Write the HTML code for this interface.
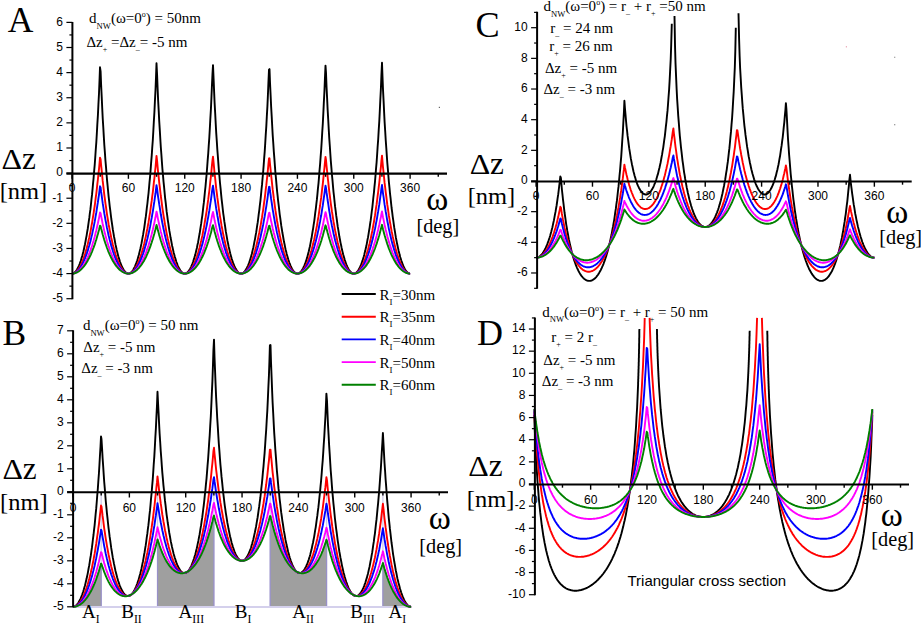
<!DOCTYPE html><html><head><meta charset="utf-8"><style>html,body{margin:0;padding:0;background:#fff;}svg{display:block;}</style></head><body><svg width="921" height="624" viewBox="0 0 921 624">
<rect width="921" height="624" fill="#fff"/>
<line x1="101.20" y1="491.80" x2="101.20" y2="606.80" stroke="#cfcaea" stroke-width="1.3"/>
<line x1="157.54" y1="491.80" x2="157.54" y2="606.80" stroke="#cfcaea" stroke-width="1.3"/>
<line x1="213.88" y1="491.80" x2="213.88" y2="606.80" stroke="#cfcaea" stroke-width="1.3"/>
<line x1="270.22" y1="491.80" x2="270.22" y2="606.80" stroke="#cfcaea" stroke-width="1.3"/>
<line x1="326.56" y1="491.80" x2="326.56" y2="606.80" stroke="#cfcaea" stroke-width="1.3"/>
<line x1="382.90" y1="491.80" x2="382.90" y2="606.80" stroke="#cfcaea" stroke-width="1.3"/>
<path d="M73.03,606.80 L73.03,606.80 L73.26,606.80 L73.50,606.79 L73.73,606.78 L73.97,606.76 L74.20,606.74 L74.44,606.71 L74.67,606.68 L74.91,606.64 L75.14,606.60 L75.38,606.55 L75.61,606.50 L75.85,606.44 L76.08,606.38 L76.32,606.32 L76.55,606.24 L76.79,606.17 L77.02,606.08 L77.26,606.00 L77.49,605.91 L77.72,605.81 L77.96,605.71 L78.19,605.60 L78.43,605.49 L78.66,605.37 L78.90,605.25 L79.13,605.12 L79.37,604.98 L79.60,604.85 L79.84,604.70 L80.07,604.55 L80.31,604.40 L80.54,604.24 L80.78,604.07 L81.01,603.90 L81.25,603.73 L81.48,603.55 L81.72,603.36 L81.95,603.17 L82.19,602.97 L82.42,602.77 L82.65,602.56 L82.89,602.34 L83.12,602.12 L83.36,601.90 L83.59,601.66 L83.83,601.43 L84.06,601.18 L84.30,600.93 L84.53,600.68 L84.77,600.42 L85.00,600.15 L85.24,599.88 L85.47,599.60 L85.71,599.31 L85.94,599.02 L86.18,598.72 L86.41,598.42 L86.65,598.11 L86.88,597.79 L87.11,597.47 L87.35,597.14 L87.58,596.80 L87.82,596.46 L88.05,596.11 L88.29,595.75 L88.52,595.38 L88.76,595.01 L88.99,594.64 L89.23,594.25 L89.46,593.86 L89.70,593.46 L89.93,593.05 L90.17,592.64 L90.40,592.22 L90.64,591.79 L90.87,591.35 L91.11,590.91 L91.34,590.45 L91.58,589.99 L91.81,589.52 L92.04,589.05 L92.28,588.56 L92.51,588.07 L92.75,587.57 L92.98,587.06 L93.22,586.54 L93.45,586.01 L93.69,585.48 L93.92,584.93 L94.16,584.38 L94.39,583.82 L94.63,583.24 L94.86,582.66 L95.10,582.07 L95.33,581.47 L95.57,580.86 L95.80,580.24 L96.04,579.61 L96.27,578.97 L96.50,578.32 L96.74,577.66 L96.97,576.98 L97.21,576.30 L97.44,575.61 L97.68,574.90 L97.91,574.19 L98.15,573.46 L98.38,572.72 L98.62,571.97 L98.85,571.20 L99.09,570.43 L99.32,569.64 L99.56,568.84 L99.79,568.03 L100.03,567.20 L100.26,566.36 L100.50,565.51 L100.73,564.64 L100.97,563.76 L101.20,562.87 L101.20,606.80 Z" fill="#9f9f9f" stroke="#9890c8" stroke-width="1.2"/>
<path d="M157.54,606.80 L157.54,539.25 L157.77,540.04 L158.01,540.82 L158.24,541.59 L158.48,542.34 L158.71,543.08 L158.95,543.80 L159.18,544.52 L159.42,545.22 L159.65,545.91 L159.89,546.58 L160.12,547.25 L160.36,547.90 L160.59,548.54 L160.83,549.17 L161.06,549.79 L161.30,550.40 L161.53,551.00 L161.77,551.59 L162.00,552.17 L162.24,552.73 L162.47,553.29 L162.70,553.84 L162.94,554.37 L163.17,554.90 L163.41,555.42 L163.64,555.92 L163.88,556.42 L164.11,556.91 L164.35,557.39 L164.58,557.86 L164.82,558.32 L165.05,558.78 L165.29,559.22 L165.52,559.66 L165.76,560.09 L165.99,560.50 L166.23,560.92 L166.46,561.32 L166.70,561.71 L166.93,562.10 L167.16,562.48 L167.40,562.85 L167.63,563.21 L167.87,563.57 L168.10,563.92 L168.34,564.26 L168.57,564.59 L168.81,564.92 L169.04,565.23 L169.28,565.55 L169.51,565.85 L169.75,566.15 L169.98,566.44 L170.22,566.72 L170.45,567.00 L170.69,567.27 L170.92,567.53 L171.16,567.79 L171.39,568.04 L171.62,568.28 L171.86,568.52 L172.09,568.75 L172.33,568.97 L172.56,569.19 L172.80,569.40 L173.03,569.61 L173.27,569.81 L173.50,570.00 L173.74,570.19 L173.97,570.37 L174.21,570.55 L174.44,570.72 L174.68,570.88 L174.91,571.04 L175.15,571.19 L175.38,571.34 L175.62,571.48 L175.85,571.61 L176.09,571.74 L176.32,571.87 L176.55,571.98 L176.79,572.10 L177.02,572.20 L177.26,572.30 L177.49,572.40 L177.73,572.49 L177.96,572.58 L178.20,572.66 L178.43,572.73 L178.67,572.80 L178.90,572.86 L179.14,572.92 L179.37,572.97 L179.61,573.02 L179.84,573.06 L180.08,573.10 L180.31,573.13 L180.55,573.16 L180.78,573.18 L181.01,573.20 L181.25,573.21 L181.48,573.22 L181.72,573.22 L181.95,573.21 L182.19,573.21 L182.42,573.19 L182.66,573.17 L182.89,573.15 L183.13,573.12 L183.36,573.08 L183.60,573.04 L183.83,573.00 L184.07,572.95 L184.30,572.89 L184.54,572.83 L184.77,572.77 L185.01,572.70 L185.24,572.63 L185.48,572.54 L185.71,572.46 L185.94,572.37 L186.18,572.27 L186.41,572.17 L186.65,572.07 L186.88,571.96 L187.12,571.84 L187.35,571.72 L187.59,571.60 L187.82,571.46 L188.06,571.33 L188.29,571.19 L188.53,571.04 L188.76,570.89 L189.00,570.73 L189.23,570.57 L189.47,570.40 L189.70,570.23 L189.94,570.05 L190.17,569.87 L190.41,569.68 L190.64,569.49 L190.87,569.29 L191.11,569.08 L191.34,568.87 L191.58,568.66 L191.81,568.44 L192.05,568.21 L192.28,567.98 L192.52,567.74 L192.75,567.50 L192.99,567.25 L193.22,566.99 L193.46,566.73 L193.69,566.47 L193.93,566.20 L194.16,565.92 L194.40,565.64 L194.63,565.35 L194.87,565.05 L195.10,564.75 L195.33,564.45 L195.57,564.13 L195.80,563.82 L196.04,563.49 L196.27,563.16 L196.51,562.82 L196.74,562.48 L196.98,562.13 L197.21,561.77 L197.45,561.41 L197.68,561.04 L197.92,560.67 L198.15,560.29 L198.39,559.90 L198.62,559.50 L198.86,559.10 L199.09,558.69 L199.33,558.28 L199.56,557.86 L199.79,557.43 L200.03,556.99 L200.26,556.55 L200.50,556.10 L200.73,555.64 L200.97,555.17 L201.20,554.70 L201.44,554.22 L201.67,553.73 L201.91,553.24 L202.14,552.73 L202.38,552.22 L202.61,551.70 L202.85,551.18 L203.08,550.64 L203.32,550.10 L203.55,549.55 L203.79,548.99 L204.02,548.42 L204.26,547.84 L204.49,547.25 L204.72,546.66 L204.96,546.06 L205.19,545.44 L205.43,544.82 L205.66,544.19 L205.90,543.55 L206.13,542.90 L206.37,542.24 L206.60,541.57 L206.84,540.90 L207.07,540.21 L207.31,539.51 L207.54,538.80 L207.78,538.08 L208.01,537.35 L208.25,536.61 L208.48,535.86 L208.72,535.09 L208.95,534.32 L209.19,533.53 L209.42,532.74 L209.65,531.93 L209.89,531.11 L210.12,530.28 L210.36,529.43 L210.59,528.57 L210.83,527.70 L211.06,526.82 L211.30,525.93 L211.53,525.02 L211.77,524.10 L212.00,523.16 L212.24,522.21 L212.47,521.25 L212.71,520.27 L212.94,519.28 L213.18,518.27 L213.41,517.25 L213.65,516.22 L213.88,515.16 L213.88,606.80 Z" fill="#9f9f9f" stroke="#9890c8" stroke-width="1.2"/>
<path d="M270.22,606.80 L270.22,515.16 L270.45,516.22 L270.69,517.25 L270.92,518.27 L271.16,519.28 L271.39,520.27 L271.63,521.25 L271.86,522.21 L272.10,523.16 L272.33,524.10 L272.57,525.02 L272.80,525.93 L273.04,526.82 L273.27,527.70 L273.51,528.57 L273.74,529.43 L273.98,530.28 L274.21,531.11 L274.45,531.93 L274.68,532.74 L274.91,533.53 L275.15,534.32 L275.38,535.09 L275.62,535.86 L275.85,536.61 L276.09,537.35 L276.32,538.08 L276.56,538.80 L276.79,539.51 L277.03,540.21 L277.26,540.90 L277.50,541.57 L277.73,542.24 L277.97,542.90 L278.20,543.55 L278.44,544.19 L278.67,544.82 L278.91,545.44 L279.14,546.06 L279.38,546.66 L279.61,547.25 L279.84,547.84 L280.08,548.42 L280.31,548.99 L280.55,549.55 L280.78,550.10 L281.02,550.64 L281.25,551.18 L281.49,551.70 L281.72,552.22 L281.96,552.73 L282.19,553.24 L282.43,553.73 L282.66,554.22 L282.90,554.70 L283.13,555.17 L283.37,555.64 L283.60,556.10 L283.84,556.55 L284.07,556.99 L284.30,557.43 L284.54,557.86 L284.77,558.28 L285.01,558.69 L285.24,559.10 L285.48,559.50 L285.71,559.90 L285.95,560.29 L286.18,560.67 L286.42,561.04 L286.65,561.41 L286.89,561.77 L287.12,562.13 L287.36,562.48 L287.59,562.82 L287.83,563.16 L288.06,563.49 L288.30,563.82 L288.53,564.13 L288.77,564.45 L289.00,564.75 L289.23,565.05 L289.47,565.35 L289.70,565.64 L289.94,565.92 L290.17,566.20 L290.41,566.47 L290.64,566.73 L290.88,566.99 L291.11,567.25 L291.35,567.50 L291.58,567.74 L291.82,567.98 L292.05,568.21 L292.29,568.44 L292.52,568.66 L292.76,568.87 L292.99,569.08 L293.23,569.29 L293.46,569.49 L293.69,569.68 L293.93,569.87 L294.16,570.05 L294.40,570.23 L294.63,570.40 L294.87,570.57 L295.10,570.73 L295.34,570.89 L295.57,571.04 L295.81,571.19 L296.04,571.33 L296.28,571.46 L296.51,571.60 L296.75,571.72 L296.98,571.84 L297.22,571.96 L297.45,572.07 L297.69,572.17 L297.92,572.27 L298.16,572.37 L298.39,572.46 L298.62,572.54 L298.86,572.63 L299.09,572.70 L299.33,572.77 L299.56,572.83 L299.80,572.89 L300.03,572.95 L300.27,573.00 L300.50,573.04 L300.74,573.08 L300.97,573.12 L301.21,573.15 L301.44,573.17 L301.68,573.19 L301.91,573.21 L302.15,573.21 L302.38,573.22 L302.62,573.22 L302.85,573.21 L303.08,573.20 L303.32,573.18 L303.55,573.16 L303.79,573.13 L304.02,573.10 L304.26,573.06 L304.49,573.02 L304.73,572.97 L304.96,572.92 L305.20,572.86 L305.43,572.80 L305.67,572.73 L305.90,572.66 L306.14,572.58 L306.37,572.49 L306.61,572.40 L306.84,572.30 L307.08,572.20 L307.31,572.10 L307.55,571.98 L307.78,571.87 L308.01,571.74 L308.25,571.61 L308.48,571.48 L308.72,571.34 L308.95,571.19 L309.19,571.04 L309.42,570.88 L309.66,570.72 L309.89,570.55 L310.13,570.37 L310.36,570.19 L310.60,570.00 L310.83,569.81 L311.07,569.61 L311.30,569.40 L311.54,569.19 L311.77,568.97 L312.01,568.75 L312.24,568.52 L312.48,568.28 L312.71,568.04 L312.94,567.79 L313.18,567.53 L313.41,567.27 L313.65,567.00 L313.88,566.72 L314.12,566.44 L314.35,566.15 L314.59,565.85 L314.82,565.55 L315.06,565.23 L315.29,564.92 L315.53,564.59 L315.76,564.26 L316.00,563.92 L316.23,563.57 L316.47,563.21 L316.70,562.85 L316.94,562.48 L317.17,562.10 L317.40,561.71 L317.64,561.32 L317.87,560.92 L318.11,560.50 L318.34,560.09 L318.58,559.66 L318.81,559.22 L319.05,558.78 L319.28,558.32 L319.52,557.86 L319.75,557.39 L319.99,556.91 L320.22,556.42 L320.46,555.92 L320.69,555.42 L320.93,554.90 L321.16,554.37 L321.40,553.84 L321.63,553.29 L321.87,552.73 L322.10,552.17 L322.33,551.59 L322.57,551.00 L322.80,550.40 L323.04,549.79 L323.27,549.17 L323.51,548.54 L323.74,547.90 L323.98,547.25 L324.21,546.58 L324.45,545.91 L324.68,545.22 L324.92,544.52 L325.15,543.80 L325.39,543.08 L325.62,542.34 L325.86,541.59 L326.09,540.82 L326.33,540.04 L326.56,539.25 L326.56,606.80 Z" fill="#9f9f9f" stroke="#9890c8" stroke-width="1.2"/>
<path d="M382.90,606.80 L382.90,562.87 L383.13,563.76 L383.37,564.64 L383.60,565.51 L383.84,566.36 L384.07,567.20 L384.31,568.03 L384.54,568.84 L384.78,569.64 L385.01,570.43 L385.25,571.20 L385.48,571.97 L385.72,572.72 L385.95,573.46 L386.19,574.19 L386.42,574.90 L386.66,575.61 L386.89,576.30 L387.13,576.98 L387.36,577.66 L387.60,578.32 L387.83,578.97 L388.06,579.61 L388.30,580.24 L388.53,580.86 L388.77,581.47 L389.00,582.07 L389.24,582.66 L389.47,583.24 L389.71,583.82 L389.94,584.38 L390.18,584.93 L390.41,585.48 L390.65,586.01 L390.88,586.54 L391.12,587.06 L391.35,587.57 L391.59,588.07 L391.82,588.56 L392.06,589.05 L392.29,589.52 L392.52,589.99 L392.76,590.45 L392.99,590.91 L393.23,591.35 L393.46,591.79 L393.70,592.22 L393.93,592.64 L394.17,593.05 L394.40,593.46 L394.64,593.86 L394.87,594.25 L395.11,594.64 L395.34,595.01 L395.58,595.38 L395.81,595.75 L396.05,596.11 L396.28,596.46 L396.52,596.80 L396.75,597.14 L396.99,597.47 L397.22,597.79 L397.45,598.11 L397.69,598.42 L397.92,598.72 L398.16,599.02 L398.39,599.31 L398.63,599.60 L398.86,599.88 L399.10,600.15 L399.33,600.42 L399.57,600.68 L399.80,600.93 L400.04,601.18 L400.27,601.43 L400.51,601.66 L400.74,601.90 L400.98,602.12 L401.21,602.34 L401.45,602.56 L401.68,602.77 L401.91,602.97 L402.15,603.17 L402.38,603.36 L402.62,603.55 L402.85,603.73 L403.09,603.90 L403.32,604.07 L403.56,604.24 L403.79,604.40 L404.03,604.55 L404.26,604.70 L404.50,604.85 L404.73,604.98 L404.97,605.12 L405.20,605.25 L405.44,605.37 L405.67,605.49 L405.91,605.60 L406.14,605.71 L406.38,605.81 L406.61,605.91 L406.84,606.00 L407.08,606.08 L407.31,606.17 L407.55,606.24 L407.78,606.32 L408.02,606.38 L408.25,606.44 L408.49,606.50 L408.72,606.55 L408.96,606.60 L409.19,606.64 L409.43,606.68 L409.66,606.71 L409.90,606.74 L410.13,606.76 L410.37,606.78 L410.60,606.79 L410.84,606.80 L411.07,606.80 L411.07,606.80 Z" fill="#9f9f9f" stroke="#9890c8" stroke-width="1.2"/>
<line x1="73.03" y1="607.00" x2="411.07" y2="607.00" stroke="#d4d0ec" stroke-width="2"/>
<polyline points="72.1,273.6 72.6,273.5 73.1,273.4 73.7,273.2 74.2,272.8 74.8,272.4 75.3,271.9 75.8,271.2 76.4,270.5 76.9,269.7 77.4,268.8 78.0,267.8 78.5,266.6 79.1,265.4 79.6,264.1 80.1,262.6 80.7,261.1 81.2,259.4 81.7,257.6 82.3,255.7 82.8,253.7 83.4,251.5 83.9,249.2 84.4,246.8 85.0,244.2 85.5,241.5 86.0,238.6 86.6,235.6 87.1,232.4 87.7,229.0 88.2,225.5 88.7,221.8 89.3,217.9 89.8,213.7 90.4,209.4 90.9,204.8 91.4,200.0 92.0,194.9 92.5,189.6 93.0,184.0 93.6,178.0 94.1,171.7 94.7,165.0 95.2,158.0 95.7,150.5 96.3,142.5 96.8,134.0 97.3,124.9 97.9,115.2 98.4,104.7 99.0,93.3 99.5,80.9 100.0,67.3 100.6,71.3 101.1,84.5 101.7,96.6 102.2,107.7 102.7,118.0 103.3,127.5 103.8,136.4 104.3,144.8 104.9,152.6 105.4,160.0 106.0,166.9 106.5,173.5 107.0,179.7 107.6,185.6 108.1,191.1 108.6,196.4 109.2,201.4 109.7,206.1 110.3,210.6 110.8,214.9 111.3,219.0 111.9,222.9 112.4,226.5 112.9,230.0 113.5,233.3 114.0,236.5 114.6,239.4 115.1,242.3 115.6,244.9 116.2,247.5 116.7,249.9 117.3,252.1 117.8,254.2 118.3,256.2 118.9,258.1 119.4,259.9 119.9,261.5 120.5,263.0 121.0,264.5 121.6,265.8 122.1,267.0 122.6,268.1 123.2,269.1 123.7,269.9 124.2,270.7 124.8,271.4 125.3,272.0 125.9,272.5 126.4,272.9 126.9,273.2 127.5,273.4 128.0,273.6 128.6,273.6 129.1,273.5 129.6,273.3 130.2,273.1 130.7,272.7 131.2,272.3 131.8,271.7 132.3,271.1 132.9,270.3 133.4,269.5 133.9,268.5 134.5,267.5 135.0,266.3 135.5,265.0 136.1,263.7 136.6,262.2 137.2,260.6 137.7,258.9 138.2,257.1 138.8,255.1 139.3,253.1 139.8,250.9 140.4,248.5 140.9,246.1 141.5,243.4 142.0,240.7 142.5,237.8 143.1,234.7 143.6,231.5 144.2,228.1 144.7,224.5 145.2,220.7 145.8,216.7 146.3,212.6 146.8,208.1 147.4,203.5 147.9,198.6 148.5,193.5 149.0,188.0 149.5,182.3 150.1,176.3 150.6,169.9 151.1,163.1 151.7,155.9 152.2,148.3 152.8,140.2 153.3,131.5 153.8,122.2 154.4,112.3 154.9,101.6 155.5,89.9 156.0,77.2 156.5,63.3 157.1,75.1 157.6,88.0 158.1,99.8 158.7,110.6 159.2,120.7 159.8,130.1 160.3,138.8 160.8,147.0 161.4,154.7 161.9,162.0 162.4,168.8 163.0,175.3 163.5,181.4 164.1,187.2 164.6,192.6 165.1,197.8 165.7,202.7 166.2,207.4 166.7,211.9 167.3,216.1 167.8,220.1 168.4,223.9 168.9,227.5 169.4,230.9 170.0,234.2 170.5,237.3 171.1,240.2 171.6,243.0 172.1,245.7 172.7,248.1 173.2,250.5 173.7,252.7 174.3,254.8 174.8,256.8 175.4,258.6 175.9,260.3 176.4,262.0 177.0,263.4 177.5,264.8 178.0,266.1 178.6,267.3 179.1,268.4 179.7,269.3 180.2,270.2 180.7,270.9 181.3,271.6 181.8,272.2 182.4,272.6 182.9,273.0 183.4,273.3 184.0,273.5 184.5,273.6 185.0,273.6 185.6,273.5 186.1,273.3 186.7,273.0 187.2,272.6 187.7,272.1 188.3,271.5 188.8,270.9 189.3,270.1 189.9,269.2 190.4,268.2 191.0,267.1 191.5,266.0 192.0,264.7 192.6,263.3 193.1,261.8 193.6,260.1 194.2,258.4 194.7,256.5 195.3,254.6 195.8,252.5 196.3,250.2 196.9,247.9 197.4,245.3 198.0,242.7 198.5,239.9 199.0,236.9 199.6,233.8 200.1,230.5 200.6,227.1 201.2,223.4 201.7,219.6 202.3,215.6 202.8,211.3 203.3,206.9 203.9,202.2 204.4,197.2 204.9,192.0 205.5,186.5 206.0,180.7 206.6,174.5 207.1,168.0 207.6,161.1 208.2,153.8 208.7,146.1 209.3,137.8 209.8,129.0 210.3,119.5 210.9,109.4 211.4,98.4 211.9,86.5 212.5,73.5 213.0,65.1 213.6,78.8 214.1,91.4 214.6,102.9 215.2,113.5 215.7,123.4 216.2,132.6 216.8,141.2 217.3,149.2 217.9,156.8 218.4,163.9 218.9,170.7 219.5,177.0 220.0,183.0 220.6,188.7 221.1,194.1 221.6,199.2 222.2,204.1 222.7,208.7 223.2,213.1 223.8,217.2 224.3,221.2 224.9,224.9 225.4,228.5 225.9,231.9 226.5,235.1 227.0,238.1 227.5,241.0 228.1,243.8 228.6,246.4 229.2,248.8 229.7,251.1 230.2,253.3 230.8,255.4 231.3,257.3 231.8,259.1 232.4,260.8 232.9,262.4 233.5,263.8 234.0,265.2 234.5,266.5 235.1,267.6 235.6,268.6 236.2,269.6 236.7,270.4 237.2,271.1 237.8,271.8 238.3,272.3 238.8,272.8 239.4,273.1 239.9,273.4 240.5,273.5 241.0,273.6 241.5,273.5 242.1,273.4 242.6,273.2 243.1,272.9 243.7,272.5 244.2,272.0 244.8,271.4 245.3,270.6 245.8,269.8 246.4,268.9 246.9,267.9 247.5,266.8 248.0,265.6 248.5,264.3 249.1,262.9 249.6,261.3 250.1,259.7 250.7,257.9 251.2,256.0 251.8,254.0 252.3,251.8 252.8,249.6 253.4,247.2 253.9,244.6 254.4,241.9 255.0,239.1 255.5,236.1 256.1,232.9 256.6,229.6 257.1,226.1 257.7,222.4 258.2,218.5 258.7,214.4 259.3,210.1 259.8,205.6 260.4,200.8 260.9,195.8 261.4,190.5 262.0,184.9 262.5,179.0 263.1,172.7 263.6,166.1 264.1,159.1 264.7,151.7 265.2,143.8 265.7,135.4 266.3,126.4 266.8,116.8 267.4,106.4 267.9,95.2 268.4,83.0 269.0,69.6 269.5,69.1 270.0,82.5 270.6,94.7 271.1,106.0 271.7,116.4 272.2,126.0 272.7,135.1 273.3,143.5 273.8,151.4 274.4,158.8 274.9,165.9 275.4,172.5 276.0,178.7 276.5,184.7 277.0,190.3 277.6,195.6 278.1,200.6 278.7,205.4 279.2,209.9 279.7,214.3 280.3,218.4 280.8,222.2 281.3,225.9 281.9,229.5 282.4,232.8 283.0,236.0 283.5,239.0 284.0,241.8 284.6,244.5 285.1,247.1 285.6,249.5 286.2,251.8 286.7,253.9 287.3,255.9 287.8,257.8 288.3,259.6 288.9,261.3 289.4,262.8 290.0,264.2 290.5,265.6 291.0,266.8 291.6,267.9 292.1,268.9 292.6,269.8 293.2,270.6 293.7,271.3 294.3,271.9 294.8,272.4 295.3,272.9 295.9,273.2 296.4,273.4 296.9,273.5 297.5,273.6 298.0,273.5 298.6,273.4 299.1,273.1 299.6,272.8 300.2,272.3 300.7,271.8 301.3,271.2 301.8,270.4 302.3,269.6 302.9,268.7 303.4,267.6 303.9,266.5 304.5,265.3 305.0,263.9 305.6,262.4 306.1,260.9 306.6,259.2 307.2,257.4 307.7,255.4 308.2,253.4 308.8,251.2 309.3,248.9 309.9,246.5 310.4,243.9 310.9,241.1 311.5,238.3 312.0,235.2 312.5,232.0 313.1,228.6 313.6,225.1 314.2,221.3 314.7,217.4 315.2,213.2 315.8,208.9 316.3,204.3 316.9,199.4 317.4,194.3 317.9,188.9 318.5,183.3 319.0,177.3 319.5,170.9 320.1,164.2 320.6,157.1 321.2,149.5 321.7,141.5 322.2,132.9 322.8,123.8 323.3,113.9 323.8,103.3 324.4,91.8 324.9,79.3 325.5,65.6 326.0,72.9 326.5,86.0 327.1,98.0 327.6,109.0 328.2,119.2 328.7,128.6 329.2,137.5 329.8,145.8 330.3,153.5 330.8,160.9 331.4,167.8 331.9,174.3 332.5,180.4 333.0,186.3 333.5,191.8 334.1,197.0 334.6,202.0 335.1,206.7 335.7,211.2 336.2,215.4 336.8,219.5 337.3,223.3 337.8,227.0 338.4,230.4 338.9,233.7 339.4,236.8 340.0,239.8 340.5,242.6 341.1,245.2 341.6,247.8 342.1,250.1 342.7,252.4 343.2,254.5 343.8,256.5 344.3,258.3 344.8,260.1 345.4,261.7 345.9,263.2 346.4,264.6 347.0,265.9 347.5,267.1 348.1,268.2 348.6,269.2 349.1,270.0 349.7,270.8 350.2,271.5 350.7,272.1 351.3,272.6 351.8,273.0 352.4,273.3 352.9,273.5 353.4,273.6 354.0,273.6 354.5,273.5 355.1,273.3 355.6,273.0 356.1,272.7 356.7,272.2 357.2,271.6 357.7,271.0 358.3,270.2 358.8,269.3 359.4,268.4 359.9,267.3 360.4,266.2 361.0,264.9 361.5,263.5 362.0,262.0 362.6,260.4 363.1,258.7 363.7,256.8 364.2,254.9 364.7,252.8 365.3,250.6 365.8,248.2 366.4,245.8 366.9,243.1 367.4,240.3 368.0,237.4 368.5,234.3 369.0,231.1 369.6,227.6 370.1,224.0 370.7,220.2 371.2,216.2 371.7,212.0 372.3,207.6 372.8,202.9 373.3,198.0 373.9,192.8 374.4,187.4 375.0,181.6 375.5,175.5 376.0,169.1 376.6,162.3 377.1,155.0 377.6,147.3 378.2,139.2 378.7,130.4 379.3,121.1 379.8,111.0 380.3,100.2 380.9,88.5 381.4,75.6 382.0,62.7 382.5,76.7 383.0,89.5 383.6,101.1 384.1,111.9 384.6,121.9 385.2,131.2 385.7,139.8 386.3,148.0 386.8,155.6 387.3,162.8 387.9,169.6 388.4,176.0 388.9,182.1 389.5,187.8 390.0,193.3 390.6,198.4 391.1,203.3 391.6,208.0 392.2,212.4 392.7,216.6 393.3,220.6 393.8,224.3 394.3,227.9 394.9,231.4 395.4,234.6 395.9,237.7 396.5,240.6 397.0,243.3 397.6,246.0 398.1,248.4 398.6,250.8 399.2,253.0 399.7,255.1 400.2,257.0 400.8,258.8 401.3,260.5 401.9,262.1 402.4,263.6 402.9,265.0 403.5,266.3 404.0,267.4 404.5,268.5 405.1,269.4 405.6,270.3 406.2,271.0 406.7,271.7 407.2,272.2 407.8,272.7 408.3,273.1 408.9,273.3 409.4,273.5 409.9,273.6 410.1,273.6" fill="none" stroke="#000000" stroke-width="1.9" stroke-linejoin="round" stroke-linecap="butt"/>
<polyline points="72.1,273.6 72.6,273.5 73.1,273.5 73.7,273.3 74.2,273.1 74.8,272.8 75.3,272.4 75.8,272.0 76.4,271.5 76.9,271.0 77.4,270.3 78.0,269.7 78.5,268.9 79.1,268.1 79.6,267.2 80.1,266.2 80.7,265.2 81.2,264.1 81.7,262.9 82.3,261.6 82.8,260.3 83.4,258.8 83.9,257.3 84.4,255.8 85.0,254.1 85.5,252.3 86.0,250.5 86.6,248.5 87.1,246.5 87.7,244.3 88.2,242.1 88.7,239.8 89.3,237.3 89.8,234.8 90.4,232.1 90.9,229.3 91.4,226.4 92.0,223.3 92.5,220.1 93.0,216.8 93.6,213.3 94.1,209.7 94.7,206.0 95.2,202.0 95.7,197.9 96.3,193.6 96.8,189.1 97.3,184.4 97.9,179.5 98.4,174.4 99.0,169.1 99.5,163.5 100.0,157.6 100.6,159.3 101.1,165.1 101.7,170.6 102.2,175.9 102.7,180.9 103.3,185.8 103.8,190.4 104.3,194.8 104.9,199.1 105.4,203.1 106.0,207.0 106.5,210.8 107.0,214.3 107.6,217.8 108.1,221.0 108.6,224.2 109.2,227.2 109.7,230.1 110.3,232.8 110.8,235.5 111.3,238.0 111.9,240.4 112.4,242.7 112.9,245.0 113.5,247.1 114.0,249.1 114.6,251.0 115.1,252.8 115.6,254.6 116.2,256.2 116.7,257.8 117.3,259.3 117.8,260.7 118.3,262.0 118.9,263.2 119.4,264.4 119.9,265.5 120.5,266.5 121.0,267.4 121.6,268.3 122.1,269.1 122.6,269.9 123.2,270.5 123.7,271.1 124.2,271.7 124.8,272.1 125.3,272.5 125.9,272.9 126.4,273.1 126.9,273.3 127.5,273.5 128.0,273.6 128.6,273.6 129.1,273.5 129.6,273.4 130.2,273.2 130.7,273.0 131.2,272.7 131.8,272.3 132.3,271.9 132.9,271.4 133.4,270.8 133.9,270.2 134.5,269.5 135.0,268.7 135.5,267.8 136.1,266.9 136.6,265.9 137.2,264.9 137.7,263.7 138.2,262.5 138.8,261.2 139.3,259.9 139.8,258.4 140.4,256.9 140.9,255.3 141.5,253.6 142.0,251.8 142.5,249.9 143.1,248.0 143.6,245.9 144.2,243.7 144.7,241.5 145.2,239.1 145.8,236.6 146.3,234.0 146.8,231.3 147.4,228.5 147.9,225.5 148.5,222.4 149.0,219.2 149.5,215.9 150.1,212.3 150.6,208.7 151.1,204.9 151.7,200.9 152.2,196.7 152.8,192.4 153.3,187.8 153.8,183.1 154.4,178.1 154.9,172.9 155.5,167.5 156.0,161.8 156.5,155.9 157.1,160.9 157.6,166.6 158.1,172.1 158.7,177.3 159.2,182.3 159.8,187.1 160.3,191.7 160.8,196.0 161.4,200.2 161.9,204.2 162.4,208.1 163.0,211.8 163.5,215.3 164.1,218.7 164.6,221.9 165.1,225.0 165.7,228.0 166.2,230.9 166.7,233.6 167.3,236.2 167.8,238.7 168.4,241.1 168.9,243.4 169.4,245.6 170.0,247.6 170.5,249.6 171.1,251.5 171.6,253.3 172.1,255.0 172.7,256.7 173.2,258.2 173.7,259.7 174.3,261.0 174.8,262.3 175.4,263.6 175.9,264.7 176.4,265.8 177.0,266.8 177.5,267.7 178.0,268.5 178.6,269.3 179.1,270.1 179.7,270.7 180.2,271.3 180.7,271.8 181.3,272.2 181.8,272.6 182.4,272.9 182.9,273.2 183.4,273.4 184.0,273.5 184.5,273.6 185.0,273.6 185.6,273.5 186.1,273.4 186.7,273.2 187.2,272.9 187.7,272.6 188.3,272.2 188.8,271.7 189.3,271.2 189.9,270.6 190.4,270.0 191.0,269.2 191.5,268.4 192.0,267.6 192.6,266.6 193.1,265.6 193.6,264.6 194.2,263.4 194.7,262.2 195.3,260.9 195.8,259.5 196.3,258.0 196.9,256.5 197.4,254.8 198.0,253.1 198.5,251.3 199.0,249.4 199.6,247.4 200.1,245.3 200.6,243.1 201.2,240.8 201.7,238.4 202.3,235.9 202.8,233.3 203.3,230.5 203.9,227.7 204.4,224.7 204.9,221.5 205.5,218.3 206.0,214.9 206.6,211.3 207.1,207.6 207.6,203.8 208.2,199.7 208.7,195.5 209.3,191.1 209.8,186.5 210.3,181.7 210.9,176.7 211.4,171.4 211.9,165.9 212.5,160.2 213.0,156.6 213.6,162.5 214.1,168.2 214.6,173.6 215.2,178.7 215.7,183.7 216.2,188.4 216.8,192.9 217.3,197.2 217.9,201.4 218.4,205.3 218.9,209.1 219.5,212.8 220.0,216.3 220.6,219.6 221.1,222.8 221.6,225.9 222.2,228.8 222.7,231.6 223.2,234.3 223.8,236.9 224.3,239.4 224.9,241.7 225.4,244.0 225.9,246.2 226.5,248.2 227.0,250.2 227.5,252.0 228.1,253.8 228.6,255.5 229.2,257.1 229.7,258.6 230.2,260.0 230.8,261.4 231.3,262.7 231.8,263.9 232.4,265.0 232.9,266.1 233.5,267.0 234.0,267.9 234.5,268.8 235.1,269.5 235.6,270.2 236.2,270.9 236.7,271.4 237.2,271.9 237.8,272.4 238.3,272.7 238.8,273.0 239.4,273.3 239.9,273.4 240.5,273.5 241.0,273.6 241.5,273.6 242.1,273.5 242.6,273.3 243.1,273.1 243.7,272.8 244.2,272.5 244.8,272.1 245.3,271.6 245.8,271.1 246.4,270.4 246.9,269.8 247.5,269.0 248.0,268.2 248.5,267.3 249.1,266.4 249.6,265.3 250.1,264.2 250.7,263.1 251.2,261.8 251.8,260.5 252.3,259.1 252.8,257.6 253.4,256.0 253.9,254.4 254.4,252.6 255.0,250.8 255.5,248.8 256.1,246.8 256.6,244.7 257.1,242.5 257.7,240.1 258.2,237.7 258.7,235.2 259.3,232.5 259.8,229.7 260.4,226.8 260.9,223.8 261.4,220.6 262.0,217.4 262.5,213.9 263.1,210.3 263.6,206.6 264.1,202.7 264.7,198.6 265.2,194.3 265.7,189.8 266.3,185.2 266.8,180.3 267.4,175.2 267.9,169.9 268.4,164.4 269.0,158.5 269.5,158.3 270.0,164.1 270.6,169.7 271.1,175.0 271.7,180.1 272.2,185.0 272.7,189.7 273.3,194.1 273.8,198.4 274.4,202.5 274.9,206.4 275.4,210.2 276.0,213.8 276.5,217.2 277.0,220.5 277.6,223.7 278.1,226.7 278.7,229.6 279.2,232.4 279.7,235.1 280.3,237.6 280.8,240.1 281.3,242.4 281.9,244.6 282.4,246.7 283.0,248.8 283.5,250.7 284.0,252.5 284.6,254.3 285.1,255.9 285.6,257.5 286.2,259.0 286.7,260.4 287.3,261.8 287.8,263.0 288.3,264.2 288.9,265.3 289.4,266.3 290.0,267.3 290.5,268.2 291.0,269.0 291.6,269.7 292.1,270.4 292.6,271.0 293.2,271.6 293.7,272.1 294.3,272.5 294.8,272.8 295.3,273.1 295.9,273.3 296.4,273.5 296.9,273.6 297.5,273.6 298.0,273.5 298.6,273.4 299.1,273.3 299.6,273.0 300.2,272.7 300.7,272.4 301.3,271.9 301.8,271.5 302.3,270.9 302.9,270.3 303.4,269.6 303.9,268.8 304.5,268.0 305.0,267.1 305.6,266.1 306.1,265.0 306.6,263.9 307.2,262.7 307.7,261.5 308.2,260.1 308.8,258.7 309.3,257.2 309.9,255.6 310.4,253.9 310.9,252.1 311.5,250.2 312.0,248.3 312.5,246.2 313.1,244.1 313.6,241.8 314.2,239.5 314.7,237.0 315.2,234.4 315.8,231.7 316.3,228.9 316.9,226.0 317.4,222.9 317.9,219.7 318.5,216.4 319.0,212.9 319.5,209.3 320.1,205.5 320.6,201.5 321.2,197.4 321.7,193.1 322.2,188.6 322.8,183.8 323.3,178.9 323.8,173.8 324.4,168.4 324.9,162.8 325.5,156.9 326.0,160.0 326.5,165.7 327.1,171.2 327.6,176.5 328.2,181.5 328.7,186.3 329.2,190.9 329.8,195.3 330.3,199.6 330.8,203.6 331.4,207.5 331.9,211.2 332.5,214.8 333.0,218.2 333.5,221.4 334.1,224.6 334.6,227.6 335.1,230.4 335.7,233.2 336.2,235.8 336.8,238.3 337.3,240.7 337.8,243.0 338.4,245.2 338.9,247.3 339.4,249.3 340.0,251.2 340.5,253.0 341.1,254.8 341.6,256.4 342.1,258.0 342.7,259.4 343.2,260.8 343.8,262.1 344.3,263.4 344.8,264.5 345.4,265.6 345.9,266.6 346.4,267.6 347.0,268.4 347.5,269.2 348.1,269.9 348.6,270.6 349.1,271.2 349.7,271.7 350.2,272.2 350.7,272.6 351.3,272.9 351.8,273.2 352.4,273.4 352.9,273.5 353.4,273.6 354.0,273.6 354.5,273.5 355.1,273.4 355.6,273.2 356.1,273.0 356.7,272.6 357.2,272.3 357.7,271.8 358.3,271.3 358.8,270.7 359.4,270.1 359.9,269.4 360.4,268.6 361.0,267.7 361.5,266.8 362.0,265.8 362.6,264.7 363.1,263.6 363.7,262.4 364.2,261.1 364.7,259.7 365.3,258.3 365.8,256.7 366.4,255.1 366.9,253.4 367.4,251.6 368.0,249.7 368.5,247.7 369.0,245.6 369.6,243.5 370.1,241.2 370.7,238.8 371.2,236.3 371.7,233.7 372.3,231.0 372.8,228.1 373.3,225.2 373.9,222.1 374.4,218.8 375.0,215.4 375.5,211.9 376.0,208.2 376.6,204.4 377.1,200.4 377.6,196.2 378.2,191.8 378.7,187.3 379.3,182.5 379.8,177.5 380.3,172.3 380.9,166.8 381.4,161.1 382.0,155.7 382.5,161.6 383.0,167.3 383.6,172.7 384.1,177.9 384.6,182.9 385.2,187.6 385.7,192.2 386.3,196.5 386.8,200.7 387.3,204.7 387.9,208.5 388.4,212.2 388.9,215.7 389.5,219.1 390.0,222.3 390.6,225.4 391.1,228.4 391.6,231.2 392.2,233.9 392.7,236.5 393.3,239.0 393.8,241.4 394.3,243.6 394.9,245.8 395.4,247.9 395.9,249.9 396.5,251.7 397.0,253.5 397.6,255.2 398.1,256.8 398.6,258.4 399.2,259.8 399.7,261.2 400.2,262.5 400.8,263.7 401.3,264.8 401.9,265.9 402.4,266.9 402.9,267.8 403.5,268.6 404.0,269.4 404.5,270.1 405.1,270.8 405.6,271.3 406.2,271.9 406.7,272.3 407.2,272.7 407.8,273.0 408.3,273.2 408.9,273.4 409.4,273.5 409.9,273.6 410.1,273.6" fill="none" stroke="#ff0000" stroke-width="1.9" stroke-linejoin="round" stroke-linecap="butt"/>
<polyline points="72.1,273.6 72.6,273.6 73.1,273.5 73.7,273.4 74.2,273.2 74.8,273.0 75.3,272.7 75.8,272.3 76.4,272.0 76.9,271.5 77.4,271.0 78.0,270.5 78.5,269.9 79.1,269.3 79.6,268.6 80.1,267.8 80.7,267.0 81.2,266.1 81.7,265.2 82.3,264.2 82.8,263.2 83.4,262.1 83.9,260.9 84.4,259.7 85.0,258.4 85.5,257.0 86.0,255.6 86.6,254.1 87.1,252.5 87.7,250.9 88.2,249.1 88.7,247.3 89.3,245.5 89.8,243.5 90.4,241.5 90.9,239.3 91.4,237.1 92.0,234.8 92.5,232.4 93.0,229.9 93.6,227.3 94.1,224.6 94.7,221.7 95.2,218.8 95.7,215.7 96.3,212.5 96.8,209.2 97.3,205.8 97.9,202.2 98.4,198.5 99.0,194.6 99.5,190.5 100.0,186.3 100.6,187.5 101.1,191.7 101.7,195.7 102.2,199.5 102.7,203.2 103.3,206.8 103.8,210.2 104.3,213.4 104.9,216.6 105.4,219.6 106.0,222.5 106.5,225.3 107.0,228.0 107.6,230.6 108.1,233.1 108.6,235.5 109.2,237.7 109.7,239.9 110.3,242.0 110.8,244.1 111.3,246.0 111.9,247.9 112.4,249.6 112.9,251.3 113.5,253.0 114.0,254.5 114.6,256.0 115.1,257.4 115.6,258.7 116.2,260.0 116.7,261.2 117.3,262.4 117.8,263.5 118.3,264.5 118.9,265.5 119.4,266.4 119.9,267.2 120.5,268.0 121.0,268.8 121.6,269.5 122.1,270.1 122.6,270.7 123.2,271.2 123.7,271.7 124.2,272.1 124.8,272.4 125.3,272.8 125.9,273.0 126.4,273.2 126.9,273.4 127.5,273.5 128.0,273.6 128.6,273.6 129.1,273.5 129.6,273.4 130.2,273.3 130.7,273.1 131.2,272.9 131.8,272.6 132.3,272.2 132.9,271.8 133.4,271.4 133.9,270.9 134.5,270.3 135.0,269.7 135.5,269.1 136.1,268.4 136.6,267.6 137.2,266.8 137.7,265.9 138.2,264.9 138.8,263.9 139.3,262.9 139.8,261.8 140.4,260.6 140.9,259.3 141.5,258.0 142.0,256.6 142.5,255.2 143.1,253.6 143.6,252.1 144.2,250.4 144.7,248.6 145.2,246.8 145.8,244.9 146.3,242.9 146.8,240.9 147.4,238.7 147.9,236.5 148.5,234.1 149.0,231.7 149.5,229.2 150.1,226.5 150.6,223.8 151.1,220.9 151.7,217.9 152.2,214.8 152.8,211.6 153.3,208.3 153.8,204.8 154.4,201.2 154.9,197.4 155.5,193.5 156.0,189.4 156.5,185.1 157.1,188.7 157.6,192.8 158.1,196.8 158.7,200.6 159.2,204.2 159.8,207.7 160.3,211.1 160.8,214.3 161.4,217.5 161.9,220.5 162.4,223.3 163.0,226.1 163.5,228.8 164.1,231.3 164.6,233.8 165.1,236.1 165.7,238.4 166.2,240.5 166.7,242.6 167.3,244.6 167.8,246.5 168.4,248.4 168.9,250.1 169.4,251.8 170.0,253.4 170.5,254.9 171.1,256.4 171.6,257.8 172.1,259.1 172.7,260.4 173.2,261.6 173.7,262.7 174.3,263.8 174.8,264.8 175.4,265.7 175.9,266.6 176.4,267.5 177.0,268.2 177.5,269.0 178.0,269.6 178.6,270.3 179.1,270.8 179.7,271.3 180.2,271.8 180.7,272.2 181.3,272.5 181.8,272.8 182.4,273.1 182.9,273.3 183.4,273.4 184.0,273.5 184.5,273.6 185.0,273.6 185.6,273.5 186.1,273.4 186.7,273.3 187.2,273.1 187.7,272.8 188.3,272.5 188.8,272.1 189.3,271.7 189.9,271.3 190.4,270.8 191.0,270.2 191.5,269.6 192.0,268.9 192.6,268.2 193.1,267.4 193.6,266.5 194.2,265.6 194.7,264.7 195.3,263.6 195.8,262.6 196.3,261.4 196.9,260.2 197.4,259.0 198.0,257.6 198.5,256.2 199.0,254.7 199.6,253.2 200.1,251.6 200.6,249.9 201.2,248.1 201.7,246.3 202.3,244.4 202.8,242.4 203.3,240.3 203.9,238.1 204.4,235.8 204.9,233.5 205.5,231.0 206.0,228.4 206.6,225.8 207.1,223.0 207.6,220.1 208.2,217.1 208.7,214.0 209.3,210.7 209.8,207.3 210.3,203.8 210.9,200.1 211.4,196.3 211.9,192.3 212.5,188.2 213.0,185.6 213.6,189.9 214.1,193.9 214.6,197.8 215.2,201.6 215.7,205.2 216.2,208.7 216.8,212.0 217.3,215.2 217.9,218.3 218.4,221.3 218.9,224.1 219.5,226.8 220.0,229.5 220.6,232.0 221.1,234.4 221.6,236.8 222.2,239.0 222.7,241.1 223.2,243.2 223.8,245.2 224.3,247.1 224.9,248.9 225.4,250.6 225.9,252.3 226.5,253.8 227.0,255.3 227.5,256.8 228.1,258.2 228.6,259.5 229.2,260.7 229.7,261.9 230.2,263.0 230.8,264.1 231.3,265.1 231.8,266.0 232.4,266.9 232.9,267.7 233.5,268.5 234.0,269.2 234.5,269.8 235.1,270.4 235.6,271.0 236.2,271.5 236.7,271.9 237.2,272.3 237.8,272.6 238.3,272.9 238.8,273.1 239.4,273.3 239.9,273.5 240.5,273.5 241.0,273.6 241.5,273.6 242.1,273.5 242.6,273.4 243.1,273.2 243.7,273.0 244.2,272.7 244.8,272.4 245.3,272.0 245.8,271.6 246.4,271.1 246.9,270.6 247.5,270.0 248.0,269.4 248.5,268.7 249.1,267.9 249.6,267.1 250.1,266.3 250.7,265.4 251.2,264.4 251.8,263.4 252.3,262.3 252.8,261.1 253.4,259.9 253.9,258.6 254.4,257.2 255.0,255.8 255.5,254.3 256.1,252.8 256.6,251.1 257.1,249.4 257.7,247.6 258.2,245.8 258.7,243.8 259.3,241.8 259.8,239.7 260.4,237.5 260.9,235.2 261.4,232.8 262.0,230.3 262.5,227.7 263.1,225.0 263.6,222.2 264.1,219.3 264.7,216.2 265.2,213.1 265.7,209.8 266.3,206.3 266.8,202.8 267.4,199.1 267.9,195.2 268.4,191.2 269.0,187.0 269.5,186.8 270.0,191.0 270.6,195.0 271.1,198.9 271.7,202.6 272.2,206.2 272.7,209.6 273.3,212.9 273.8,216.1 274.4,219.2 274.9,222.1 275.4,224.9 276.0,227.6 276.5,230.2 277.0,232.7 277.6,235.1 278.1,237.4 278.7,239.6 279.2,241.7 279.7,243.7 280.3,245.7 280.8,247.6 281.3,249.4 281.9,251.1 282.4,252.7 283.0,254.3 283.5,255.8 284.0,257.2 284.6,258.5 285.1,259.8 285.6,261.1 286.2,262.2 286.7,263.3 287.3,264.3 287.8,265.3 288.3,266.2 288.9,267.1 289.4,267.9 290.0,268.7 290.5,269.4 291.0,270.0 291.6,270.6 292.1,271.1 292.6,271.6 293.2,272.0 293.7,272.4 294.3,272.7 294.8,273.0 295.3,273.2 295.9,273.4 296.4,273.5 296.9,273.6 297.5,273.6 298.0,273.5 298.6,273.5 299.1,273.3 299.6,273.2 300.2,272.9 300.7,272.6 301.3,272.3 301.8,271.9 302.3,271.5 302.9,271.0 303.4,270.4 303.9,269.8 304.5,269.2 305.0,268.5 305.6,267.7 306.1,266.9 306.6,266.0 307.2,265.1 307.7,264.1 308.2,263.1 308.8,261.9 309.3,260.8 309.9,259.5 310.4,258.2 310.9,256.8 311.5,255.4 312.0,253.9 312.5,252.3 313.1,250.7 313.6,248.9 314.2,247.1 314.7,245.2 315.2,243.3 315.8,241.2 316.3,239.1 316.9,236.8 317.4,234.5 317.9,232.1 318.5,229.6 319.0,227.0 319.5,224.2 320.1,221.4 320.6,218.4 321.2,215.3 321.7,212.1 322.2,208.8 322.8,205.4 323.3,201.7 323.8,198.0 324.4,194.1 324.9,190.0 325.5,185.8 326.0,188.0 326.5,192.2 327.1,196.1 327.6,200.0 328.2,203.6 328.7,207.2 329.2,210.6 329.8,213.8 330.3,217.0 330.8,220.0 331.4,222.9 331.9,225.7 332.5,228.3 333.0,230.9 333.5,233.4 334.1,235.7 334.6,238.0 335.1,240.2 335.7,242.3 336.2,244.3 336.8,246.2 337.3,248.1 337.8,249.8 338.4,251.5 338.9,253.1 339.4,254.7 340.0,256.2 340.5,257.6 341.1,258.9 341.6,260.2 342.1,261.4 342.7,262.5 343.2,263.6 343.8,264.6 344.3,265.6 344.8,266.5 345.4,267.3 345.9,268.1 346.4,268.9 347.0,269.5 347.5,270.2 348.1,270.7 348.6,271.2 349.1,271.7 349.7,272.1 350.2,272.5 350.7,272.8 351.3,273.0 351.8,273.3 352.4,273.4 352.9,273.5 353.4,273.6 354.0,273.6 354.5,273.5 355.1,273.4 355.6,273.3 356.1,273.1 356.7,272.8 357.2,272.5 357.7,272.2 358.3,271.8 358.8,271.3 359.4,270.8 359.9,270.3 360.4,269.7 361.0,269.0 361.5,268.3 362.0,267.5 362.6,266.7 363.1,265.8 363.7,264.8 364.2,263.8 364.7,262.7 365.3,261.6 365.8,260.4 366.4,259.2 366.9,257.8 367.4,256.4 368.0,255.0 368.5,253.5 369.0,251.9 369.6,250.2 370.1,248.4 370.7,246.6 371.2,244.7 371.7,242.7 372.3,240.6 372.8,238.5 373.3,236.2 373.9,233.8 374.4,231.4 375.0,228.8 375.5,226.2 376.0,223.4 376.6,220.6 377.1,217.6 377.6,214.5 378.2,211.2 378.7,207.9 379.3,204.4 379.8,200.7 380.3,196.9 380.9,193.0 381.4,188.9 382.0,184.9 382.5,189.2 383.0,193.3 383.6,197.2 384.1,201.0 384.6,204.7 385.2,208.1 385.7,211.5 386.3,214.7 386.8,217.8 387.3,220.8 387.9,223.7 388.4,226.4 388.9,229.1 389.5,231.6 390.0,234.0 390.6,236.4 391.1,238.6 391.6,240.8 392.2,242.9 392.7,244.9 393.3,246.8 393.8,248.6 394.3,250.3 394.9,252.0 395.4,253.6 395.9,255.1 396.5,256.6 397.0,258.0 397.6,259.3 398.1,260.5 398.6,261.7 399.2,262.8 399.7,263.9 400.2,264.9 400.8,265.8 401.3,266.7 401.9,267.6 402.4,268.3 402.9,269.1 403.5,269.7 404.0,270.3 404.5,270.9 405.1,271.4 405.6,271.8 406.2,272.2 406.7,272.6 407.2,272.9 407.8,273.1 408.3,273.3 408.9,273.4 409.4,273.5 409.9,273.6 410.1,273.6" fill="none" stroke="#0000ff" stroke-width="1.9" stroke-linejoin="round" stroke-linecap="butt"/>
<polyline points="72.1,273.6 72.6,273.6 73.1,273.5 73.7,273.4 74.2,273.3 74.8,273.1 75.3,272.9 75.8,272.7 76.4,272.4 76.9,272.1 77.4,271.8 78.0,271.4 78.5,270.9 79.1,270.5 79.6,270.0 80.1,269.4 80.7,268.8 81.2,268.2 81.7,267.6 82.3,266.9 82.8,266.1 83.4,265.3 83.9,264.5 84.4,263.6 85.0,262.7 85.5,261.7 86.0,260.7 86.6,259.6 87.1,258.5 87.7,257.3 88.2,256.1 88.7,254.8 89.3,253.5 89.8,252.1 90.4,250.7 90.9,249.1 91.4,247.6 92.0,246.0 92.5,244.3 93.0,242.5 93.6,240.7 94.1,238.8 94.7,236.8 95.2,234.8 95.7,232.6 96.3,230.4 96.8,228.1 97.3,225.8 97.9,223.3 98.4,220.7 99.0,218.1 99.5,215.3 100.0,212.4 100.6,213.2 101.1,216.1 101.7,218.8 102.2,221.4 102.7,224.0 103.3,226.4 103.8,228.8 104.3,231.0 104.9,233.2 105.4,235.3 106.0,237.4 106.5,239.3 107.0,241.2 107.6,243.0 108.1,244.7 108.6,246.4 109.2,248.0 109.7,249.6 110.3,251.1 110.8,252.5 111.3,253.9 111.9,255.2 112.4,256.4 112.9,257.6 113.5,258.8 114.0,259.9 114.6,261.0 115.1,262.0 115.6,262.9 116.2,263.8 116.7,264.7 117.3,265.5 117.8,266.3 118.3,267.1 118.9,267.8 119.4,268.4 119.9,269.0 120.5,269.6 121.0,270.1 121.6,270.6 122.1,271.1 122.6,271.5 123.2,271.9 123.7,272.2 124.2,272.5 124.8,272.8 125.3,273.0 125.9,273.2 126.4,273.3 126.9,273.4 127.5,273.5 128.0,273.6 128.6,273.6 129.1,273.6 129.6,273.5 130.2,273.4 130.7,273.2 131.2,273.1 131.8,272.9 132.3,272.6 132.9,272.3 133.4,272.0 133.9,271.6 134.5,271.3 135.0,270.8 135.5,270.3 136.1,269.8 136.6,269.3 137.2,268.7 137.7,268.0 138.2,267.4 138.8,266.6 139.3,265.9 139.8,265.1 140.4,264.2 140.9,263.3 141.5,262.4 142.0,261.4 142.5,260.4 143.1,259.3 143.6,258.2 144.2,257.0 144.7,255.7 145.2,254.4 145.8,253.1 146.3,251.7 146.8,250.2 147.4,248.7 147.9,247.1 148.5,245.5 149.0,243.8 149.5,242.0 150.1,240.2 150.6,238.2 151.1,236.2 151.7,234.2 152.2,232.0 152.8,229.8 153.3,227.5 153.8,225.1 154.4,222.6 154.9,220.0 155.5,217.3 156.0,214.5 156.5,211.6 157.1,214.0 157.6,216.9 158.1,219.6 158.7,222.2 159.2,224.7 159.8,227.1 160.3,229.4 160.8,231.7 161.4,233.8 161.9,235.9 162.4,237.9 163.0,239.9 163.5,241.7 164.1,243.5 164.6,245.2 165.1,246.9 165.7,248.5 166.2,250.0 166.7,251.5 167.3,252.9 167.8,254.2 168.4,255.5 168.9,256.8 169.4,258.0 170.0,259.1 170.5,260.2 171.1,261.3 171.6,262.2 172.1,263.2 172.7,264.1 173.2,265.0 173.7,265.8 174.3,266.5 174.8,267.3 175.4,267.9 175.9,268.6 176.4,269.2 177.0,269.7 177.5,270.3 178.0,270.7 178.6,271.2 179.1,271.6 179.7,272.0 180.2,272.3 180.7,272.6 181.3,272.8 181.8,273.0 182.4,273.2 182.9,273.4 183.4,273.5 184.0,273.5 184.5,273.6 185.0,273.6 185.6,273.5 186.1,273.5 186.7,273.3 187.2,273.2 187.7,273.0 188.3,272.8 188.8,272.5 189.3,272.2 189.9,271.9 190.4,271.5 191.0,271.1 191.5,270.7 192.0,270.2 192.6,269.7 193.1,269.1 193.6,268.5 194.2,267.9 194.7,267.2 195.3,266.4 195.8,265.7 196.3,264.8 196.9,264.0 197.4,263.1 198.0,262.1 198.5,261.1 199.0,260.1 199.6,259.0 200.1,257.8 200.6,256.6 201.2,255.4 201.7,254.1 202.3,252.7 202.8,251.3 203.3,249.8 203.9,248.3 204.4,246.7 204.9,245.0 205.5,243.3 206.0,241.5 206.6,239.6 207.1,237.7 207.6,235.7 208.2,233.6 208.7,231.4 209.3,229.1 209.8,226.8 210.3,224.4 210.9,221.9 211.4,219.2 211.9,216.5 212.5,213.7 213.0,212.0 213.6,214.8 214.1,217.6 214.6,220.3 215.2,222.9 215.7,225.4 216.2,227.8 216.8,230.1 217.3,232.3 217.9,234.4 218.4,236.5 218.9,238.5 219.5,240.4 220.0,242.2 220.6,244.0 221.1,245.7 221.6,247.3 222.2,248.9 222.7,250.4 223.2,251.9 223.8,253.3 224.3,254.6 224.9,255.9 225.4,257.1 225.9,258.3 226.5,259.4 227.0,260.5 227.5,261.5 228.1,262.5 228.6,263.5 229.2,264.3 229.7,265.2 230.2,266.0 230.8,266.7 231.3,267.5 231.8,268.1 232.4,268.8 232.9,269.3 233.5,269.9 234.0,270.4 234.5,270.9 235.1,271.3 235.6,271.7 236.2,272.0 236.7,272.4 237.2,272.6 237.8,272.9 238.3,273.1 238.8,273.3 239.4,273.4 239.9,273.5 240.5,273.6 241.0,273.6 241.5,273.6 242.1,273.5 242.6,273.4 243.1,273.3 243.7,273.2 244.2,273.0 244.8,272.7 245.3,272.5 245.8,272.2 246.4,271.8 246.9,271.4 247.5,271.0 248.0,270.6 248.5,270.1 249.1,269.5 249.6,268.9 250.1,268.3 250.7,267.7 251.2,267.0 251.8,266.2 252.3,265.4 252.8,264.6 253.4,263.7 253.9,262.8 254.4,261.9 255.0,260.8 255.5,259.8 256.1,258.7 256.6,257.5 257.1,256.3 257.7,255.0 258.2,253.7 258.7,252.3 259.3,250.9 259.8,249.4 260.4,247.8 260.9,246.2 261.4,244.5 262.0,242.8 262.5,241.0 263.1,239.1 263.6,237.1 264.1,235.1 264.7,233.0 265.2,230.8 265.7,228.5 266.3,226.1 266.8,223.7 267.4,221.1 267.9,218.5 268.4,215.7 269.0,212.9 269.5,212.8 270.0,215.6 270.6,218.4 271.1,221.0 271.7,223.6 272.2,226.0 272.7,228.4 273.3,230.7 273.8,232.9 274.4,235.0 274.9,237.0 275.4,239.0 276.0,240.9 276.5,242.7 277.0,244.5 277.6,246.2 278.1,247.8 278.7,249.3 279.2,250.8 279.7,252.3 280.3,253.6 280.8,255.0 281.3,256.2 281.9,257.5 282.4,258.6 283.0,259.7 283.5,260.8 284.0,261.8 284.6,262.8 285.1,263.7 285.6,264.6 286.2,265.4 286.7,266.2 287.3,266.9 287.8,267.6 288.3,268.3 288.9,268.9 289.4,269.5 290.0,270.0 290.5,270.5 291.0,271.0 291.6,271.4 292.1,271.8 292.6,272.1 293.2,272.4 293.7,272.7 294.3,273.0 294.8,273.1 295.3,273.3 295.9,273.4 296.4,273.5 296.9,273.6 297.5,273.6 298.0,273.6 298.6,273.5 299.1,273.4 299.6,273.3 300.2,273.1 300.7,272.9 301.3,272.7 301.8,272.4 302.3,272.1 302.9,271.7 303.4,271.3 303.9,270.9 304.5,270.4 305.0,269.9 305.6,269.4 306.1,268.8 306.6,268.1 307.2,267.5 307.7,266.8 308.2,266.0 308.8,265.2 309.3,264.4 309.9,263.5 310.4,262.6 310.9,261.6 311.5,260.5 312.0,259.5 312.5,258.3 313.1,257.2 313.6,255.9 314.2,254.7 314.7,253.3 315.2,251.9 315.8,250.5 316.3,249.0 316.9,247.4 317.4,245.8 317.9,244.1 318.5,242.3 319.0,240.5 319.5,238.5 320.1,236.6 320.6,234.5 321.2,232.4 321.7,230.1 322.2,227.8 322.8,225.5 323.3,223.0 323.8,220.4 324.4,217.7 324.9,215.0 325.5,212.1 326.0,213.6 326.5,216.4 327.1,219.1 327.6,221.8 328.2,224.3 328.7,226.7 329.2,229.1 329.8,231.3 330.3,233.5 330.8,235.6 331.4,237.6 331.9,239.5 332.5,241.4 333.0,243.2 333.5,245.0 334.1,246.6 334.6,248.2 335.1,249.8 335.7,251.2 336.2,252.7 336.8,254.0 337.3,255.3 337.8,256.6 338.4,257.8 338.9,258.9 339.4,260.0 340.0,261.1 340.5,262.1 341.1,263.0 341.6,264.0 342.1,264.8 342.7,265.6 343.2,266.4 343.8,267.1 344.3,267.8 344.8,268.5 345.4,269.1 345.9,269.7 346.4,270.2 347.0,270.7 347.5,271.1 348.1,271.5 348.6,271.9 349.1,272.2 349.7,272.5 350.2,272.8 350.7,273.0 351.3,273.2 351.8,273.3 352.4,273.5 352.9,273.5 353.4,273.6 354.0,273.6 354.5,273.5 355.1,273.5 355.6,273.4 356.1,273.2 356.7,273.0 357.2,272.8 357.7,272.6 358.3,272.3 358.8,272.0 359.4,271.6 359.9,271.2 360.4,270.8 361.0,270.3 361.5,269.8 362.0,269.2 362.6,268.6 363.1,268.0 363.7,267.3 364.2,266.6 364.7,265.8 365.3,265.0 365.8,264.1 366.4,263.2 366.9,262.3 367.4,261.3 368.0,260.3 368.5,259.2 369.0,258.0 369.6,256.8 370.1,255.6 370.7,254.3 371.2,252.9 371.7,251.5 372.3,250.1 372.8,248.5 373.3,246.9 373.9,245.3 374.4,243.6 375.0,241.8 375.5,239.9 376.0,238.0 376.6,236.0 377.1,233.9 377.6,231.8 378.2,229.5 378.7,227.2 379.3,224.8 379.8,222.3 380.3,219.7 380.9,217.0 381.4,214.2 382.0,211.5 382.5,214.4 383.0,217.2 383.6,219.9 384.1,222.5 384.6,225.0 385.2,227.4 385.7,229.7 386.3,231.9 386.8,234.1 387.3,236.2 387.9,238.2 388.4,240.1 388.9,241.9 389.5,243.7 390.0,245.4 390.6,247.1 391.1,248.7 391.6,250.2 392.2,251.6 392.7,253.0 393.3,254.4 393.8,255.7 394.3,256.9 394.9,258.1 395.4,259.3 395.9,260.3 396.5,261.4 397.0,262.4 397.6,263.3 398.1,264.2 398.6,265.1 399.2,265.9 399.7,266.6 400.2,267.3 400.8,268.0 401.3,268.7 401.9,269.2 402.4,269.8 402.9,270.3 403.5,270.8 404.0,271.2 404.5,271.6 405.1,272.0 405.6,272.3 406.2,272.6 406.7,272.9 407.2,273.1 407.8,273.2 408.3,273.4 408.9,273.5 409.4,273.5 409.9,273.6 410.1,273.6" fill="none" stroke="#ff00ff" stroke-width="1.9" stroke-linejoin="round" stroke-linecap="butt"/>
<polyline points="72.1,273.6 72.6,273.6 73.1,273.5 73.7,273.5 74.2,273.3 74.8,273.2 75.3,273.1 75.8,272.9 76.4,272.7 76.9,272.4 77.4,272.1 78.0,271.8 78.5,271.5 79.1,271.1 79.6,270.7 80.1,270.3 80.7,269.8 81.2,269.3 81.7,268.8 82.3,268.2 82.8,267.7 83.4,267.0 83.9,266.4 84.4,265.7 85.0,264.9 85.5,264.2 86.0,263.4 86.6,262.5 87.1,261.6 87.7,260.7 88.2,259.7 88.7,258.7 89.3,257.7 89.8,256.6 90.4,255.5 90.9,254.3 91.4,253.0 92.0,251.8 92.5,250.4 93.0,249.0 93.6,247.6 94.1,246.1 94.7,244.6 95.2,243.0 95.7,241.3 96.3,239.6 96.8,237.8 97.3,235.9 97.9,234.0 98.4,232.0 99.0,229.9 99.5,227.8 100.0,225.6 100.6,226.2 101.1,228.4 101.7,230.5 102.2,232.6 102.7,234.5 103.3,236.5 103.8,238.3 104.3,240.1 104.9,241.8 105.4,243.4 106.0,245.0 106.5,246.5 107.0,248.0 107.6,249.4 108.1,250.8 108.6,252.1 109.2,253.4 109.7,254.6 110.3,255.8 110.8,256.9 111.3,258.0 111.9,259.0 112.4,260.0 112.9,261.0 113.5,261.9 114.0,262.8 114.6,263.6 115.1,264.4 115.6,265.1 116.2,265.9 116.7,266.6 117.3,267.2 117.8,267.8 118.3,268.4 118.9,269.0 119.4,269.5 119.9,270.0 120.5,270.4 121.0,270.8 121.6,271.2 122.1,271.6 122.6,271.9 123.2,272.2 123.7,272.5 124.2,272.7 124.8,272.9 125.3,273.1 125.9,273.3 126.4,273.4 126.9,273.5 127.5,273.5 128.0,273.6 128.6,273.6 129.1,273.6 129.6,273.5 130.2,273.4 130.7,273.3 131.2,273.2 131.8,273.0 132.3,272.8 132.9,272.6 133.4,272.3 133.9,272.0 134.5,271.7 135.0,271.4 135.5,271.0 136.1,270.6 136.6,270.2 137.2,269.7 137.7,269.2 138.2,268.7 138.8,268.1 139.3,267.5 139.8,266.8 140.4,266.2 140.9,265.5 141.5,264.7 142.0,263.9 142.5,263.1 143.1,262.3 143.6,261.4 144.2,260.4 144.7,259.5 145.2,258.4 145.8,257.4 146.3,256.3 146.8,255.1 147.4,253.9 147.9,252.7 148.5,251.4 149.0,250.0 149.5,248.6 150.1,247.2 150.6,245.7 151.1,244.1 151.7,242.5 152.2,240.8 152.8,239.1 153.3,237.3 153.8,235.4 154.4,233.4 154.9,231.4 155.5,229.3 156.0,227.2 156.5,224.9 157.1,226.8 157.6,229.0 158.1,231.1 158.7,233.1 159.2,235.1 159.8,237.0 160.3,238.8 160.8,240.6 161.4,242.2 161.9,243.9 162.4,245.4 163.0,247.0 163.5,248.4 164.1,249.8 164.6,251.2 165.1,252.5 165.7,253.7 166.2,254.9 166.7,256.1 167.3,257.2 167.8,258.3 168.4,259.3 168.9,260.3 169.4,261.2 170.0,262.1 170.5,263.0 171.1,263.8 171.6,264.6 172.1,265.3 172.7,266.1 173.2,266.7 173.7,267.4 174.3,268.0 174.8,268.6 175.4,269.1 175.9,269.6 176.4,270.1 177.0,270.5 177.5,270.9 178.0,271.3 178.6,271.7 179.1,272.0 179.7,272.3 180.2,272.5 180.7,272.8 181.3,273.0 181.8,273.2 182.4,273.3 182.9,273.4 183.4,273.5 184.0,273.6 184.5,273.6 185.0,273.6 185.6,273.5 186.1,273.5 186.7,273.4 187.2,273.3 187.7,273.1 188.3,273.0 188.8,272.8 189.3,272.5 189.9,272.3 190.4,272.0 191.0,271.6 191.5,271.3 192.0,270.9 192.6,270.5 193.1,270.0 193.6,269.6 194.2,269.0 194.7,268.5 195.3,267.9 195.8,267.3 196.3,266.7 196.9,266.0 197.4,265.3 198.0,264.5 198.5,263.7 199.0,262.9 199.6,262.0 200.1,261.1 200.6,260.2 201.2,259.2 201.7,258.1 202.3,257.1 202.8,256.0 203.3,254.8 203.9,253.6 204.4,252.3 204.9,251.0 205.5,249.7 206.0,248.2 206.6,246.8 207.1,245.3 207.6,243.7 208.2,242.0 208.7,240.3 209.3,238.6 209.8,236.8 210.3,234.9 210.9,232.9 211.4,230.9 211.9,228.7 212.5,226.5 213.0,225.2 213.6,227.4 214.1,229.6 214.6,231.7 215.2,233.7 215.7,235.6 216.2,237.5 216.8,239.3 217.3,241.0 217.9,242.7 218.4,244.3 218.9,245.9 219.5,247.4 220.0,248.8 220.6,250.2 221.1,251.5 221.6,252.8 222.2,254.1 222.7,255.3 223.2,256.4 223.8,257.5 224.3,258.6 224.9,259.6 225.4,260.6 225.9,261.5 226.5,262.4 227.0,263.2 227.5,264.0 228.1,264.8 228.6,265.6 229.2,266.3 229.7,266.9 230.2,267.6 230.8,268.2 231.3,268.7 231.8,269.3 232.4,269.8 232.9,270.2 233.5,270.7 234.0,271.1 234.5,271.4 235.1,271.8 235.6,272.1 236.2,272.4 236.7,272.6 237.2,272.8 237.8,273.0 238.3,273.2 238.8,273.3 239.4,273.4 239.9,273.5 240.5,273.6 241.0,273.6 241.5,273.6 242.1,273.5 242.6,273.5 243.1,273.4 243.7,273.2 244.2,273.1 244.8,272.9 245.3,272.7 245.8,272.4 246.4,272.2 246.9,271.9 247.5,271.5 248.0,271.2 248.5,270.8 249.1,270.4 249.6,269.9 250.1,269.4 250.7,268.9 251.2,268.3 251.8,267.7 252.3,267.1 252.8,266.5 253.4,265.8 253.9,265.1 254.4,264.3 255.0,263.5 255.5,262.6 256.1,261.8 256.6,260.9 257.1,259.9 257.7,258.9 258.2,257.9 258.7,256.8 259.3,255.6 259.8,254.5 260.4,253.2 260.9,252.0 261.4,250.6 262.0,249.3 262.5,247.8 263.1,246.4 263.6,244.8 264.1,243.2 264.7,241.6 265.2,239.9 265.7,238.1 266.3,236.2 266.8,234.3 267.4,232.3 267.9,230.3 268.4,228.1 269.0,225.9 269.5,225.8 270.0,228.0 270.6,230.2 271.1,232.2 271.7,234.2 272.2,236.2 272.7,238.0 273.3,239.8 273.8,241.5 274.4,243.2 274.9,244.8 275.4,246.3 276.0,247.8 276.5,249.2 277.0,250.6 277.6,251.9 278.1,253.2 278.7,254.4 279.2,255.6 279.7,256.7 280.3,257.8 280.8,258.9 281.3,259.9 281.9,260.8 282.4,261.7 283.0,262.6 283.5,263.5 284.0,264.3 284.6,265.0 285.1,265.8 285.6,266.4 286.2,267.1 286.7,267.7 287.3,268.3 287.8,268.9 288.3,269.4 288.9,269.9 289.4,270.3 290.0,270.8 290.5,271.2 291.0,271.5 291.6,271.9 292.1,272.2 292.6,272.4 293.2,272.7 293.7,272.9 294.3,273.1 294.8,273.2 295.3,273.4 295.9,273.5 296.4,273.5 296.9,273.6 297.5,273.6 298.0,273.6 298.6,273.5 299.1,273.4 299.6,273.3 300.2,273.2 300.7,273.0 301.3,272.8 301.8,272.6 302.3,272.4 302.9,272.1 303.4,271.8 303.9,271.4 304.5,271.1 305.0,270.7 305.6,270.2 306.1,269.8 306.6,269.3 307.2,268.7 307.7,268.2 308.2,267.6 308.8,266.9 309.3,266.3 309.9,265.6 310.4,264.8 310.9,264.1 311.5,263.3 312.0,262.4 312.5,261.5 313.1,260.6 313.6,259.6 314.2,258.6 314.7,257.6 315.2,256.5 315.8,255.3 316.3,254.1 316.9,252.9 317.4,251.6 317.9,250.3 318.5,248.9 319.0,247.4 319.5,245.9 320.1,244.4 320.6,242.8 321.2,241.1 321.7,239.4 322.2,237.6 322.8,235.7 323.3,233.8 323.8,231.8 324.4,229.7 324.9,227.5 325.5,225.3 326.0,226.5 326.5,228.7 327.1,230.8 327.6,232.8 328.2,234.8 328.7,236.7 329.2,238.5 329.8,240.3 330.3,242.0 330.8,243.6 331.4,245.2 331.9,246.7 332.5,248.2 333.0,249.6 333.5,251.0 334.1,252.3 334.6,253.5 335.1,254.7 335.7,255.9 336.2,257.0 336.8,258.1 337.3,259.1 337.8,260.1 338.4,261.1 338.9,262.0 339.4,262.9 340.0,263.7 340.5,264.5 341.1,265.2 341.6,266.0 342.1,266.6 342.7,267.3 343.2,267.9 343.8,268.5 344.3,269.0 344.8,269.5 345.4,270.0 345.9,270.5 346.4,270.9 347.0,271.3 347.5,271.6 348.1,272.0 348.6,272.2 349.1,272.5 349.7,272.7 350.2,273.0 350.7,273.1 351.3,273.3 351.8,273.4 352.4,273.5 352.9,273.5 353.4,273.6 354.0,273.6 354.5,273.6 355.1,273.5 355.6,273.4 356.1,273.3 356.7,273.2 357.2,273.0 357.7,272.8 358.3,272.6 358.8,272.3 359.4,272.0 359.9,271.7 360.4,271.3 361.0,271.0 361.5,270.6 362.0,270.1 362.6,269.6 363.1,269.1 363.7,268.6 364.2,268.0 364.7,267.4 365.3,266.8 365.8,266.1 366.4,265.4 366.9,264.6 367.4,263.8 368.0,263.0 368.5,262.2 369.0,261.3 369.6,260.3 370.1,259.3 370.7,258.3 371.2,257.2 371.7,256.1 372.3,255.0 372.8,253.8 373.3,252.5 373.9,251.2 374.4,249.9 375.0,248.5 375.5,247.0 376.0,245.5 376.6,243.9 377.1,242.3 377.6,240.6 378.2,238.9 378.7,237.0 379.3,235.2 379.8,233.2 380.3,231.2 380.9,229.1 381.4,226.9 382.0,224.8 382.5,227.1 383.0,229.3 383.6,231.4 384.1,233.4 384.6,235.3 385.2,237.2 385.7,239.0 386.3,240.8 386.8,242.4 387.3,244.1 387.9,245.6 388.4,247.1 388.9,248.6 389.5,250.0 390.0,251.3 390.6,252.6 391.1,253.9 391.6,255.1 392.2,256.2 392.7,257.3 393.3,258.4 393.8,259.4 394.3,260.4 394.9,261.3 395.4,262.2 395.9,263.1 396.5,263.9 397.0,264.7 397.6,265.4 398.1,266.1 398.6,266.8 399.2,267.5 399.7,268.1 400.2,268.6 400.8,269.2 401.3,269.7 401.9,270.1 402.4,270.6 402.9,271.0 403.5,271.4 404.0,271.7 404.5,272.0 405.1,272.3 405.6,272.6 406.2,272.8 406.7,273.0 407.2,273.2 407.8,273.3 408.3,273.4 408.9,273.5 409.4,273.6 409.9,273.6 410.1,273.6" fill="none" stroke="#008000" stroke-width="1.9" stroke-linejoin="round" stroke-linecap="butt"/>
<polyline points="73.0,606.8 73.6,606.8 74.1,606.6 74.6,606.4 75.2,606.1 75.7,605.8 76.3,605.3 76.8,604.8 77.3,604.2 77.9,603.4 78.4,602.7 78.9,601.8 79.5,600.8 80.0,599.7 80.6,598.6 81.1,597.3 81.6,596.0 82.2,594.5 82.7,593.0 83.3,591.3 83.8,589.6 84.3,587.7 84.9,585.8 85.4,583.7 85.9,581.5 86.5,579.1 87.0,576.7 87.6,574.1 88.1,571.4 88.6,568.5 89.2,565.5 89.7,562.3 90.2,559.0 90.8,555.5 91.3,551.8 91.9,547.9 92.4,543.8 92.9,539.5 93.5,535.0 94.0,530.3 94.6,525.3 95.1,520.1 95.6,514.5 96.2,508.7 96.7,502.5 97.2,496.0 97.8,489.0 98.3,481.7 98.9,473.8 99.4,465.5 99.9,456.5 100.5,446.9 101.0,436.5 101.5,439.2 102.1,449.0 102.6,458.0 103.2,466.5 103.7,474.4 104.2,481.8 104.8,488.7 105.3,495.3 105.8,501.5 106.4,507.3 106.9,512.8 107.5,518.1 108.0,523.0 108.5,527.7 109.1,532.2 109.6,536.4 110.2,540.4 110.7,544.2 111.2,547.9 111.8,551.3 112.3,554.6 112.8,557.7 113.4,560.6 113.9,563.4 114.5,566.1 115.0,568.6 115.5,571.0 116.1,573.2 116.6,575.3 117.1,577.3 117.7,579.2 118.2,581.0 118.8,582.6 119.3,584.2 119.8,585.6 120.4,587.0 120.9,588.2 121.5,589.4 122.0,590.4 122.5,591.4 123.1,592.2 123.6,593.0 124.1,593.7 124.7,594.3 125.2,594.8 125.8,595.2 126.3,595.5 126.8,595.8 127.4,595.9 127.9,596.0 128.4,596.0 129.0,595.9 129.5,595.7 130.1,595.5 130.6,595.1 131.1,594.7 131.7,594.2 132.2,593.6 132.7,592.9 133.3,592.1 133.8,591.3 134.4,590.3 134.9,589.3 135.4,588.1 136.0,586.9 136.5,585.6 137.1,584.1 137.6,582.6 138.1,581.0 138.7,579.3 139.2,577.4 139.7,575.5 140.3,573.4 140.8,571.2 141.4,568.9 141.9,566.4 142.4,563.9 143.0,561.2 143.5,558.3 144.0,555.3 144.6,552.2 145.1,548.9 145.7,545.4 146.2,541.8 146.7,537.9 147.3,533.9 147.8,529.7 148.4,525.2 148.9,520.6 149.4,515.6 150.0,510.4 150.5,505.0 151.0,499.2 151.6,493.1 152.1,486.7 152.7,479.8 153.2,472.6 153.7,464.8 154.3,456.6 154.8,447.8 155.3,438.3 155.9,428.1 156.4,417.1 157.0,405.0 157.5,391.7 158.0,402.0 158.6,413.4 159.1,423.8 159.6,433.4 160.2,442.3 160.7,450.6 161.3,458.3 161.8,465.6 162.3,472.4 162.9,478.8 163.4,484.8 164.0,490.5 164.5,495.8 165.0,500.9 165.6,505.7 166.1,510.3 166.6,514.6 167.2,518.7 167.7,522.5 168.3,526.2 168.8,529.7 169.3,533.0 169.9,536.1 170.4,539.1 170.9,541.9 171.5,544.5 172.0,547.0 172.6,549.4 173.1,551.6 173.6,553.7 174.2,555.7 174.7,557.5 175.3,559.3 175.8,560.9 176.3,562.4 176.9,563.8 177.4,565.1 177.9,566.3 178.5,567.4 179.0,568.4 179.6,569.3 180.1,570.1 180.6,570.8 181.2,571.4 181.7,571.9 182.2,572.3 182.8,572.6 183.3,572.9 183.9,573.0 184.4,573.1 184.9,573.0 185.5,572.9 186.0,572.7 186.5,572.4 187.1,572.0 187.6,571.5 188.2,571.0 188.7,570.3 189.2,569.5 189.8,568.7 190.3,567.7 190.9,566.7 191.4,565.6 191.9,564.3 192.5,563.0 193.0,561.5 193.5,560.0 194.1,558.3 194.6,556.6 195.2,554.7 195.7,552.7 196.2,550.5 196.8,548.3 197.3,545.9 197.8,543.4 198.4,540.7 198.9,537.9 199.5,535.0 200.0,531.9 200.5,528.6 201.1,525.2 201.6,521.5 202.2,517.7 202.7,513.7 203.2,509.5 203.8,505.0 204.3,500.3 204.8,495.4 205.4,490.2 205.9,484.6 206.5,478.8 207.0,472.6 207.5,466.1 208.1,459.1 208.6,451.7 209.1,443.8 209.7,435.4 210.2,426.3 210.8,416.5 211.3,405.8 211.8,394.2 212.4,381.4 212.9,367.0 213.4,350.7 214.0,339.6 214.5,356.8 215.1,371.7 215.6,384.9 216.1,396.9 216.7,407.7 217.2,417.7 217.8,426.9 218.3,435.5 218.8,443.4 219.4,450.9 219.9,457.8 220.4,464.4 221.0,470.5 221.5,476.4 222.1,481.8 222.6,487.0 223.1,491.9 223.7,496.6 224.2,501.0 224.7,505.1 225.3,509.1 225.8,512.8 226.4,516.4 226.9,519.7 227.4,522.9 228.0,525.9 228.5,528.8 229.1,531.5 229.6,534.1 230.1,536.5 230.7,538.8 231.2,540.9 231.7,543.0 232.3,544.9 232.8,546.6 233.4,548.3 233.9,549.8 234.4,551.3 235.0,552.6 235.5,553.8 236.0,554.9 236.6,556.0 237.1,556.9 237.7,557.7 238.2,558.4 238.7,559.0 239.3,559.6 239.8,560.0 240.4,560.3 240.9,560.6 241.4,560.7 242.0,560.8 242.5,560.8 243.0,560.6 243.6,560.4 244.1,560.1 244.7,559.7 245.2,559.2 245.7,558.6 246.3,557.9 246.8,557.1 247.3,556.3 247.9,555.3 248.4,554.2 249.0,553.0 249.5,551.7 250.0,550.3 250.6,548.8 251.1,547.2 251.6,545.4 252.2,543.6 252.7,541.6 253.3,539.5 253.8,537.2 254.3,534.9 254.9,532.3 255.4,529.7 256.0,526.9 256.5,523.9 257.0,520.8 257.6,517.5 258.1,514.0 258.6,510.3 259.2,506.4 259.7,502.3 260.3,498.0 260.8,493.4 261.3,488.6 261.9,483.5 262.4,478.1 262.9,472.4 263.5,466.4 264.0,460.0 264.6,453.1 265.1,445.8 265.6,438.1 266.2,429.7 266.7,420.7 267.3,411.0 267.8,400.4 268.3,388.9 268.9,376.1 269.4,361.7 269.9,345.4 270.5,345.0 271.0,362.1 271.6,377.0 272.1,390.2 272.6,402.2 273.2,413.2 273.7,423.3 274.2,432.6 274.8,441.2 275.3,449.3 275.9,456.8 276.4,463.9 276.9,470.6 277.5,476.9 278.0,482.8 278.5,488.4 279.1,493.7 279.6,498.8 280.2,503.6 280.7,508.1 281.2,512.4 281.8,516.5 282.3,520.3 282.9,524.0 283.4,527.5 283.9,530.9 284.5,534.0 285.0,537.0 285.5,539.9 286.1,542.6 286.6,545.1 287.2,547.5 287.7,549.8 288.2,552.0 288.8,554.0 289.3,556.0 289.8,557.8 290.4,559.5 290.9,561.1 291.5,562.5 292.0,563.9 292.5,565.2 293.1,566.4 293.6,567.4 294.2,568.4 294.7,569.3 295.2,570.1 295.8,570.8 296.3,571.4 296.8,571.9 297.4,572.3 297.9,572.6 298.5,572.9 299.0,573.0 299.5,573.1 300.1,573.0 300.6,572.9 301.1,572.7 301.7,572.4 302.2,572.0 302.8,571.5 303.3,571.0 303.8,570.3 304.4,569.5 304.9,568.7 305.4,567.7 306.0,566.7 306.5,565.5 307.1,564.2 307.6,562.9 308.1,561.4 308.7,559.8 309.2,558.1 309.8,556.3 310.3,554.4 310.8,552.3 311.4,550.1 311.9,547.8 312.4,545.3 313.0,542.7 313.5,540.0 314.1,537.1 314.6,534.0 315.1,530.7 315.7,527.3 316.2,523.7 316.7,519.9 317.3,515.9 317.8,511.7 318.4,507.2 318.9,502.5 319.4,497.5 320.0,492.2 320.5,486.6 321.1,480.7 321.6,474.5 322.1,467.8 322.7,460.7 323.2,453.1 323.7,445.0 324.3,436.3 324.8,427.0 325.4,416.8 325.9,405.8 326.4,393.6 327.0,400.9 327.5,413.3 328.0,424.7 328.6,435.2 329.1,444.9 329.7,453.9 330.2,462.3 330.7,470.2 331.3,477.6 331.8,484.5 332.3,491.1 332.9,497.3 333.4,503.2 334.0,508.7 334.5,514.0 335.0,519.0 335.6,523.8 336.1,528.3 336.7,532.6 337.2,536.7 337.7,540.6 338.3,544.3 338.8,547.8 339.3,551.2 339.9,554.4 340.4,557.4 341.0,560.3 341.5,563.0 342.0,565.6 342.6,568.1 343.1,570.5 343.6,572.7 344.2,574.8 344.7,576.8 345.3,578.7 345.8,580.4 346.3,582.1 346.9,583.7 347.4,585.1 348.0,586.5 348.5,587.8 349.0,588.9 349.6,590.0 350.1,591.0 350.6,591.9 351.2,592.7 351.7,593.4 352.3,594.0 352.8,594.6 353.3,595.0 353.9,595.4 354.4,595.7 354.9,595.9 355.5,596.0 356.0,596.0 356.6,596.0 357.1,595.8 357.6,595.6 358.2,595.3 358.7,594.9 359.2,594.4 359.8,593.9 360.3,593.2 360.9,592.5 361.4,591.6 361.9,590.7 362.5,589.7 363.0,588.6 363.6,587.4 364.1,586.1 364.6,584.6 365.2,583.1 365.7,581.5 366.2,579.8 366.8,577.9 367.3,576.0 367.9,573.9 368.4,571.7 368.9,569.4 369.5,566.9 370.0,564.3 370.5,561.5 371.1,558.6 371.6,555.6 372.2,552.4 372.7,549.0 373.2,545.4 373.8,541.7 374.3,537.7 374.9,533.6 375.4,529.2 375.9,524.5 376.5,519.7 377.0,514.5 377.5,509.1 378.1,503.4 378.6,497.3 379.2,490.9 379.7,484.0 380.2,476.8 380.8,469.1 381.3,460.8 381.8,451.9 382.4,442.4 382.9,433.0 383.5,443.7 384.0,453.5 384.5,462.7 385.1,471.2 385.6,479.2 386.2,486.7 386.7,493.8 387.2,500.4 387.8,506.7 388.3,512.7 388.8,518.3 389.4,523.7 389.9,528.7 390.5,533.6 391.0,538.1 391.5,542.5 392.1,546.6 392.6,550.6 393.1,554.3 393.7,557.9 394.2,561.3 394.8,564.5 395.3,567.5 395.8,570.5 396.4,573.2 396.9,575.9 397.4,578.4 398.0,580.7 398.5,583.0 399.1,585.1 399.6,587.1 400.1,589.0 400.7,590.8 401.2,592.5 401.8,594.1 402.3,595.5 402.8,596.9 403.4,598.2 403.9,599.4 404.4,600.5 405.0,601.5 405.5,602.4 406.1,603.2 406.6,603.9 407.1,604.6 407.7,605.2 408.2,605.6 408.7,606.0 409.3,606.3 409.8,606.6 410.4,606.7 410.9,606.8 411.1,606.8" fill="none" stroke="#000000" stroke-width="1.9" stroke-linejoin="round" stroke-linecap="butt"/>
<polyline points="73.0,606.8 73.6,606.8 74.1,606.7 74.6,606.5 75.2,606.3 75.7,606.1 76.3,605.8 76.8,605.4 77.3,605.0 77.9,604.5 78.4,604.0 78.9,603.3 79.5,602.7 80.0,602.0 80.6,601.2 81.1,600.3 81.6,599.4 82.2,598.4 82.7,597.4 83.3,596.3 83.8,595.1 84.3,593.8 84.9,592.5 85.4,591.1 85.9,589.6 86.5,588.1 87.0,586.5 87.6,584.8 88.1,583.0 88.6,581.1 89.2,579.1 89.7,577.1 90.2,574.9 90.8,572.7 91.3,570.3 91.9,567.9 92.4,565.3 92.9,562.7 93.5,559.9 94.0,557.0 94.6,553.9 95.1,550.8 95.6,547.5 96.2,544.0 96.7,540.5 97.2,536.7 97.8,532.8 98.3,528.7 98.9,524.5 99.4,520.0 99.9,515.4 100.5,510.5 101.0,505.5 101.5,506.7 102.1,511.4 102.6,515.9 103.2,520.2 103.7,524.4 104.2,528.3 104.8,532.1 105.3,535.7 105.8,539.1 106.4,542.4 106.9,545.6 107.5,548.6 108.0,551.5 108.5,554.2 109.1,556.9 109.6,559.4 110.2,561.8 110.7,564.2 111.2,566.4 111.8,568.5 112.3,570.5 112.8,572.4 113.4,574.2 113.9,576.0 114.5,577.6 115.0,579.2 115.5,580.7 116.1,582.1 116.6,583.4 117.1,584.7 117.7,585.8 118.2,587.0 118.8,588.0 119.3,589.0 119.8,589.9 120.4,590.7 120.9,591.5 121.5,592.2 122.0,592.8 122.5,593.4 123.1,593.9 123.6,594.4 124.1,594.8 124.7,595.2 125.2,595.4 125.8,595.7 126.3,595.8 126.8,595.9 127.4,596.0 127.9,596.0 128.4,595.9 129.0,595.8 129.5,595.6 130.1,595.3 130.6,595.1 131.1,594.7 131.7,594.3 132.2,593.8 132.7,593.3 133.3,592.7 133.8,592.0 134.4,591.3 134.9,590.5 135.4,589.7 136.0,588.8 136.5,587.8 137.1,586.8 137.6,585.7 138.1,584.6 138.7,583.3 139.2,582.0 139.7,580.7 140.3,579.2 140.8,577.7 141.4,576.1 141.9,574.4 142.4,572.7 143.0,570.9 143.5,568.9 144.0,566.9 144.6,564.8 145.1,562.7 145.7,560.4 146.2,558.0 146.7,555.5 147.3,552.9 147.8,550.2 148.4,547.4 148.9,544.5 149.4,541.4 150.0,538.3 150.5,534.9 151.0,531.5 151.6,527.9 152.1,524.1 152.7,520.2 153.2,516.2 153.7,511.9 154.3,507.5 154.8,502.9 155.3,498.0 155.9,493.0 156.4,487.7 157.0,482.2 157.5,476.4 158.0,480.7 158.6,485.6 159.1,490.3 159.6,494.8 160.2,499.1 160.7,503.2 161.3,507.1 161.8,510.9 162.3,514.5 162.9,517.9 163.4,521.2 164.0,524.3 164.5,527.3 165.0,530.2 165.6,532.9 166.1,535.5 166.6,538.0 167.2,540.4 167.7,542.7 168.3,544.9 168.8,547.0 169.3,548.9 169.9,550.8 170.4,552.6 170.9,554.3 171.5,555.9 172.0,557.5 172.6,558.9 173.1,560.3 173.6,561.6 174.2,562.8 174.7,563.9 175.3,565.0 175.8,566.0 176.3,566.9 176.9,567.8 177.4,568.5 177.9,569.3 178.5,569.9 179.0,570.5 179.6,571.0 180.1,571.5 180.6,571.9 181.2,572.2 181.7,572.5 182.2,572.7 182.8,572.9 183.3,573.0 183.9,573.0 184.4,573.0 184.9,572.9 185.5,572.7 186.0,572.5 186.5,572.3 187.1,571.9 187.6,571.6 188.2,571.1 188.7,570.6 189.2,570.0 189.8,569.4 190.3,568.7 190.9,567.9 191.4,567.1 191.9,566.2 192.5,565.3 193.0,564.2 193.5,563.2 194.1,562.0 194.6,560.8 195.2,559.5 195.7,558.1 196.2,556.6 196.8,555.1 197.3,553.5 197.8,551.8 198.4,550.0 198.9,548.2 199.5,546.2 200.0,544.2 200.5,542.1 201.1,539.9 201.6,537.5 202.2,535.1 202.7,532.6 203.2,530.0 203.8,527.2 204.3,524.4 204.8,521.4 205.4,518.3 205.9,515.0 206.5,511.6 207.0,508.1 207.5,504.4 208.1,500.6 208.6,496.6 209.1,492.4 209.7,488.1 210.2,483.5 210.8,478.8 211.3,473.8 211.8,468.6 212.4,463.2 212.9,457.5 213.4,451.5 214.0,447.8 214.5,453.5 215.1,459.1 215.6,464.3 216.1,469.3 216.7,474.1 217.2,478.7 217.8,483.1 218.3,487.3 218.8,491.3 219.4,495.2 219.9,498.8 220.4,502.4 221.0,505.7 221.5,509.0 222.1,512.1 222.6,515.0 223.1,517.9 223.7,520.6 224.2,523.2 224.7,525.6 225.3,528.0 225.8,530.3 226.4,532.4 226.9,534.5 227.4,536.5 228.0,538.4 228.5,540.2 229.1,541.9 229.6,543.5 230.1,545.0 230.7,546.5 231.2,547.8 231.7,549.1 232.3,550.4 232.8,551.5 233.4,552.6 233.9,553.6 234.4,554.5 235.0,555.4 235.5,556.2 236.0,556.9 236.6,557.6 237.1,558.2 237.7,558.7 238.2,559.2 238.7,559.6 239.3,560.0 239.8,560.3 240.4,560.5 240.9,560.7 241.4,560.8 242.0,560.8 242.5,560.8 243.0,560.7 243.6,560.6 244.1,560.3 244.7,560.1 245.2,559.8 245.7,559.4 246.3,558.9 246.8,558.4 247.3,557.8 247.9,557.2 248.4,556.4 249.0,555.7 249.5,554.8 250.0,553.9 250.6,552.9 251.1,551.9 251.6,550.7 252.2,549.5 252.7,548.3 253.3,546.9 253.8,545.5 254.3,544.0 254.9,542.4 255.4,540.7 256.0,538.9 256.5,537.1 257.0,535.2 257.6,533.1 258.1,531.0 258.6,528.7 259.2,526.4 259.7,524.0 260.3,521.4 260.8,518.7 261.3,515.9 261.9,513.0 262.4,510.0 262.9,506.8 263.5,503.5 264.0,500.0 264.6,496.4 265.1,492.6 265.6,488.6 266.2,484.5 266.7,480.2 267.3,475.6 267.8,470.9 268.3,465.9 268.9,460.8 269.4,455.3 269.9,449.6 270.5,449.6 271.0,455.6 271.6,461.4 272.1,466.9 272.6,472.2 273.2,477.2 273.7,482.0 274.2,486.6 274.8,491.0 275.3,495.3 275.9,499.3 276.4,503.2 276.9,506.9 277.5,510.5 278.0,513.9 278.5,517.2 279.1,520.4 279.6,523.4 280.2,526.3 280.7,529.1 281.2,531.8 281.8,534.3 282.3,536.8 282.9,539.1 283.4,541.4 283.9,543.5 284.5,545.6 285.0,547.6 285.5,549.5 286.1,551.3 286.6,553.0 287.2,554.6 287.7,556.2 288.2,557.6 288.8,559.0 289.3,560.4 289.8,561.6 290.4,562.8 290.9,563.9 291.5,564.9 292.0,565.9 292.5,566.8 293.1,567.7 293.6,568.5 294.2,569.2 294.7,569.8 295.2,570.4 295.8,571.0 296.3,571.4 296.8,571.8 297.4,572.2 297.9,572.5 298.5,572.7 299.0,572.9 299.5,573.0 300.1,573.0 300.6,573.0 301.1,572.9 301.7,572.8 302.2,572.6 302.8,572.3 303.3,572.0 303.8,571.6 304.4,571.2 304.9,570.7 305.4,570.1 306.0,569.5 306.5,568.8 307.1,568.0 307.6,567.2 308.1,566.3 308.7,565.3 309.2,564.3 309.8,563.2 310.3,562.0 310.8,560.7 311.4,559.4 311.9,557.9 312.4,556.4 313.0,554.8 313.5,553.2 314.1,551.4 314.6,549.6 315.1,547.6 315.7,545.6 316.2,543.4 316.7,541.2 317.3,538.8 317.8,536.3 318.4,533.8 318.9,531.1 319.4,528.2 320.0,525.3 320.5,522.2 321.1,519.0 321.6,515.6 322.1,512.1 322.7,508.4 323.2,504.5 323.7,500.5 324.3,496.2 324.8,491.8 325.4,487.2 325.9,482.3 326.4,477.2 327.0,480.4 327.5,486.0 328.0,491.3 328.6,496.5 329.1,501.3 329.7,506.0 330.2,510.5 330.7,514.8 331.3,519.0 331.8,522.9 332.3,526.7 332.9,530.4 333.4,533.9 334.0,537.2 334.5,540.4 335.0,543.5 335.6,546.5 336.1,549.3 336.7,552.1 337.2,554.7 337.7,557.2 338.3,559.6 338.8,561.9 339.3,564.2 339.9,566.3 340.4,568.3 341.0,570.3 341.5,572.1 342.0,573.9 342.6,575.6 343.1,577.2 343.6,578.8 344.2,580.2 344.7,581.6 345.3,582.9 345.8,584.2 346.3,585.4 346.9,586.5 347.4,587.5 348.0,588.5 348.5,589.4 349.0,590.3 349.6,591.1 350.1,591.8 350.6,592.5 351.2,593.1 351.7,593.6 352.3,594.1 352.8,594.6 353.3,594.9 353.9,595.3 354.4,595.5 354.9,595.7 355.5,595.9 356.0,595.9 356.6,596.0 357.1,595.9 357.6,595.9 358.2,595.7 358.7,595.5 359.2,595.2 359.8,594.9 360.3,594.5 360.9,594.1 361.4,593.6 361.9,593.0 362.5,592.4 363.0,591.7 363.6,591.0 364.1,590.2 364.6,589.3 365.2,588.3 365.7,587.3 366.2,586.2 366.8,585.1 367.3,583.8 367.9,582.5 368.4,581.1 368.9,579.7 369.5,578.1 370.0,576.5 370.5,574.8 371.1,573.0 371.6,571.1 372.2,569.1 372.7,567.0 373.2,564.9 373.8,562.6 374.3,560.2 374.9,557.7 375.4,555.1 375.9,552.4 376.5,549.5 377.0,546.5 377.5,543.4 378.1,540.2 378.6,536.8 379.2,533.2 379.7,529.5 380.2,525.6 380.8,521.6 381.3,517.3 381.8,512.9 382.4,508.2 382.9,503.8 383.5,508.9 384.0,513.9 384.5,518.6 385.1,523.1 385.6,527.4 386.2,531.5 386.7,535.5 387.2,539.3 387.8,542.9 388.3,546.4 388.8,549.7 389.4,552.9 389.9,556.0 390.5,559.0 391.0,561.8 391.5,564.5 392.1,567.1 392.6,569.6 393.1,571.9 393.7,574.2 394.2,576.4 394.8,578.5 395.3,580.5 395.8,582.4 396.4,584.2 396.9,585.9 397.4,587.6 398.0,589.2 398.5,590.6 399.1,592.1 399.6,593.4 400.1,594.7 400.7,595.9 401.2,597.0 401.8,598.1 402.3,599.1 402.8,600.0 403.4,600.9 403.9,601.7 404.4,602.5 405.0,603.1 405.5,603.8 406.1,604.3 406.6,604.8 407.1,605.3 407.7,605.7 408.2,606.0 408.7,606.3 409.3,606.5 409.8,606.6 410.4,606.8 410.9,606.8 411.1,606.8" fill="none" stroke="#ff0000" stroke-width="1.9" stroke-linejoin="round" stroke-linecap="butt"/>
<polyline points="73.0,606.8 73.6,606.8 74.1,606.7 74.6,606.6 75.2,606.4 75.7,606.2 76.3,606.0 76.8,605.7 77.3,605.4 77.9,605.0 78.4,604.5 78.9,604.1 79.5,603.5 80.0,603.0 80.6,602.4 81.1,601.7 81.6,601.0 82.2,600.2 82.7,599.4 83.3,598.5 83.8,597.6 84.3,596.6 84.9,595.5 85.4,594.5 85.9,593.3 86.5,592.1 87.0,590.8 87.6,589.5 88.1,588.1 88.6,586.6 89.2,585.1 89.7,583.5 90.2,581.9 90.8,580.1 91.3,578.3 91.9,576.4 92.4,574.5 92.9,572.4 93.5,570.3 94.0,568.1 94.6,565.7 95.1,563.3 95.6,560.8 96.2,558.2 96.7,555.5 97.2,552.7 97.8,549.8 98.3,546.7 98.9,543.6 99.4,540.3 99.9,536.8 100.5,533.3 101.0,529.6 101.5,530.4 102.1,533.8 102.6,537.1 103.2,540.2 103.7,543.2 104.2,546.1 104.8,548.8 105.3,551.5 105.8,554.0 106.4,556.4 106.9,558.8 107.5,561.0 108.0,563.2 108.5,565.2 109.1,567.2 109.6,569.1 110.2,570.9 110.7,572.6 111.2,574.3 111.8,575.8 112.3,577.3 112.8,578.8 113.4,580.1 113.9,581.4 114.5,582.7 115.0,583.8 115.5,585.0 116.1,586.0 116.6,587.0 117.1,587.9 117.7,588.8 118.2,589.6 118.8,590.4 119.3,591.1 119.8,591.8 120.4,592.4 120.9,593.0 121.5,593.5 122.0,594.0 122.5,594.4 123.1,594.7 123.6,595.1 124.1,595.3 124.7,595.6 125.2,595.7 125.8,595.9 126.3,596.0 126.8,596.0 127.4,596.0 127.9,595.9 128.4,595.8 129.0,595.7 129.5,595.5 130.1,595.3 130.6,595.0 131.1,594.7 131.7,594.3 132.2,593.9 132.7,593.4 133.3,592.9 133.8,592.4 134.4,591.8 134.9,591.1 135.4,590.4 136.0,589.7 136.5,588.9 137.1,588.0 137.6,587.1 138.1,586.2 138.7,585.2 139.2,584.1 139.7,583.0 140.3,581.8 140.8,580.6 141.4,579.3 141.9,578.0 142.4,576.6 143.0,575.1 143.5,573.6 144.0,572.0 144.6,570.3 145.1,568.6 145.7,566.7 146.2,564.9 146.7,562.9 147.3,560.9 147.8,558.8 148.4,556.6 148.9,554.3 149.4,551.9 150.0,549.5 150.5,546.9 151.0,544.2 151.6,541.5 152.1,538.6 152.7,535.7 153.2,532.6 153.7,529.4 154.3,526.0 154.8,522.6 155.3,519.0 155.9,515.2 156.4,511.3 157.0,507.3 157.5,503.1 158.0,506.1 158.6,509.6 159.1,512.9 159.6,516.1 160.2,519.2 160.7,522.2 161.3,525.0 161.8,527.7 162.3,530.3 162.9,532.8 163.4,535.2 164.0,537.5 164.5,539.7 165.0,541.8 165.6,543.8 166.1,545.7 166.6,547.6 167.2,549.3 167.7,551.0 168.3,552.6 168.8,554.2 169.3,555.6 169.9,557.0 170.4,558.3 170.9,559.6 171.5,560.8 172.0,561.9 172.6,563.0 173.1,564.0 173.6,565.0 174.2,565.9 174.7,566.7 175.3,567.5 175.8,568.2 176.3,568.9 176.9,569.5 177.4,570.1 177.9,570.6 178.5,571.0 179.0,571.4 179.6,571.8 180.1,572.1 180.6,572.4 181.2,572.6 181.7,572.8 182.2,572.9 182.8,573.0 183.3,573.0 183.9,573.0 184.4,572.9 184.9,572.8 185.5,572.7 186.0,572.5 186.5,572.2 187.1,571.9 187.6,571.6 188.2,571.2 188.7,570.7 189.2,570.2 189.8,569.7 190.3,569.1 190.9,568.5 191.4,567.8 191.9,567.1 192.5,566.3 193.0,565.4 193.5,564.5 194.1,563.6 194.6,562.6 195.2,561.5 195.7,560.4 196.2,559.3 196.8,558.0 197.3,556.7 197.8,555.4 198.4,554.0 198.9,552.5 199.5,551.0 200.0,549.4 200.5,547.7 201.1,545.9 201.6,544.1 202.2,542.2 202.7,540.3 203.2,538.2 203.8,536.1 204.3,533.9 204.8,531.6 205.4,529.2 205.9,526.7 206.5,524.1 207.0,521.4 207.5,518.7 208.1,515.8 208.6,512.8 209.1,509.6 209.7,506.4 210.2,503.0 210.8,499.5 211.3,495.9 211.8,492.1 212.4,488.2 212.9,484.1 213.4,479.8 214.0,477.1 214.5,481.2 215.1,485.1 215.6,488.8 216.1,492.4 216.7,495.8 217.2,499.1 217.8,502.3 218.3,505.4 218.8,508.3 219.4,511.1 219.9,513.8 220.4,516.4 221.0,518.9 221.5,521.3 222.1,523.6 222.6,525.9 223.1,528.0 223.7,530.0 224.2,532.0 224.7,533.8 225.3,535.6 225.8,537.4 226.4,539.0 226.9,540.6 227.4,542.1 228.0,543.5 228.5,544.9 229.1,546.2 229.6,547.4 230.1,548.6 230.7,549.7 231.2,550.8 231.7,551.8 232.3,552.7 232.8,553.6 233.4,554.4 233.9,555.2 234.4,555.9 235.0,556.6 235.5,557.2 236.0,557.8 236.6,558.3 237.1,558.8 237.7,559.2 238.2,559.6 238.7,559.9 239.3,560.2 239.8,560.4 240.4,560.6 240.9,560.7 241.4,560.8 242.0,560.8 242.5,560.8 243.0,560.7 243.6,560.6 244.1,560.4 244.7,560.2 245.2,560.0 245.7,559.7 246.3,559.3 246.8,558.9 247.3,558.5 247.9,558.0 248.4,557.4 249.0,556.8 249.5,556.2 250.0,555.5 250.6,554.7 251.1,553.9 251.6,553.0 252.2,552.1 252.7,551.1 253.3,550.1 253.8,549.0 254.3,547.8 254.9,546.6 255.4,545.3 256.0,544.0 256.5,542.5 257.0,541.1 257.6,539.5 258.1,537.9 258.6,536.2 259.2,534.4 259.7,532.6 260.3,530.7 260.8,528.6 261.3,526.5 261.9,524.4 262.4,522.1 262.9,519.7 263.5,517.2 264.0,514.7 264.6,512.0 265.1,509.2 265.6,506.3 266.2,503.3 266.7,500.2 267.3,496.9 267.8,493.5 268.3,490.0 268.9,486.3 269.4,482.4 269.9,478.4 270.5,478.4 271.0,482.7 271.6,486.9 272.1,490.9 272.6,494.7 273.2,498.4 273.7,501.9 274.2,505.3 274.8,508.6 275.3,511.8 275.9,514.8 276.4,517.7 276.9,520.6 277.5,523.3 278.0,525.9 278.5,528.4 279.1,530.8 279.6,533.2 280.2,535.4 280.7,537.6 281.2,539.6 281.8,541.6 282.3,543.5 282.9,545.4 283.4,547.1 283.9,548.8 284.5,550.5 285.0,552.0 285.5,553.5 286.1,555.0 286.6,556.3 287.2,557.6 287.7,558.9 288.2,560.1 288.8,561.2 289.3,562.3 289.8,563.3 290.4,564.2 290.9,565.1 291.5,566.0 292.0,566.8 292.5,567.6 293.1,568.3 293.6,568.9 294.2,569.5 294.7,570.1 295.2,570.6 295.8,571.0 296.3,571.4 296.8,571.8 297.4,572.1 297.9,572.4 298.5,572.6 299.0,572.8 299.5,572.9 300.1,573.0 300.6,573.0 301.1,573.0 301.7,572.9 302.2,572.8 302.8,572.7 303.3,572.5 303.8,572.2 304.4,571.9 304.9,571.6 305.4,571.2 306.0,570.7 306.5,570.2 307.1,569.7 307.6,569.1 308.1,568.4 308.7,567.7 309.2,566.9 309.8,566.1 310.3,565.3 310.8,564.3 311.4,563.3 311.9,562.3 312.4,561.2 313.0,560.0 313.5,558.8 314.1,557.4 314.6,556.1 315.1,554.6 315.7,553.1 316.2,551.5 316.7,549.9 317.3,548.1 317.8,546.3 318.4,544.4 318.9,542.4 319.4,540.4 320.0,538.2 320.5,535.9 321.1,533.6 321.6,531.1 322.1,528.5 322.7,525.9 323.2,523.1 323.7,520.2 324.3,517.1 324.8,514.0 325.4,510.7 325.9,507.2 326.4,503.6 327.0,506.0 327.5,510.1 328.0,514.0 328.6,517.8 329.1,521.4 329.7,524.9 330.2,528.3 330.7,531.6 331.3,534.7 331.8,537.7 332.3,540.6 332.9,543.4 333.4,546.1 334.0,548.7 334.5,551.1 335.0,553.5 335.6,555.9 336.1,558.1 336.7,560.2 337.2,562.3 337.7,564.3 338.3,566.2 338.8,568.0 339.3,569.7 339.9,571.4 340.4,573.1 341.0,574.6 341.5,576.1 342.0,577.5 342.6,578.9 343.1,580.2 343.6,581.4 344.2,582.6 344.7,583.8 345.3,584.8 345.8,585.9 346.3,586.8 346.9,587.7 347.4,588.6 348.0,589.4 348.5,590.2 349.0,590.9 349.6,591.6 350.1,592.2 350.6,592.8 351.2,593.3 351.7,593.8 352.3,594.2 352.8,594.6 353.3,594.9 353.9,595.2 354.4,595.4 354.9,595.6 355.5,595.8 356.0,595.9 356.6,596.0 357.1,596.0 357.6,596.0 358.2,595.9 358.7,595.8 359.2,595.6 359.8,595.4 360.3,595.1 360.9,594.8 361.4,594.5 361.9,594.1 362.5,593.6 363.0,593.1 363.6,592.6 364.1,592.0 364.6,591.4 365.2,590.7 365.7,589.9 366.2,589.1 366.8,588.2 367.3,587.3 367.9,586.3 368.4,585.3 368.9,584.2 369.5,583.1 370.0,581.8 370.5,580.6 371.1,579.2 371.6,577.8 372.2,576.3 372.7,574.8 373.2,573.1 373.8,571.4 374.3,569.7 374.9,567.8 375.4,565.9 375.9,563.8 376.5,561.7 377.0,559.5 377.5,557.2 378.1,554.8 378.6,552.3 379.2,549.7 379.7,547.0 380.2,544.1 380.8,541.2 381.3,538.1 381.8,534.9 382.4,531.5 382.9,528.3 383.5,532.1 384.0,535.7 384.5,539.2 385.1,542.5 385.6,545.7 386.2,548.8 386.7,551.8 387.2,554.6 387.8,557.4 388.3,560.0 388.8,562.6 389.4,565.0 389.9,567.3 390.5,569.6 391.0,571.7 391.5,573.8 392.1,575.8 392.6,577.7 393.1,579.5 393.7,581.3 394.2,583.0 394.8,584.6 395.3,586.2 395.8,587.6 396.4,589.1 396.9,590.4 397.4,591.7 398.0,592.9 398.5,594.1 399.1,595.2 399.6,596.3 400.1,597.3 400.7,598.2 401.2,599.1 401.8,599.9 402.3,600.7 402.8,601.5 403.4,602.1 403.9,602.8 404.4,603.4 405.0,603.9 405.5,604.4 406.1,604.8 406.6,605.2 407.1,605.6 407.7,605.9 408.2,606.2 408.7,606.4 409.3,606.6 409.8,606.7 410.4,606.8 410.9,606.8 411.1,606.8" fill="none" stroke="#0000ff" stroke-width="1.9" stroke-linejoin="round" stroke-linecap="butt"/>
<polyline points="73.0,606.8 73.6,606.8 74.1,606.7 74.6,606.7 75.2,606.5 75.7,606.4 76.3,606.2 76.8,606.0 77.3,605.8 77.9,605.5 78.4,605.2 78.9,604.8 79.5,604.4 80.0,604.0 80.6,603.6 81.1,603.1 81.6,602.6 82.2,602.0 82.7,601.4 83.3,600.8 83.8,600.1 84.3,599.4 84.9,598.6 85.4,597.9 85.9,597.0 86.5,596.2 87.0,595.2 87.6,594.3 88.1,593.3 88.6,592.2 89.2,591.1 89.7,590.0 90.2,588.8 90.8,587.6 91.3,586.3 91.9,584.9 92.4,583.5 92.9,582.1 93.5,580.6 94.0,579.0 94.6,577.3 95.1,575.6 95.6,573.9 96.2,572.0 96.7,570.1 97.2,568.2 97.8,566.1 98.3,564.0 98.9,561.8 99.4,559.5 99.9,557.1 100.5,554.6 101.0,552.1 101.5,552.6 102.1,554.9 102.6,557.1 103.2,559.2 103.7,561.2 104.2,563.1 104.8,565.0 105.3,566.8 105.8,568.5 106.4,570.1 106.9,571.7 107.5,573.2 108.0,574.6 108.5,576.0 109.1,577.4 109.6,578.6 110.2,579.8 110.7,581.0 111.2,582.1 111.8,583.2 112.3,584.2 112.8,585.2 113.4,586.1 113.9,586.9 114.5,587.8 115.0,588.6 115.5,589.3 116.1,590.0 116.6,590.6 117.1,591.3 117.7,591.8 118.2,592.4 118.8,592.9 119.3,593.3 119.8,593.8 120.4,594.1 120.9,594.5 121.5,594.8 122.0,595.1 122.5,595.3 123.1,595.5 123.6,595.7 124.1,595.9 124.7,596.0 125.2,596.0 125.8,596.1 126.3,596.1 126.8,596.1 127.4,596.0 127.9,595.9 128.4,595.8 129.0,595.6 129.5,595.4 130.1,595.2 130.6,595.0 131.1,594.7 131.7,594.4 132.2,594.0 132.7,593.6 133.3,593.2 133.8,592.7 134.4,592.2 134.9,591.7 135.4,591.1 136.0,590.6 136.5,589.9 137.1,589.3 137.6,588.5 138.1,587.8 138.7,587.0 139.2,586.2 139.7,585.3 140.3,584.4 140.8,583.5 141.4,582.5 141.9,581.5 142.4,580.4 143.0,579.3 143.5,578.2 144.0,577.0 144.6,575.7 145.1,574.4 145.7,573.1 146.2,571.7 146.7,570.2 147.3,568.7 147.8,567.2 148.4,565.5 148.9,563.9 149.4,562.1 150.0,560.3 150.5,558.5 151.0,556.5 151.6,554.5 152.1,552.5 152.7,550.3 153.2,548.1 153.7,545.8 154.3,543.4 154.8,541.0 155.3,538.4 155.9,535.8 156.4,533.1 157.0,530.2 157.5,527.3 158.0,529.3 158.6,531.6 159.1,533.8 159.6,535.9 160.2,537.9 160.7,539.9 161.3,541.8 161.8,543.6 162.3,545.3 162.9,547.0 163.4,548.6 164.0,550.1 164.5,551.5 165.0,553.0 165.6,554.3 166.1,555.6 166.6,556.8 167.2,558.0 167.7,559.1 168.3,560.2 168.8,561.2 169.3,562.2 169.9,563.1 170.4,564.0 170.9,564.8 171.5,565.6 172.0,566.4 172.6,567.1 173.1,567.7 173.6,568.3 174.2,568.9 174.7,569.5 175.3,570.0 175.8,570.4 176.3,570.8 176.9,571.2 177.4,571.6 177.9,571.9 178.5,572.2 179.0,572.4 179.6,572.6 180.1,572.8 180.6,572.9 181.2,573.0 181.7,573.1 182.2,573.1 182.8,573.1 183.3,573.1 183.9,573.0 184.4,572.9 184.9,572.8 185.5,572.6 186.0,572.4 186.5,572.1 187.1,571.9 187.6,571.6 188.2,571.2 188.7,570.9 189.2,570.5 189.8,570.0 190.3,569.5 190.9,569.0 191.4,568.5 191.9,567.9 192.5,567.3 193.0,566.6 193.5,565.9 194.1,565.2 194.6,564.4 195.2,563.6 195.7,562.7 196.2,561.9 196.8,560.9 197.3,559.9 197.8,558.9 198.4,557.9 198.9,556.8 199.5,555.6 200.0,554.4 200.5,553.2 201.1,551.9 201.6,550.5 202.2,549.1 202.7,547.7 203.2,546.2 203.8,544.6 204.3,543.0 204.8,541.3 205.4,539.6 205.9,537.8 206.5,535.9 207.0,534.0 207.5,532.0 208.1,530.0 208.6,527.8 209.1,525.6 209.7,523.3 210.2,520.9 210.8,518.5 211.3,515.9 211.8,513.3 212.4,510.5 212.9,507.7 213.4,504.8 214.0,502.9 214.5,505.6 215.1,508.2 215.6,510.7 216.1,513.2 216.7,515.5 217.2,517.8 217.8,519.9 218.3,522.0 218.8,524.0 219.4,526.0 219.9,527.8 220.4,529.6 221.0,531.4 221.5,533.0 222.1,534.6 222.6,536.2 223.1,537.6 223.7,539.1 224.2,540.4 224.7,541.7 225.3,543.0 225.8,544.2 226.4,545.4 226.9,546.5 227.4,547.5 228.0,548.5 228.5,549.5 229.1,550.4 229.6,551.3 230.1,552.1 230.7,552.9 231.2,553.7 231.7,554.4 232.3,555.0 232.8,555.7 233.4,556.3 233.9,556.8 234.4,557.3 235.0,557.8 235.5,558.3 236.0,558.7 236.6,559.0 237.1,559.4 237.7,559.7 238.2,559.9 238.7,560.2 239.3,560.3 239.8,560.5 240.4,560.6 240.9,560.7 241.4,560.8 242.0,560.8 242.5,560.8 243.0,560.7 243.6,560.7 244.1,560.5 244.7,560.4 245.2,560.2 245.7,560.0 246.3,559.7 246.8,559.5 247.3,559.1 247.9,558.8 248.4,558.4 249.0,558.0 249.5,557.5 250.0,557.0 250.6,556.4 251.1,555.9 251.6,555.3 252.2,554.6 252.7,553.9 253.3,553.2 253.8,552.4 254.3,551.6 254.9,550.7 255.4,549.8 256.0,548.8 256.5,547.8 257.0,546.8 257.6,545.7 258.1,544.6 258.6,543.4 259.2,542.1 259.7,540.8 260.3,539.5 260.8,538.1 261.3,536.6 261.9,535.1 262.4,533.5 262.9,531.9 263.5,530.2 264.0,528.4 264.6,526.6 265.1,524.7 265.6,522.7 266.2,520.6 266.7,518.5 267.3,516.2 267.8,513.9 268.3,511.5 268.9,509.0 269.4,506.5 269.9,503.8 270.5,503.8 271.0,506.8 271.6,509.6 272.1,512.4 272.6,515.1 273.2,517.7 273.7,520.2 274.2,522.6 274.8,524.9 275.3,527.1 275.9,529.3 276.4,531.4 276.9,533.4 277.5,535.3 278.0,537.2 278.5,539.0 279.1,540.8 279.6,542.5 280.2,544.1 280.7,545.7 281.2,547.2 281.8,548.7 282.3,550.1 282.9,551.5 283.4,552.8 283.9,554.0 284.5,555.2 285.0,556.4 285.5,557.5 286.1,558.6 286.6,559.6 287.2,560.6 287.7,561.6 288.2,562.5 288.8,563.3 289.3,564.2 289.8,564.9 290.4,565.7 290.9,566.4 291.5,567.1 292.0,567.7 292.5,568.3 293.1,568.8 293.6,569.4 294.2,569.9 294.7,570.3 295.2,570.7 295.8,571.1 296.3,571.5 296.8,571.8 297.4,572.1 297.9,572.3 298.5,572.5 299.0,572.7 299.5,572.9 300.1,573.0 300.6,573.0 301.1,573.1 301.7,573.1 302.2,573.1 302.8,573.0 303.3,572.9 303.8,572.8 304.4,572.7 304.9,572.5 305.4,572.2 306.0,572.0 306.5,571.7 307.1,571.3 307.6,571.0 308.1,570.5 308.7,570.1 309.2,569.6 309.8,569.1 310.3,568.5 310.8,567.9 311.4,567.3 311.9,566.6 312.4,565.9 313.0,565.1 313.5,564.3 314.1,563.4 314.6,562.5 315.1,561.5 315.7,560.5 316.2,559.5 316.7,558.4 317.3,557.2 317.8,556.0 318.4,554.7 318.9,553.4 319.4,552.0 320.0,550.6 320.5,549.0 321.1,547.5 321.6,545.8 322.1,544.1 322.7,542.3 323.2,540.5 323.7,538.6 324.3,536.5 324.8,534.4 325.4,532.3 325.9,530.0 326.4,527.6 327.0,529.3 327.5,532.2 328.0,534.9 328.6,537.6 329.1,540.2 329.7,542.7 330.2,545.1 330.7,547.4 331.3,549.6 331.8,551.8 332.3,553.9 332.9,555.9 333.4,557.9 334.0,559.7 334.5,561.6 335.0,563.3 335.6,565.0 336.1,566.6 336.7,568.2 337.2,569.7 337.7,571.2 338.3,572.6 338.8,574.0 339.3,575.3 339.9,576.6 340.4,577.8 341.0,579.0 341.5,580.1 342.0,581.2 342.6,582.2 343.1,583.2 343.6,584.1 344.2,585.1 344.7,585.9 345.3,586.8 345.8,587.6 346.3,588.3 346.9,589.0 347.4,589.7 348.0,590.4 348.5,591.0 349.0,591.5 349.6,592.1 350.1,592.6 350.6,593.0 351.2,593.5 351.7,593.9 352.3,594.2 352.8,594.6 353.3,594.9 353.9,595.1 354.4,595.4 354.9,595.6 355.5,595.7 356.0,595.9 356.6,596.0 357.1,596.0 357.6,596.1 358.2,596.1 358.7,596.1 359.2,596.0 359.8,595.9 360.3,595.8 360.9,595.6 361.4,595.4 361.9,595.2 362.5,594.9 363.0,594.6 363.6,594.3 364.1,593.9 364.6,593.5 365.2,593.0 365.7,592.5 366.2,592.0 366.8,591.4 367.3,590.8 367.9,590.2 368.4,589.5 368.9,588.8 369.5,588.0 370.0,587.2 370.5,586.4 371.1,585.5 371.6,584.5 372.2,583.5 372.7,582.5 373.2,581.4 373.8,580.2 374.3,579.0 374.9,577.8 375.4,576.5 375.9,575.1 376.5,573.7 377.0,572.2 377.5,570.6 378.1,569.0 378.6,567.3 379.2,565.5 379.7,563.7 380.2,561.8 380.8,559.8 381.3,557.8 381.8,555.6 382.4,553.4 382.9,551.3 383.5,553.8 384.0,556.3 384.5,558.7 385.1,561.1 385.6,563.3 386.2,565.5 386.7,567.5 387.2,569.5 387.8,571.4 388.3,573.3 388.8,575.1 389.4,576.8 389.9,578.5 390.5,580.1 391.0,581.6 391.5,583.1 392.1,584.5 392.6,585.8 393.1,587.2 393.7,588.4 394.2,589.6 394.8,590.8 395.3,591.9 395.8,593.0 396.4,594.0 396.9,594.9 397.4,595.9 398.0,596.8 398.5,597.6 399.1,598.4 399.6,599.2 400.1,599.9 400.7,600.6 401.2,601.2 401.8,601.8 402.3,602.4 402.8,602.9 403.4,603.4 403.9,603.9 404.4,604.3 405.0,604.7 405.5,605.1 406.1,605.4 406.6,605.7 407.1,605.9 407.7,606.1 408.2,606.3 408.7,606.5 409.3,606.6 409.8,606.7 410.4,606.8 410.9,606.8 411.1,606.8" fill="none" stroke="#ff00ff" stroke-width="1.9" stroke-linejoin="round" stroke-linecap="butt"/>
<polyline points="73.0,606.8 73.6,606.8 74.1,606.7 74.6,606.7 75.2,606.6 75.7,606.5 76.3,606.3 76.8,606.2 77.3,606.0 77.9,605.7 78.4,605.5 78.9,605.2 79.5,604.9 80.0,604.6 80.6,604.2 81.1,603.8 81.6,603.4 82.2,603.0 82.7,602.5 83.3,602.0 83.8,601.5 84.3,600.9 84.9,600.3 85.4,599.7 85.9,599.0 86.5,598.3 87.0,597.6 87.6,596.8 88.1,596.0 88.6,595.2 89.2,594.3 89.7,593.4 90.2,592.5 90.8,591.5 91.3,590.5 91.9,589.4 92.4,588.3 92.9,587.2 93.5,586.0 94.0,584.7 94.6,583.4 95.1,582.1 95.6,580.7 96.2,579.3 96.7,577.8 97.2,576.2 97.8,574.6 98.3,572.9 98.9,571.2 99.4,569.4 99.9,567.5 100.5,565.6 101.0,563.6 101.5,564.0 102.1,565.7 102.6,567.4 103.2,569.0 103.7,570.5 104.2,571.9 104.8,573.3 105.3,574.7 105.8,576.0 106.4,577.2 106.9,578.4 107.5,579.6 108.0,580.7 108.5,581.7 109.1,582.7 109.6,583.7 110.2,584.6 110.7,585.4 111.2,586.3 111.8,587.1 112.3,587.8 112.8,588.5 113.4,589.2 113.9,589.9 114.5,590.5 115.0,591.1 115.5,591.6 116.1,592.1 116.6,592.6 117.1,593.0 117.7,593.4 118.2,593.8 118.8,594.2 119.3,594.5 119.8,594.8 120.4,595.1 120.9,595.3 121.5,595.5 122.0,595.7 122.5,595.8 123.1,596.0 123.6,596.1 124.1,596.1 124.7,596.2 125.2,596.2 125.8,596.2 126.3,596.2 126.8,596.1 127.4,596.0 127.9,595.9 128.4,595.8 129.0,595.6 129.5,595.4 130.1,595.2 130.6,594.9 131.1,594.7 131.7,594.4 132.2,594.0 132.7,593.7 133.3,593.3 133.8,592.9 134.4,592.5 134.9,592.0 135.4,591.5 136.0,591.0 136.5,590.5 137.1,589.9 137.6,589.3 138.1,588.7 138.7,588.0 139.2,587.3 139.7,586.6 140.3,585.8 140.8,585.0 141.4,584.2 141.9,583.4 142.4,582.5 143.0,581.6 143.5,580.6 144.0,579.6 144.6,578.6 145.1,577.5 145.7,576.4 146.2,575.2 146.7,574.1 147.3,572.8 147.8,571.5 148.4,570.2 148.9,568.9 149.4,567.4 150.0,566.0 150.5,564.5 151.0,562.9 151.6,561.3 152.1,559.6 152.7,557.9 153.2,556.1 153.7,554.3 154.3,552.3 154.8,550.4 155.3,548.3 155.9,546.2 156.4,544.0 157.0,541.8 157.5,539.4 158.0,540.9 158.6,542.6 159.1,544.3 159.6,545.9 160.2,547.4 160.7,548.9 161.3,550.3 161.8,551.7 162.3,553.0 162.9,554.2 163.4,555.4 164.0,556.6 164.5,557.7 165.0,558.7 165.6,559.7 166.1,560.7 166.6,561.6 167.2,562.5 167.7,563.3 168.3,564.1 168.8,564.9 169.3,565.6 169.9,566.3 170.4,566.9 170.9,567.6 171.5,568.1 172.0,568.7 172.6,569.2 173.1,569.7 173.6,570.1 174.2,570.5 174.7,570.9 175.3,571.3 175.8,571.6 176.3,571.9 176.9,572.1 177.4,572.4 177.9,572.6 178.5,572.7 179.0,572.9 179.6,573.0 180.1,573.1 180.6,573.2 181.2,573.2 181.7,573.2 182.2,573.2 182.8,573.2 183.3,573.1 183.9,573.0 184.4,572.9 184.9,572.7 185.5,572.5 186.0,572.3 186.5,572.1 187.1,571.9 187.6,571.6 188.2,571.3 188.7,570.9 189.2,570.6 189.8,570.2 190.3,569.8 190.9,569.3 191.4,568.8 191.9,568.3 192.5,567.8 193.0,567.2 193.5,566.6 194.1,566.0 194.6,565.4 195.2,564.7 195.7,564.0 196.2,563.2 196.8,562.4 197.3,561.6 197.8,560.8 198.4,559.9 198.9,559.0 199.5,558.0 200.0,557.0 200.5,556.0 201.1,555.0 201.6,553.9 202.2,552.7 202.7,551.5 203.2,550.3 203.8,549.0 204.3,547.7 204.8,546.4 205.4,545.0 205.9,543.5 206.5,542.0 207.0,540.4 207.5,538.8 208.1,537.2 208.6,535.4 209.1,533.7 209.7,531.8 210.2,529.9 210.8,528.0 211.3,525.9 211.8,523.8 212.4,521.7 212.9,519.4 213.4,517.1 214.0,515.6 214.5,517.7 215.1,519.7 215.6,521.7 216.1,523.5 216.7,525.3 217.2,527.1 217.8,528.8 218.3,530.4 218.8,532.0 219.4,533.5 219.9,534.9 220.4,536.3 221.0,537.7 221.5,539.0 222.1,540.2 222.6,541.4 223.1,542.6 223.7,543.7 224.2,544.8 224.7,545.8 225.3,546.8 225.8,547.7 226.4,548.6 226.9,549.5 227.4,550.3 228.0,551.1 228.5,551.9 229.1,552.6 229.6,553.3 230.1,554.0 230.7,554.6 231.2,555.2 231.7,555.7 232.3,556.3 232.8,556.8 233.4,557.2 233.9,557.7 234.4,558.1 235.0,558.4 235.5,558.8 236.0,559.1 236.6,559.4 237.1,559.7 237.7,559.9 238.2,560.1 238.7,560.3 239.3,560.4 239.8,560.6 240.4,560.7 240.9,560.7 241.4,560.8 242.0,560.8 242.5,560.8 243.0,560.8 243.6,560.7 244.1,560.6 244.7,560.5 245.2,560.3 245.7,560.2 246.3,560.0 246.8,559.7 247.3,559.5 247.9,559.2 248.4,558.9 249.0,558.6 249.5,558.2 250.0,557.8 250.6,557.4 251.1,556.9 251.6,556.4 252.2,555.9 252.7,555.4 253.3,554.8 253.8,554.2 254.3,553.5 254.9,552.8 255.4,552.1 256.0,551.4 256.5,550.6 257.0,549.8 257.6,548.9 258.1,548.0 258.6,547.1 259.2,546.1 259.7,545.1 260.3,544.0 260.8,542.9 261.3,541.8 261.9,540.6 262.4,539.4 262.9,538.1 263.5,536.8 264.0,535.4 264.6,533.9 265.1,532.4 265.6,530.9 266.2,529.3 266.7,527.6 267.3,525.9 267.8,524.1 268.3,522.3 268.9,520.3 269.4,518.3 269.9,516.3 270.5,516.3 271.0,518.7 271.6,520.9 272.1,523.1 272.6,525.3 273.2,527.3 273.7,529.3 274.2,531.2 274.8,533.1 275.3,534.9 275.9,536.6 276.4,538.3 276.9,539.9 277.5,541.5 278.0,543.0 278.5,544.5 279.1,545.9 279.6,547.3 280.2,548.6 280.7,549.9 281.2,551.1 281.8,552.3 282.3,553.5 282.9,554.6 283.4,555.7 283.9,556.7 284.5,557.7 285.0,558.7 285.5,559.6 286.1,560.5 286.6,561.4 287.2,562.2 287.7,563.0 288.2,563.7 288.8,564.5 289.3,565.1 289.8,565.8 290.4,566.4 290.9,567.0 291.5,567.6 292.0,568.2 292.5,568.7 293.1,569.2 293.6,569.6 294.2,570.0 294.7,570.4 295.2,570.8 295.8,571.2 296.3,571.5 296.8,571.8 297.4,572.0 297.9,572.3 298.5,572.5 299.0,572.7 299.5,572.8 300.1,573.0 300.6,573.1 301.1,573.1 301.7,573.2 302.2,573.2 302.8,573.2 303.3,573.2 303.8,573.1 304.4,573.0 304.9,572.9 305.4,572.8 306.0,572.6 306.5,572.4 307.1,572.2 307.6,572.0 308.1,571.7 308.7,571.4 309.2,571.0 309.8,570.6 310.3,570.2 310.8,569.8 311.4,569.3 311.9,568.8 312.4,568.3 313.0,567.7 313.5,567.1 314.1,566.5 314.6,565.8 315.1,565.1 315.7,564.4 316.2,563.6 316.7,562.8 317.3,561.9 317.8,561.0 318.4,560.1 318.9,559.1 319.4,558.0 320.0,556.9 320.5,555.8 321.1,554.6 321.6,553.4 322.1,552.1 322.7,550.8 323.2,549.4 323.7,547.9 324.3,546.4 324.8,544.8 325.4,543.2 325.9,541.5 326.4,539.7 327.0,541.0 327.5,543.3 328.0,545.5 328.6,547.7 329.1,549.7 329.7,551.7 330.2,553.6 330.7,555.5 331.3,557.3 331.8,559.1 332.3,560.8 332.9,562.4 333.4,564.0 334.0,565.5 334.5,567.0 335.0,568.4 335.6,569.8 336.1,571.1 336.7,572.4 337.2,573.7 337.7,574.9 338.3,576.0 338.8,577.2 339.3,578.2 339.9,579.3 340.4,580.3 341.0,581.3 341.5,582.2 342.0,583.1 342.6,584.0 343.1,584.8 343.6,585.6 344.2,586.4 344.7,587.1 345.3,587.8 345.8,588.5 346.3,589.1 346.9,589.7 347.4,590.3 348.0,590.9 348.5,591.4 349.0,591.9 349.6,592.3 350.1,592.8 350.6,593.2 351.2,593.6 351.7,593.9 352.3,594.3 352.8,594.6 353.3,594.9 353.9,595.1 354.4,595.3 354.9,595.5 355.5,595.7 356.0,595.9 356.6,596.0 357.1,596.1 357.6,596.1 358.2,596.2 358.7,596.2 359.2,596.2 359.8,596.2 360.3,596.1 360.9,596.0 361.4,595.9 361.9,595.7 362.5,595.6 363.0,595.4 363.6,595.1 364.1,594.9 364.6,594.6 365.2,594.3 365.7,593.9 366.2,593.6 366.8,593.2 367.3,592.7 367.9,592.3 368.4,591.8 368.9,591.2 369.5,590.7 370.0,590.1 370.5,589.4 371.1,588.8 371.6,588.1 372.2,587.3 372.7,586.5 373.2,585.7 373.8,584.9 374.3,584.0 374.9,583.0 375.4,582.0 375.9,581.0 376.5,579.9 377.0,578.8 377.5,577.6 378.1,576.4 378.6,575.1 379.2,573.8 379.7,572.4 380.2,570.9 380.8,569.4 381.3,567.9 381.8,566.3 382.4,564.6 382.9,563.0 383.5,565.0 384.0,566.9 384.5,568.8 385.1,570.6 385.6,572.4 386.2,574.1 386.7,575.7 387.2,577.3 387.8,578.8 388.3,580.2 388.8,581.7 389.4,583.0 389.9,584.3 390.5,585.6 391.0,586.8 391.5,588.0 392.1,589.1 392.6,590.2 393.1,591.2 393.7,592.2 394.2,593.1 394.8,594.1 395.3,594.9 395.8,595.8 396.4,596.6 396.9,597.4 397.4,598.1 398.0,598.8 398.5,599.5 399.1,600.1 399.6,600.7 400.1,601.3 400.7,601.8 401.2,602.3 401.8,602.8 402.3,603.3 402.8,603.7 403.4,604.1 403.9,604.5 404.4,604.8 405.0,605.1 405.5,605.4 406.1,605.7 406.6,605.9 407.1,606.1 407.7,606.3 408.2,606.4 408.7,606.6 409.3,606.7 409.8,606.7 410.4,606.8 410.9,606.8 411.1,606.8" fill="none" stroke="#008000" stroke-width="1.9" stroke-linejoin="round" stroke-linecap="butt"/>
<polyline points="536.1,257.6 536.6,257.6 537.2,257.5 537.7,257.4 538.3,257.2 538.8,256.9 539.3,256.6 539.9,256.2 540.4,255.7 540.9,255.2 541.5,254.7 542.0,254.0 542.6,253.3 543.1,252.6 543.6,251.7 544.2,250.8 544.7,249.8 545.3,248.8 545.8,247.7 546.3,246.5 546.9,245.2 547.4,243.9 547.9,242.4 548.5,240.9 549.0,239.3 549.6,237.6 550.1,235.9 550.6,234.0 551.2,232.0 551.7,229.9 552.3,227.7 552.8,225.4 553.3,223.0 553.9,220.4 554.4,217.7 554.9,214.9 555.5,211.9 556.0,208.8 556.6,205.5 557.1,202.0 557.6,198.3 558.2,194.4 558.7,190.3 559.2,186.0 559.8,181.3 560.3,176.5 560.9,177.8 561.4,183.8 561.9,189.5 562.5,194.8 563.0,199.7 563.6,204.4 564.1,208.9 564.6,213.0 565.2,217.0 565.7,220.7 566.2,224.3 566.8,227.7 567.3,230.9 567.9,233.9 568.4,236.8 568.9,239.5 569.5,242.1 570.0,244.6 570.6,247.0 571.1,249.3 571.6,251.4 572.2,253.4 572.7,255.4 573.2,257.2 573.8,259.0 574.3,260.6 574.9,262.2 575.4,263.7 575.9,265.2 576.5,266.5 577.0,267.8 577.6,269.0 578.1,270.1 578.6,271.2 579.2,272.2 579.7,273.2 580.2,274.0 580.8,274.9 581.3,275.6 581.9,276.4 582.4,277.0 582.9,277.6 583.5,278.2 584.0,278.7 584.6,279.1 585.1,279.5 585.6,279.8 586.2,280.1 586.7,280.4 587.2,280.6 587.8,280.7 588.3,280.8 588.9,280.9 589.4,280.9 589.9,280.9 590.5,280.8 591.0,280.7 591.6,280.5 592.1,280.3 592.6,280.0 593.2,279.7 593.7,279.3 594.2,278.9 594.8,278.5 595.3,278.0 595.9,277.4 596.4,276.8 596.9,276.1 597.5,275.4 598.0,274.7 598.5,273.9 599.1,273.0 599.6,272.1 600.2,271.1 600.7,270.1 601.2,269.0 601.8,267.9 602.3,266.7 602.9,265.4 603.4,264.1 603.9,262.7 604.5,261.2 605.0,259.7 605.5,258.1 606.1,256.4 606.6,254.7 607.2,252.8 607.7,250.9 608.2,248.9 608.8,246.8 609.3,244.6 609.9,242.3 610.4,239.9 610.9,237.4 611.5,234.8 612.0,232.1 612.5,229.2 613.1,226.2 613.6,223.1 614.2,219.8 614.7,216.3 615.2,212.7 615.8,208.9 616.3,204.9 616.9,200.7 617.4,196.3 617.9,191.6 618.5,186.7 619.0,181.4 619.5,175.8 620.1,169.9 620.6,163.6 621.2,156.8 621.7,149.4 622.2,141.5 622.8,132.8 623.3,123.3 623.9,112.6 624.4,100.7 624.9,107.9 625.5,114.5 626.0,120.5 626.5,126.0 627.1,131.1 627.6,135.9 628.2,140.3 628.7,144.4 629.2,148.2 629.8,151.9 630.3,155.2 630.8,158.4 631.4,161.4 631.9,164.2 632.5,166.8 633.0,169.2 633.5,171.5 634.1,173.7 634.6,175.7 635.2,177.6 635.7,179.4 636.2,181.1 636.8,182.6 637.3,184.1 637.8,185.4 638.4,186.6 638.9,187.7 639.5,188.8 640.0,189.7 640.5,190.6 641.1,191.3 641.6,192.0 642.2,192.6 642.7,193.1 643.2,193.6 643.8,193.9 644.3,194.2 644.8,194.4 645.4,194.5 645.9,194.5 646.5,194.5 647.0,194.3 647.5,194.1 648.1,193.9 648.6,193.5 649.2,193.1 649.7,192.5 650.2,192.0 650.8,191.3 651.3,190.5 651.8,189.7 652.4,188.8 652.9,187.8 653.5,186.7 654.0,185.5 654.5,184.2 655.1,182.8 655.6,181.3 656.2,179.8 656.7,178.1 657.2,176.3 657.8,174.4 658.3,172.4 658.8,170.3 659.4,168.0 659.9,165.6 660.5,163.0 661.0,160.3 661.5,157.5 662.1,154.4 662.6,151.2 663.2,147.8 663.7,144.2 664.2,140.4 664.8,136.3 665.3,131.9 665.8,127.2 666.4,122.2 666.9,116.7 667.5,110.9 668.0,104.5 668.5,97.5 669.1,89.8 669.6,81.1 670.1,71.2 670.7,59.4 671.2,44.8 671.8,23.7" fill="none" stroke="#000000" stroke-width="1.9" stroke-linejoin="round" stroke-linecap="butt"/>
<polyline points="674.5,16.1 675.0,45.0 675.5,62.9 676.1,76.9 676.6,88.5 677.1,98.5 677.7,107.4 678.2,115.4 678.8,122.7 679.3,129.4 679.8,135.6 680.4,141.3 680.9,146.6 681.5,151.6 682.0,156.2 682.5,160.6 683.1,164.7 683.6,168.6 684.1,172.3 684.7,175.7 685.2,179.0 685.8,182.1 686.3,185.1 686.8,187.9 687.4,190.5 687.9,193.0 688.5,195.4 689.0,197.7 689.5,199.8 690.1,201.9 690.6,203.8 691.1,205.7 691.7,207.4 692.2,209.1 692.8,210.6 693.3,212.1 693.8,213.5 694.4,214.8 694.9,216.0 695.5,217.2 696.0,218.3 696.5,219.3 697.1,220.3 697.6,221.1 698.1,222.0 698.7,222.7 699.2,223.4 699.8,224.0 700.3,224.6 700.8,225.1 701.4,225.5 701.9,225.9 702.5,226.2 703.0,226.5 703.5,226.7 704.1,226.9 704.6,227.0 705.1,227.0 705.7,227.0 706.2,226.9 706.8,226.8 707.3,226.6 707.8,226.3 708.4,226.0 708.9,225.7 709.4,225.2 710.0,224.7 710.5,224.2 711.1,223.6 711.6,222.9 712.1,222.2 712.7,221.4 713.2,220.6 713.8,219.6 714.3,218.6 714.8,217.6 715.4,216.4 715.9,215.2 716.4,213.9 717.0,212.6 717.5,211.1 718.1,209.6 718.6,208.0 719.1,206.2 719.7,204.4 720.2,202.5 720.8,200.5 721.3,198.4 721.8,196.2 722.4,193.8 722.9,191.3 723.4,188.7 724.0,186.0 724.5,183.1 725.1,180.0 725.6,176.8 726.1,173.4 726.7,169.8 727.2,166.0 727.8,161.9 728.3,157.6 728.8,153.1 729.4,148.2 729.9,143.0 730.4,137.4 731.0,131.4 731.5,124.9 732.1,117.8 732.6,110.1 733.1,101.5 733.7,91.8 734.2,80.8 734.8,67.7 735.3,51.4 735.8,27.8" fill="none" stroke="#000000" stroke-width="1.9" stroke-linejoin="round" stroke-linecap="butt"/>
<polyline points="738.5,13.3 739.1,39.1 739.6,55.2 740.1,67.7 740.7,78.1 741.2,87.1 741.8,95.1 742.3,102.4 742.8,108.9 743.4,114.9 743.9,120.5 744.4,125.6 745.0,130.4 745.5,134.9 746.1,139.1 746.6,143.0 747.1,146.7 747.7,150.2 748.2,153.4 748.7,156.5 749.3,159.4 749.8,162.2 750.4,164.8 750.9,167.2 751.4,169.5 752.0,171.7 752.5,173.8 753.1,175.7 753.6,177.5 754.1,179.3 754.7,180.9 755.2,182.4 755.7,183.8 756.3,185.1 756.8,186.3 757.4,187.4 757.9,188.5 758.4,189.4 759.0,190.3 759.5,191.0 760.1,191.7 760.6,192.4 761.1,192.9 761.7,193.4 762.2,193.7 762.7,194.1 763.3,194.3 763.8,194.4 764.4,194.5 764.9,194.5 765.4,194.4 766.0,194.2 766.5,194.0 767.1,193.7 767.6,193.3 768.1,192.8 768.7,192.2 769.2,191.6 769.7,190.8 770.3,190.0 770.8,189.1 771.4,188.1 771.9,187.0 772.4,185.8 773.0,184.5 773.5,183.1 774.1,181.6 774.6,180.0 775.1,178.2 775.7,176.4 776.2,174.4 776.7,172.2 777.3,170.0 777.8,167.6 778.4,165.0 778.9,162.3 779.4,159.4 780.0,156.3 780.5,152.9 781.0,149.4 781.6,145.7 782.1,141.6 782.7,137.3 783.2,132.7 783.7,127.7 784.3,122.3 784.8,116.4 785.4,110.1 785.9,103.1 786.4,109.0 787.0,120.0 787.5,129.9 788.0,138.8 788.6,147.0 789.1,154.5 789.7,161.5 790.2,167.9 790.7,174.0 791.3,179.7 791.8,185.0 792.4,190.1 792.9,194.8 793.4,199.3 794.0,203.6 794.5,207.7 795.0,211.5 795.6,215.2 796.1,218.7 796.7,222.0 797.2,225.2 797.7,228.3 798.3,231.2 798.8,233.9 799.4,236.6 799.9,239.1 800.4,241.6 801.0,243.9 801.5,246.1 802.0,248.2 802.6,250.3 803.1,252.2 803.7,254.1 804.2,255.9 804.7,257.6 805.3,259.2 805.8,260.8 806.4,262.2 806.9,263.7 807.4,265.0 808.0,266.3 808.5,267.5 809.0,268.7 809.6,269.8 810.1,270.8 810.7,271.8 811.2,272.7 811.7,273.6 812.3,274.4 812.8,275.2 813.4,275.9 813.9,276.6 814.4,277.2 815.0,277.8 815.5,278.3 816.0,278.8 816.6,279.2 817.1,279.6 817.7,279.9 818.2,280.2 818.7,280.4 819.3,280.6 819.8,280.8 820.3,280.9 820.9,280.9 821.4,280.9 822.0,280.9 822.5,280.8 823.0,280.6 823.6,280.5 824.1,280.2 824.7,279.9 825.2,279.6 825.7,279.2 826.3,278.8 826.8,278.3 827.3,277.8 827.9,277.2 828.4,276.6 829.0,275.9 829.5,275.1 830.0,274.3 830.6,273.4 831.1,272.5 831.7,271.5 832.2,270.5 832.7,269.4 833.3,268.2 833.8,266.9 834.3,265.6 834.9,264.2 835.4,262.7 836.0,261.2 836.5,259.5 837.0,257.8 837.6,256.0 838.1,254.1 838.7,252.1 839.2,249.9 839.7,247.7 840.3,245.4 840.8,243.0 841.3,240.4 841.9,237.7 842.4,234.8 843.0,231.8 843.5,228.7 844.0,225.4 844.6,221.9 845.1,218.2 845.7,214.3 846.2,210.2 846.7,205.9 847.3,201.3 847.8,196.4 848.3,191.2 848.9,185.6 849.4,179.7 850.0,174.8 850.5,179.8 851.0,184.5 851.6,188.9 852.1,193.1 852.7,197.1 853.2,200.8 853.7,204.4 854.3,207.7 854.8,210.9 855.3,214.0 855.9,216.8 856.4,219.6 857.0,222.2 857.5,224.6 858.0,227.0 858.6,229.2 859.1,231.3 859.6,233.4 860.2,235.3 860.7,237.1 861.3,238.8 861.8,240.4 862.3,242.0 862.9,243.4 863.4,244.8 864.0,246.1 864.5,247.3 865.0,248.5 865.6,249.5 866.1,250.5 866.6,251.4 867.2,252.3 867.7,253.1 868.3,253.8 868.8,254.5 869.3,255.1 869.9,255.6 870.4,256.1 871.0,256.5 871.5,256.8 872.0,257.1 872.6,257.3 873.1,257.5 873.6,257.6 874.2,257.6 874.4,257.6" fill="none" stroke="#000000" stroke-width="1.9" stroke-linejoin="round" stroke-linecap="butt"/>
<polyline points="536.1,257.6 536.6,257.6 537.2,257.6 537.7,257.5 538.3,257.3 538.8,257.1 539.3,256.9 539.9,256.6 540.4,256.3 540.9,256.0 541.5,255.6 542.0,255.2 542.6,254.7 543.1,254.2 543.6,253.6 544.2,253.0 544.7,252.3 545.3,251.6 545.8,250.9 546.3,250.0 546.9,249.2 547.4,248.3 547.9,247.3 548.5,246.3 549.0,245.3 549.6,244.1 550.1,243.0 550.6,241.7 551.2,240.4 551.7,239.1 552.3,237.7 552.8,236.2 553.3,234.6 553.9,233.0 554.4,231.3 554.9,229.5 555.5,227.7 556.0,225.7 556.6,223.7 557.1,221.6 557.6,219.4 558.2,217.1 558.7,214.7 559.2,212.2 559.8,209.6 560.3,206.8 560.9,207.5 561.4,210.9 561.9,214.0 562.5,217.1 563.0,220.0 563.6,222.7 564.1,225.4 564.6,227.9 565.2,230.3 565.7,232.6 566.2,234.9 566.8,237.0 567.3,239.0 567.9,240.9 568.4,242.8 568.9,244.6 569.5,246.2 570.0,247.9 570.6,249.4 571.1,250.9 571.6,252.3 572.2,253.7 572.7,254.9 573.2,256.2 573.8,257.3 574.3,258.4 574.9,259.5 575.4,260.5 575.9,261.5 576.5,262.4 577.0,263.2 577.6,264.0 578.1,264.8 578.6,265.5 579.2,266.2 579.7,266.8 580.2,267.4 580.8,268.0 581.3,268.5 581.9,268.9 582.4,269.4 582.9,269.8 583.5,270.1 584.0,270.4 584.6,270.7 585.1,271.0 585.6,271.2 586.2,271.4 586.7,271.5 587.2,271.6 587.8,271.7 588.3,271.7 588.9,271.7 589.4,271.7 589.9,271.6 590.5,271.5 591.0,271.4 591.6,271.2 592.1,271.0 592.6,270.8 593.2,270.5 593.7,270.2 594.2,269.9 594.8,269.5 595.3,269.1 595.9,268.7 596.4,268.2 596.9,267.7 597.5,267.2 598.0,266.6 598.5,266.0 599.1,265.3 599.6,264.6 600.2,263.9 600.7,263.1 601.2,262.3 601.8,261.5 602.3,260.6 602.9,259.6 603.4,258.7 603.9,257.6 604.5,256.6 605.0,255.5 605.5,254.3 606.1,253.1 606.6,251.8 607.2,250.5 607.7,249.1 608.2,247.7 608.8,246.3 609.3,244.7 609.9,243.1 610.4,241.5 610.9,239.7 611.5,238.0 612.0,236.1 612.5,234.2 613.1,232.2 613.6,230.1 614.2,227.9 614.7,225.7 615.2,223.3 615.8,220.9 616.3,218.4 616.9,215.7 617.4,213.0 617.9,210.1 618.5,207.2 619.0,204.1 619.5,200.9 620.1,197.5 620.6,194.0 621.2,190.4 621.7,186.6 622.2,182.6 622.8,178.4 623.3,174.0 623.9,169.4 624.4,164.6 624.9,167.4 625.5,170.0 626.0,172.4 626.5,174.8 627.1,177.1 627.6,179.2 628.2,181.3 628.7,183.2 629.2,185.1 629.8,186.8 630.3,188.5 630.8,190.1 631.4,191.6 631.9,193.0 632.5,194.4 633.0,195.7 633.5,196.9 634.1,198.1 634.6,199.1 635.2,200.2 635.7,201.1 636.2,202.0 636.8,202.9 637.3,203.6 637.8,204.4 638.4,205.0 638.9,205.6 639.5,206.2 640.0,206.7 640.5,207.2 641.1,207.6 641.6,207.9 642.2,208.2 642.7,208.5 643.2,208.7 643.8,208.9 644.3,209.0 644.8,209.0 645.4,209.0 645.9,209.0 646.5,208.9 647.0,208.8 647.5,208.6 648.1,208.4 648.6,208.2 649.2,207.9 649.7,207.5 650.2,207.1 650.8,206.6 651.3,206.1 651.8,205.6 652.4,205.0 652.9,204.3 653.5,203.6 654.0,202.9 654.5,202.1 655.1,201.3 655.6,200.3 656.2,199.4 656.7,198.4 657.2,197.3 657.8,196.2 658.3,195.0 658.8,193.7 659.4,192.4 659.9,191.1 660.5,189.6 661.0,188.1 661.5,186.5 662.1,184.9 662.6,183.2 663.2,181.4 663.7,179.5 664.2,177.5 664.8,175.5 665.3,173.4 665.8,171.1 666.4,168.8 666.9,166.4 667.5,163.9 668.0,161.2 668.5,158.5 669.1,155.6 669.6,152.6 670.1,149.5 670.7,146.2 671.2,142.8 671.8,139.2 672.3,135.5 672.8,131.6 673.4,128.5 673.9,133.5 674.5,138.1 675.0,142.6 675.5,146.8 676.1,150.8 676.6,154.6 677.1,158.3 677.7,161.7 678.2,165.1 678.8,168.2 679.3,171.3 679.8,174.2 680.4,176.9 680.9,179.6 681.5,182.1 682.0,184.6 682.5,186.9 683.1,189.1 683.6,191.3 684.1,193.3 684.7,195.3 685.2,197.2 685.8,199.0 686.3,200.7 686.8,202.4 687.4,203.9 687.9,205.5 688.5,206.9 689.0,208.3 689.5,209.6 690.1,210.9 690.6,212.1 691.1,213.2 691.7,214.3 692.2,215.4 692.8,216.4 693.3,217.3 693.8,218.2 694.4,219.0 694.9,219.8 695.5,220.6 696.0,221.3 696.5,222.0 697.1,222.6 697.6,223.1 698.1,223.7 698.7,224.2 699.2,224.6 699.8,225.0 700.3,225.4 700.8,225.7 701.4,226.0 701.9,226.3 702.5,226.5 703.0,226.7 703.5,226.8 704.1,226.9 704.6,227.0 705.1,227.0 705.7,227.0 706.2,226.9 706.8,226.8 707.3,226.7 707.8,226.5 708.4,226.3 708.9,226.1 709.4,225.8 710.0,225.5 710.5,225.2 711.1,224.8 711.6,224.3 712.1,223.8 712.7,223.3 713.2,222.8 713.8,222.2 714.3,221.5 714.8,220.8 715.4,220.1 715.9,219.3 716.4,218.5 717.0,217.6 717.5,216.7 718.1,215.7 718.6,214.7 719.1,213.6 719.7,212.5 720.2,211.3 720.8,210.0 721.3,208.7 721.8,207.3 722.4,205.9 722.9,204.4 723.4,202.9 724.0,201.2 724.5,199.5 725.1,197.8 725.6,195.9 726.1,194.0 726.7,191.9 727.2,189.8 727.8,187.6 728.3,185.3 728.8,182.9 729.4,180.4 729.9,177.8 730.4,175.1 731.0,172.2 731.5,169.2 732.1,166.1 732.6,162.8 733.1,159.4 733.7,155.8 734.2,152.0 734.8,148.1 735.3,143.9 735.8,139.6 736.4,135.0 736.9,130.1 737.4,130.3 738.0,134.3 738.5,138.1 739.1,141.7 739.6,145.2 740.1,148.5 740.7,151.6 741.2,154.7 741.8,157.6 742.3,160.4 742.8,163.0 743.4,165.6 743.9,168.1 744.4,170.4 745.0,172.7 745.5,174.8 746.1,176.9 746.6,178.9 747.1,180.8 747.7,182.6 748.2,184.3 748.7,186.0 749.3,187.6 749.8,189.1 750.4,190.6 750.9,192.0 751.4,193.3 752.0,194.6 752.5,195.8 753.1,197.0 753.6,198.0 754.1,199.1 754.7,200.0 755.2,201.0 755.7,201.8 756.3,202.7 756.8,203.4 757.4,204.1 757.9,204.8 758.4,205.4 759.0,206.0 759.5,206.5 760.1,207.0 760.6,207.4 761.1,207.7 761.7,208.1 762.2,208.3 762.7,208.6 763.3,208.8 763.8,208.9 764.4,209.0 764.9,209.0 765.4,209.0 766.0,209.0 766.5,208.9 767.1,208.7 767.6,208.6 768.1,208.3 768.7,208.0 769.2,207.7 769.7,207.3 770.3,206.9 770.8,206.4 771.4,205.8 771.9,205.2 772.4,204.6 773.0,203.9 773.5,203.1 774.1,202.3 774.6,201.4 775.1,200.5 775.7,199.5 776.2,198.4 776.7,197.3 777.3,196.1 777.8,194.8 778.4,193.5 778.9,192.1 779.4,190.6 780.0,189.0 780.5,187.4 781.0,185.6 781.6,183.8 782.1,181.9 782.7,179.9 783.2,177.8 783.7,175.5 784.3,173.2 784.8,170.8 785.4,168.2 785.9,165.5 786.4,167.9 787.0,172.6 787.5,177.0 788.0,181.2 788.6,185.3 789.1,189.2 789.7,192.9 790.2,196.4 790.7,199.8 791.3,203.1 791.8,206.2 792.4,209.2 792.9,212.1 793.4,214.9 794.0,217.5 794.5,220.1 795.0,222.6 795.6,224.9 796.1,227.2 796.7,229.4 797.2,231.5 797.7,233.5 798.3,235.5 798.8,237.4 799.4,239.2 799.9,240.9 800.4,242.6 801.0,244.2 801.5,245.8 802.0,247.3 802.6,248.7 803.1,250.1 803.7,251.4 804.2,252.7 804.7,253.9 805.3,255.1 805.8,256.2 806.4,257.3 806.9,258.3 807.4,259.3 808.0,260.3 808.5,261.2 809.0,262.0 809.6,262.9 810.1,263.6 810.7,264.4 811.2,265.1 811.7,265.8 812.3,266.4 812.8,267.0 813.4,267.5 813.9,268.1 814.4,268.5 815.0,269.0 815.5,269.4 816.0,269.8 816.6,270.1 817.1,270.4 817.7,270.7 818.2,271.0 818.7,271.2 819.3,271.3 819.8,271.5 820.3,271.6 820.9,271.7 821.4,271.7 822.0,271.7 822.5,271.7 823.0,271.6 823.6,271.5 824.1,271.4 824.7,271.2 825.2,271.0 825.7,270.8 826.3,270.5 826.8,270.2 827.3,269.9 827.9,269.5 828.4,269.1 829.0,268.6 829.5,268.1 830.0,267.6 830.6,267.0 831.1,266.4 831.7,265.7 832.2,265.0 832.7,264.3 833.3,263.5 833.8,262.6 834.3,261.8 834.9,260.8 835.4,259.8 836.0,258.8 836.5,257.7 837.0,256.5 837.6,255.3 838.1,254.1 838.7,252.7 839.2,251.3 839.7,249.9 840.3,248.4 840.8,246.8 841.3,245.1 841.9,243.4 842.4,241.5 843.0,239.6 843.5,237.6 844.0,235.5 844.6,233.4 845.1,231.1 845.7,228.7 846.2,226.2 846.7,223.6 847.3,220.9 847.8,218.0 848.3,215.0 848.9,211.9 849.4,208.6 850.0,205.9 850.5,208.7 851.0,211.4 851.6,213.9 852.1,216.3 852.7,218.7 853.2,220.9 853.7,223.0 854.3,225.1 854.8,227.0 855.3,228.9 855.9,230.7 856.4,232.5 857.0,234.1 857.5,235.7 858.0,237.2 858.6,238.6 859.1,240.0 859.6,241.3 860.2,242.6 860.7,243.8 861.3,244.9 861.8,246.0 862.3,247.0 862.9,248.0 863.4,248.9 864.0,249.8 864.5,250.6 865.0,251.4 865.6,252.1 866.1,252.8 866.6,253.4 867.2,254.0 867.7,254.5 868.3,255.0 868.8,255.5 869.3,255.9 869.9,256.2 870.4,256.6 871.0,256.8 871.5,257.1 872.0,257.3 872.6,257.4 873.1,257.5 873.6,257.6 874.2,257.6 874.4,257.6" fill="none" stroke="#ff0000" stroke-width="1.9" stroke-linejoin="round" stroke-linecap="butt"/>
<polyline points="536.1,257.6 536.6,257.6 537.2,257.6 537.7,257.5 538.3,257.4 538.8,257.2 539.3,257.1 539.9,256.9 540.4,256.6 540.9,256.3 541.5,256.0 542.0,255.7 542.6,255.3 543.1,254.9 543.6,254.4 544.2,254.0 544.7,253.4 545.3,252.9 545.8,252.3 546.3,251.7 546.9,251.0 547.4,250.3 547.9,249.5 548.5,248.7 549.0,247.9 549.6,247.0 550.1,246.1 550.6,245.2 551.2,244.2 551.7,243.1 552.3,242.0 552.8,240.8 553.3,239.6 553.9,238.4 554.4,237.1 554.9,235.7 555.5,234.3 556.0,232.8 556.6,231.3 557.1,229.7 557.6,228.0 558.2,226.2 558.7,224.4 559.2,222.5 559.8,220.6 560.3,218.5 560.9,219.0 561.4,221.5 561.9,223.8 562.5,226.1 563.0,228.2 563.6,230.3 564.1,232.3 564.6,234.2 565.2,236.0 565.7,237.8 566.2,239.4 566.8,241.0 567.3,242.6 567.9,244.0 568.4,245.4 568.9,246.8 569.5,248.1 570.0,249.3 570.6,250.5 571.1,251.6 571.6,252.7 572.2,253.7 572.7,254.7 573.2,255.7 573.8,256.6 574.3,257.4 574.9,258.2 575.4,259.0 575.9,259.7 576.5,260.4 577.0,261.1 577.6,261.7 578.1,262.3 578.6,262.8 579.2,263.3 579.7,263.8 580.2,264.2 580.8,264.7 581.3,265.0 581.9,265.4 582.4,265.7 582.9,266.0 583.5,266.3 584.0,266.5 584.6,266.7 585.1,266.9 585.6,267.0 586.2,267.1 586.7,267.2 587.2,267.3 587.8,267.3 588.3,267.3 588.9,267.3 589.4,267.2 589.9,267.1 590.5,267.0 591.0,266.9 591.6,266.7 592.1,266.6 592.6,266.3 593.2,266.1 593.7,265.8 594.2,265.5 594.8,265.2 595.3,264.9 595.9,264.5 596.4,264.1 596.9,263.7 597.5,263.2 598.0,262.7 598.5,262.2 599.1,261.6 599.6,261.0 600.2,260.4 600.7,259.8 601.2,259.1 601.8,258.4 602.3,257.7 602.9,256.9 603.4,256.1 603.9,255.3 604.5,254.4 605.0,253.5 605.5,252.5 606.1,251.5 606.6,250.5 607.2,249.4 607.7,248.3 608.2,247.2 608.8,246.0 609.3,244.8 609.9,243.5 610.4,242.2 610.9,240.8 611.5,239.3 612.0,237.9 612.5,236.3 613.1,234.7 613.6,233.1 614.2,231.4 614.7,229.6 615.2,227.8 615.8,225.9 616.3,223.9 616.9,221.9 617.4,219.8 617.9,217.6 618.5,215.3 619.0,212.9 619.5,210.5 620.1,208.0 620.6,205.3 621.2,202.6 621.7,199.7 622.2,196.8 622.8,193.7 623.3,190.5 623.9,187.2 624.4,183.7 624.9,185.6 625.5,187.4 626.0,189.2 626.5,190.8 627.1,192.4 627.6,193.9 628.2,195.4 628.7,196.8 629.2,198.1 629.8,199.3 630.3,200.5 630.8,201.7 631.4,202.7 631.9,203.8 632.5,204.7 633.0,205.7 633.5,206.5 634.1,207.4 634.6,208.1 635.2,208.9 635.7,209.6 636.2,210.2 636.8,210.8 637.3,211.3 637.8,211.9 638.4,212.3 638.9,212.8 639.5,213.1 640.0,213.5 640.5,213.8 641.1,214.1 641.6,214.3 642.2,214.5 642.7,214.7 643.2,214.8 643.8,214.9 644.3,214.9 644.8,215.0 645.4,214.9 645.9,214.9 646.5,214.8 647.0,214.7 647.5,214.5 648.1,214.3 648.6,214.1 649.2,213.8 649.7,213.5 650.2,213.2 650.8,212.8 651.3,212.4 651.8,211.9 652.4,211.5 652.9,210.9 653.5,210.4 654.0,209.8 654.5,209.2 655.1,208.5 655.6,207.8 656.2,207.0 656.7,206.2 657.2,205.4 657.8,204.5 658.3,203.6 658.8,202.6 659.4,201.6 659.9,200.6 660.5,199.5 661.0,198.3 661.5,197.1 662.1,195.9 662.6,194.6 663.2,193.2 663.7,191.8 664.2,190.4 664.8,188.8 665.3,187.3 665.8,185.6 666.4,183.9 666.9,182.1 667.5,180.3 668.0,178.4 668.5,176.4 669.1,174.3 669.6,172.2 670.1,170.0 670.7,167.7 671.2,165.3 671.8,162.8 672.3,160.2 672.8,157.5 673.4,155.4 673.9,158.7 674.5,161.9 675.0,164.9 675.5,167.8 676.1,170.6 676.6,173.3 677.1,175.9 677.7,178.3 678.2,180.7 678.8,183.0 679.3,185.1 679.8,187.2 680.4,189.3 680.9,191.2 681.5,193.1 682.0,194.8 682.5,196.6 683.1,198.2 683.6,199.8 684.1,201.3 684.7,202.8 685.2,204.2 685.8,205.6 686.3,206.9 686.8,208.1 687.4,209.3 687.9,210.5 688.5,211.6 689.0,212.6 689.5,213.6 690.1,214.6 690.6,215.5 691.1,216.4 691.7,217.2 692.2,218.0 692.8,218.8 693.3,219.5 693.8,220.2 694.4,220.8 694.9,221.5 695.5,222.0 696.0,222.6 696.5,223.1 697.1,223.6 697.6,224.0 698.1,224.4 698.7,224.8 699.2,225.1 699.8,225.5 700.3,225.8 700.8,226.0 701.4,226.2 701.9,226.4 702.5,226.6 703.0,226.7 703.5,226.8 704.1,226.9 704.6,227.0 705.1,227.0 705.7,227.0 706.2,226.9 706.8,226.9 707.3,226.8 707.8,226.6 708.4,226.5 708.9,226.3 709.4,226.1 710.0,225.8 710.5,225.6 711.1,225.3 711.6,224.9 712.1,224.5 712.7,224.1 713.2,223.7 713.8,223.2 714.3,222.7 714.8,222.2 715.4,221.6 715.9,221.0 716.4,220.4 717.0,219.7 717.5,219.0 718.1,218.3 718.6,217.5 719.1,216.7 719.7,215.8 720.2,214.9 720.8,213.9 721.3,212.9 721.8,211.9 722.4,210.8 722.9,209.7 723.4,208.5 724.0,207.3 724.5,206.0 725.1,204.7 725.6,203.3 726.1,201.8 726.7,200.3 727.2,198.7 727.8,197.1 728.3,195.4 728.8,193.6 729.4,191.8 729.9,189.9 730.4,187.9 731.0,185.8 731.5,183.7 732.1,181.4 732.6,179.1 733.1,176.7 733.7,174.1 734.2,171.5 734.8,168.7 735.3,165.9 735.8,162.9 736.4,159.8 736.9,156.5 737.4,156.6 738.0,159.3 738.5,162.0 739.1,164.5 739.6,166.9 740.1,169.2 740.7,171.5 741.2,173.7 741.8,175.7 742.3,177.7 742.8,179.7 743.4,181.5 743.9,183.3 744.4,185.1 745.0,186.7 745.5,188.3 746.1,189.9 746.6,191.4 747.1,192.8 747.7,194.2 748.2,195.5 748.7,196.7 749.3,197.9 749.8,199.1 750.4,200.2 750.9,201.3 751.4,202.3 752.0,203.3 752.5,204.2 753.1,205.1 753.6,206.0 754.1,206.8 754.7,207.5 755.2,208.3 755.7,208.9 756.3,209.6 756.8,210.2 757.4,210.8 757.9,211.3 758.4,211.8 759.0,212.3 759.5,212.7 760.1,213.1 760.6,213.4 761.1,213.7 761.7,214.0 762.2,214.2 762.7,214.4 763.3,214.6 763.8,214.8 764.4,214.9 764.9,214.9 765.4,215.0 766.0,214.9 766.5,214.9 767.1,214.8 767.6,214.7 768.1,214.6 768.7,214.4 769.2,214.2 769.7,213.9 770.3,213.6 770.8,213.3 771.4,212.9 771.9,212.5 772.4,212.0 773.0,211.5 773.5,211.0 774.1,210.4 774.6,209.8 775.1,209.1 775.7,208.4 776.2,207.6 776.7,206.8 777.3,206.0 777.8,205.0 778.4,204.1 778.9,203.1 779.4,202.0 780.0,200.9 780.5,199.7 781.0,198.5 781.6,197.2 782.1,195.8 782.7,194.4 783.2,192.9 783.7,191.3 784.3,189.7 784.8,188.0 785.4,186.2 785.9,184.3 786.4,186.1 787.0,189.5 787.5,192.7 788.0,195.8 788.6,198.8 789.1,201.7 789.7,204.5 790.2,207.1 790.7,209.7 791.3,212.2 791.8,214.6 792.4,216.9 792.9,219.1 793.4,221.2 794.0,223.3 794.5,225.3 795.0,227.2 795.6,229.0 796.1,230.8 796.7,232.6 797.2,234.2 797.7,235.8 798.3,237.4 798.8,238.9 799.4,240.3 799.9,241.7 800.4,243.1 801.0,244.4 801.5,245.6 802.0,246.8 802.6,248.0 803.1,249.1 803.7,250.2 804.2,251.2 804.7,252.2 805.3,253.2 805.8,254.1 806.4,255.0 806.9,255.8 807.4,256.7 808.0,257.4 808.5,258.2 809.0,258.9 809.6,259.6 810.1,260.2 810.7,260.9 811.2,261.4 811.7,262.0 812.3,262.5 812.8,263.0 813.4,263.5 813.9,264.0 814.4,264.4 815.0,264.8 815.5,265.1 816.0,265.4 816.6,265.7 817.1,266.0 817.7,266.3 818.2,266.5 818.7,266.7 819.3,266.8 819.8,267.0 820.3,267.1 820.9,267.2 821.4,267.2 822.0,267.3 822.5,267.3 823.0,267.3 823.6,267.2 824.1,267.1 824.7,267.0 825.2,266.9 825.7,266.7 826.3,266.5 826.8,266.3 827.3,266.1 827.9,265.8 828.4,265.5 829.0,265.2 829.5,264.8 830.0,264.4 830.6,263.9 831.1,263.5 831.7,263.0 832.2,262.4 832.7,261.9 833.3,261.3 833.8,260.6 834.3,260.0 834.9,259.2 835.4,258.5 836.0,257.7 836.5,256.8 837.0,256.0 837.6,255.0 838.1,254.1 838.7,253.1 839.2,252.0 839.7,250.9 840.3,249.7 840.8,248.5 841.3,247.2 841.9,245.9 842.4,244.5 843.0,243.0 843.5,241.5 844.0,239.9 844.6,238.3 845.1,236.6 845.7,234.8 846.2,232.9 846.7,230.9 847.3,228.9 847.8,226.8 848.3,224.6 848.9,222.2 849.4,219.8 850.0,217.9 850.5,219.9 851.0,221.9 851.6,223.8 852.1,225.7 852.7,227.4 853.2,229.1 853.7,230.8 854.3,232.3 854.8,233.8 855.3,235.3 855.9,236.6 856.4,238.0 857.0,239.2 857.5,240.5 858.0,241.6 858.6,242.8 859.1,243.8 859.6,244.8 860.2,245.8 860.7,246.8 861.3,247.6 861.8,248.5 862.3,249.3 862.9,250.0 863.4,250.8 864.0,251.4 864.5,252.1 865.0,252.7 865.6,253.3 866.1,253.8 866.6,254.3 867.2,254.8 867.7,255.2 868.3,255.6 868.8,255.9 869.3,256.2 869.9,256.5 870.4,256.8 871.0,257.0 871.5,257.2 872.0,257.3 872.6,257.5 873.1,257.6 873.6,257.6 874.2,257.6 874.4,257.6" fill="none" stroke="#0000ff" stroke-width="1.9" stroke-linejoin="round" stroke-linecap="butt"/>
<polyline points="536.1,257.6 536.6,257.6 537.2,257.6 537.7,257.5 538.3,257.5 538.8,257.4 539.3,257.2 539.9,257.1 540.4,256.9 540.9,256.7 541.5,256.5 542.0,256.2 542.6,255.9 543.1,255.6 543.6,255.3 544.2,255.0 544.7,254.6 545.3,254.2 545.8,253.8 546.3,253.3 546.9,252.8 547.4,252.3 547.9,251.8 548.5,251.2 549.0,250.6 549.6,250.0 550.1,249.3 550.6,248.6 551.2,247.9 551.7,247.1 552.3,246.4 552.8,245.5 553.3,244.7 553.9,243.8 554.4,242.8 554.9,241.9 555.5,240.9 556.0,239.8 556.6,238.7 557.1,237.6 557.6,236.4 558.2,235.2 558.7,233.9 559.2,232.6 559.8,231.2 560.3,229.8 560.9,230.1 561.4,231.7 561.9,233.3 562.5,234.9 563.0,236.3 563.6,237.8 564.1,239.1 564.6,240.4 565.2,241.7 565.7,242.9 566.2,244.0 566.8,245.1 567.3,246.2 567.9,247.2 568.4,248.1 568.9,249.1 569.5,250.0 570.0,250.8 570.6,251.6 571.1,252.4 571.6,253.1 572.2,253.8 572.7,254.5 573.2,255.2 573.8,255.8 574.3,256.4 574.9,256.9 575.4,257.4 575.9,257.9 576.5,258.4 577.0,258.8 577.6,259.2 578.1,259.6 578.6,260.0 579.2,260.3 579.7,260.6 580.2,260.9 580.8,261.2 581.3,261.4 581.9,261.7 582.4,261.9 582.9,262.0 583.5,262.2 584.0,262.3 584.6,262.4 585.1,262.5 585.6,262.6 586.2,262.6 586.7,262.7 587.2,262.7 587.8,262.7 588.3,262.6 588.9,262.6 589.4,262.5 589.9,262.4 590.5,262.3 591.0,262.2 591.6,262.0 592.1,261.9 592.6,261.7 593.2,261.5 593.7,261.2 594.2,261.0 594.8,260.7 595.3,260.4 595.9,260.1 596.4,259.8 596.9,259.4 597.5,259.0 598.0,258.6 598.5,258.2 599.1,257.8 599.6,257.3 600.2,256.8 600.7,256.3 601.2,255.8 601.8,255.3 602.3,254.7 602.9,254.1 603.4,253.5 603.9,252.8 604.5,252.1 605.0,251.4 605.5,250.7 606.1,250.0 606.6,249.2 607.2,248.4 607.7,247.5 608.2,246.6 608.8,245.7 609.3,244.8 609.9,243.9 610.4,242.9 610.9,241.8 611.5,240.8 612.0,239.7 612.5,238.5 613.1,237.3 613.6,236.1 614.2,234.9 614.7,233.6 615.2,232.2 615.8,230.8 616.3,229.4 616.9,227.9 617.4,226.4 617.9,224.8 618.5,223.1 619.0,221.4 619.5,219.7 620.1,217.9 620.6,216.0 621.2,214.0 621.7,212.0 622.2,210.0 622.8,207.8 623.3,205.6 623.9,203.2 624.4,200.9 624.9,202.1 625.5,203.3 626.0,204.4 626.5,205.5 627.1,206.5 627.6,207.5 628.2,208.4 628.7,209.3 629.2,210.2 629.8,211.0 630.3,211.8 630.8,212.5 631.4,213.2 631.9,213.9 632.5,214.5 633.0,215.1 633.5,215.7 634.1,216.2 634.6,216.7 635.2,217.2 635.7,217.6 636.2,218.0 636.8,218.4 637.3,218.7 637.8,219.1 638.4,219.3 638.9,219.6 639.5,219.8 640.0,220.0 640.5,220.2 641.1,220.4 641.6,220.5 642.2,220.6 642.7,220.7 643.2,220.7 643.8,220.7 644.3,220.7 644.8,220.7 645.4,220.6 645.9,220.6 646.5,220.5 647.0,220.3 647.5,220.2 648.1,220.0 648.6,219.8 649.2,219.6 649.7,219.3 650.2,219.0 650.8,218.7 651.3,218.4 651.8,218.1 652.4,217.7 652.9,217.3 653.5,216.8 654.0,216.4 654.5,215.9 655.1,215.4 655.6,214.9 656.2,214.3 656.7,213.7 657.2,213.1 657.8,212.4 658.3,211.7 658.8,211.0 659.4,210.3 659.9,209.5 660.5,208.7 661.0,207.9 661.5,207.0 662.1,206.1 662.6,205.2 663.2,204.2 663.7,203.2 664.2,202.1 664.8,201.1 665.3,199.9 665.8,198.8 666.4,197.6 666.9,196.3 667.5,195.0 668.0,193.7 668.5,192.3 669.1,190.9 669.6,189.4 670.1,187.9 670.7,186.3 671.2,184.6 671.8,182.9 672.3,181.2 672.8,179.4 673.4,178.0 673.9,180.1 674.5,182.2 675.0,184.2 675.5,186.1 676.1,188.0 676.6,189.8 677.1,191.5 677.7,193.2 678.2,194.8 678.8,196.3 679.3,197.8 679.8,199.2 680.4,200.6 680.9,201.9 681.5,203.2 682.0,204.4 682.5,205.6 683.1,206.8 683.6,207.9 684.1,208.9 684.7,209.9 685.2,210.9 685.8,211.9 686.3,212.8 686.8,213.6 687.4,214.5 687.9,215.3 688.5,216.1 689.0,216.8 689.5,217.5 690.1,218.2 690.6,218.8 691.1,219.5 691.7,220.0 692.2,220.6 692.8,221.2 693.3,221.7 693.8,222.2 694.4,222.6 694.9,223.0 695.5,223.5 696.0,223.8 696.5,224.2 697.1,224.5 697.6,224.9 698.1,225.2 698.7,225.4 699.2,225.7 699.8,225.9 700.3,226.1 700.8,226.3 701.4,226.5 701.9,226.6 702.5,226.7 703.0,226.8 703.5,226.9 704.1,226.9 704.6,227.0 705.1,227.0 705.7,227.0 706.2,227.0 706.8,226.9 707.3,226.8 707.8,226.7 708.4,226.6 708.9,226.5 709.4,226.3 710.0,226.2 710.5,226.0 711.1,225.8 711.6,225.5 712.1,225.2 712.7,225.0 713.2,224.7 713.8,224.3 714.3,224.0 714.8,223.6 715.4,223.2 715.9,222.8 716.4,222.3 717.0,221.8 717.5,221.3 718.1,220.8 718.6,220.2 719.1,219.6 719.7,219.0 720.2,218.4 720.8,217.7 721.3,217.0 721.8,216.3 722.4,215.5 722.9,214.7 723.4,213.9 724.0,213.1 724.5,212.2 725.1,211.2 725.6,210.3 726.1,209.3 726.7,208.2 727.2,207.1 727.8,206.0 728.3,204.8 728.8,203.6 729.4,202.3 729.9,201.0 730.4,199.7 731.0,198.3 731.5,196.8 732.1,195.3 732.6,193.7 733.1,192.0 733.7,190.3 734.2,188.6 734.8,186.7 735.3,184.8 735.8,182.9 736.4,180.8 736.9,178.7 737.4,178.8 738.0,180.6 738.5,182.4 739.1,184.1 739.6,185.8 740.1,187.4 740.7,188.9 741.2,190.4 741.8,191.9 742.3,193.3 742.8,194.6 743.4,195.9 743.9,197.2 744.4,198.4 745.0,199.6 745.5,200.7 746.1,201.8 746.6,202.9 747.1,203.9 747.7,204.9 748.2,205.8 748.7,206.7 749.3,207.6 749.8,208.5 750.4,209.3 750.9,210.1 751.4,210.8 752.0,211.5 752.5,212.2 753.1,212.9 753.6,213.5 754.1,214.1 754.7,214.7 755.2,215.2 755.7,215.7 756.3,216.2 756.8,216.7 757.4,217.1 757.9,217.6 758.4,217.9 759.0,218.3 759.5,218.6 760.1,219.0 760.6,219.2 761.1,219.5 761.7,219.7 762.2,219.9 762.7,220.1 763.3,220.3 763.8,220.4 764.4,220.5 764.9,220.6 765.4,220.7 766.0,220.7 766.5,220.7 767.1,220.7 767.6,220.7 768.1,220.6 768.7,220.5 769.2,220.4 769.7,220.3 770.3,220.1 770.8,219.9 771.4,219.7 771.9,219.4 772.4,219.1 773.0,218.8 773.5,218.5 774.1,218.1 774.6,217.7 775.1,217.3 775.7,216.9 776.2,216.4 776.7,215.9 777.3,215.3 777.8,214.7 778.4,214.1 778.9,213.4 779.4,212.8 780.0,212.0 780.5,211.3 781.0,210.5 781.6,209.6 782.1,208.7 782.7,207.8 783.2,206.8 783.7,205.8 784.3,204.7 784.8,203.6 785.4,202.5 785.9,201.3 786.4,202.5 787.0,204.8 787.5,207.1 788.0,209.3 788.6,211.4 789.1,213.4 789.7,215.4 790.2,217.3 790.7,219.1 791.3,220.9 791.8,222.6 792.4,224.3 792.9,225.9 793.4,227.4 794.0,228.9 794.5,230.4 795.0,231.8 795.6,233.1 796.1,234.4 796.7,235.7 797.2,237.0 797.7,238.1 798.3,239.3 798.8,240.4 799.4,241.5 799.9,242.5 800.4,243.5 801.0,244.5 801.5,245.5 802.0,246.4 802.6,247.2 803.1,248.1 803.7,248.9 804.2,249.7 804.7,250.5 805.3,251.2 805.8,251.9 806.4,252.6 806.9,253.3 807.4,253.9 808.0,254.5 808.5,255.1 809.0,255.6 809.6,256.2 810.1,256.7 810.7,257.2 811.2,257.6 811.7,258.1 812.3,258.5 812.8,258.9 813.4,259.3 813.9,259.7 814.4,260.0 815.0,260.3 815.5,260.6 816.0,260.9 816.6,261.1 817.1,261.4 817.7,261.6 818.2,261.8 818.7,262.0 819.3,262.1 819.8,262.3 820.3,262.4 820.9,262.5 821.4,262.6 822.0,262.6 822.5,262.7 823.0,262.7 823.6,262.7 824.1,262.7 824.7,262.6 825.2,262.5 825.7,262.5 826.3,262.4 826.8,262.2 827.3,262.1 827.9,261.9 828.4,261.7 829.0,261.5 829.5,261.3 830.0,261.0 830.6,260.7 831.1,260.4 831.7,260.1 832.2,259.7 832.7,259.4 833.3,259.0 833.8,258.5 834.3,258.1 834.9,257.6 835.4,257.1 836.0,256.5 836.5,256.0 837.0,255.4 837.6,254.7 838.1,254.1 838.7,253.4 839.2,252.6 839.7,251.9 840.3,251.1 840.8,250.2 841.3,249.4 841.9,248.4 842.4,247.5 843.0,246.5 843.5,245.4 844.0,244.4 844.6,243.2 845.1,242.0 845.7,240.8 846.2,239.5 846.7,238.2 847.3,236.8 847.8,235.3 848.3,233.8 848.9,232.2 849.4,230.6 850.0,229.3 850.5,230.7 851.0,232.1 851.6,233.5 852.1,234.8 852.7,236.0 853.2,237.2 853.7,238.3 854.3,239.5 854.8,240.5 855.3,241.5 855.9,242.5 856.4,243.5 857.0,244.4 857.5,245.3 858.0,246.1 858.6,246.9 859.1,247.7 859.6,248.4 860.2,249.1 860.7,249.8 861.3,250.4 861.8,251.0 862.3,251.6 862.9,252.1 863.4,252.7 864.0,253.2 864.5,253.6 865.0,254.1 865.6,254.5 866.1,254.9 866.6,255.2 867.2,255.5 867.7,255.9 868.3,256.1 868.8,256.4 869.3,256.6 869.9,256.8 870.4,257.0 871.0,257.2 871.5,257.3 872.0,257.4 872.6,257.5 873.1,257.6 873.6,257.6 874.2,257.6 874.4,257.6" fill="none" stroke="#ff00ff" stroke-width="1.9" stroke-linejoin="round" stroke-linecap="butt"/>
<polyline points="536.1,257.6 536.6,257.6 537.2,257.6 537.7,257.6 538.3,257.5 538.8,257.4 539.3,257.3 539.9,257.2 540.4,257.0 540.9,256.9 541.5,256.7 542.0,256.5 542.6,256.3 543.1,256.1 543.6,255.8 544.2,255.5 544.7,255.2 545.3,254.9 545.8,254.6 546.3,254.2 546.9,253.8 547.4,253.4 547.9,253.0 548.5,252.5 549.0,252.0 549.6,251.5 550.1,251.0 550.6,250.5 551.2,249.9 551.7,249.3 552.3,248.7 552.8,248.0 553.3,247.3 553.9,246.6 554.4,245.9 554.9,245.1 555.5,244.3 556.0,243.5 556.6,242.6 557.1,241.7 557.6,240.8 558.2,239.8 558.7,238.8 559.2,237.8 559.8,236.7 560.3,235.6 560.9,235.8 561.4,237.1 561.9,238.3 562.5,239.5 563.0,240.6 563.6,241.7 564.1,242.7 564.6,243.7 565.2,244.6 565.7,245.6 566.2,246.4 566.8,247.3 567.3,248.1 567.9,248.8 568.4,249.6 568.9,250.3 569.5,251.0 570.0,251.6 570.6,252.2 571.1,252.8 571.6,253.4 572.2,253.9 572.7,254.4 573.2,254.9 573.8,255.4 574.3,255.8 574.9,256.2 575.4,256.6 575.9,256.9 576.5,257.3 577.0,257.6 577.6,257.9 578.1,258.2 578.6,258.5 579.2,258.7 579.7,258.9 580.2,259.1 580.8,259.3 581.3,259.5 581.9,259.6 582.4,259.8 582.9,259.9 583.5,260.0 584.0,260.1 584.6,260.1 585.1,260.2 585.6,260.2 586.2,260.2 586.7,260.2 587.2,260.2 587.8,260.1 588.3,260.1 588.9,260.0 589.4,259.9 589.9,259.8 590.5,259.7 591.0,259.6 591.6,259.5 592.1,259.3 592.6,259.1 593.2,258.9 593.7,258.7 594.2,258.5 594.8,258.2 595.3,258.0 595.9,257.7 596.4,257.4 596.9,257.1 597.5,256.8 598.0,256.4 598.5,256.1 599.1,255.7 599.6,255.3 600.2,254.9 600.7,254.5 601.2,254.0 601.8,253.5 602.3,253.1 602.9,252.6 603.4,252.0 603.9,251.5 604.5,250.9 605.0,250.3 605.5,249.7 606.1,249.1 606.6,248.4 607.2,247.8 607.7,247.1 608.2,246.4 608.8,245.6 609.3,244.8 609.9,244.0 610.4,243.2 610.9,242.4 611.5,241.5 612.0,240.6 612.5,239.7 613.1,238.7 613.6,237.7 614.2,236.7 614.7,235.6 615.2,234.5 615.8,233.4 616.3,232.2 616.9,231.0 617.4,229.8 617.9,228.5 618.5,227.2 619.0,225.8 619.5,224.4 620.1,223.0 620.6,221.4 621.2,219.9 621.7,218.3 622.2,216.6 622.8,214.9 623.3,213.1 623.9,211.3 624.4,209.4 624.9,210.3 625.5,211.2 626.0,212.0 626.5,212.8 627.1,213.6 627.6,214.3 628.2,215.0 628.7,215.7 629.2,216.3 629.8,217.0 630.3,217.5 630.8,218.1 631.4,218.6 631.9,219.1 632.5,219.5 633.0,220.0 633.5,220.4 634.1,220.8 634.6,221.1 635.2,221.5 635.7,221.8 636.2,222.0 636.8,222.3 637.3,222.5 637.8,222.8 638.4,223.0 638.9,223.1 639.5,223.3 640.0,223.4 640.5,223.5 641.1,223.6 641.6,223.7 642.2,223.7 642.7,223.8 643.2,223.8 643.8,223.8 644.3,223.7 644.8,223.7 645.4,223.6 645.9,223.5 646.5,223.4 647.0,223.3 647.5,223.1 648.1,222.9 648.6,222.8 649.2,222.6 649.7,222.3 650.2,222.1 650.8,221.8 651.3,221.5 651.8,221.2 652.4,220.9 652.9,220.5 653.5,220.2 654.0,219.8 654.5,219.4 655.1,219.0 655.6,218.5 656.2,218.0 656.7,217.5 657.2,217.0 657.8,216.5 658.3,215.9 658.8,215.3 659.4,214.7 659.9,214.1 660.5,213.4 661.0,212.7 661.5,212.0 662.1,211.3 662.6,210.5 663.2,209.8 663.7,208.9 664.2,208.1 664.8,207.2 665.3,206.3 665.8,205.4 666.4,204.4 666.9,203.4 667.5,202.4 668.0,201.3 668.5,200.2 669.1,199.1 669.6,197.9 670.1,196.7 670.7,195.4 671.2,194.1 671.8,192.8 672.3,191.4 672.8,189.9 673.4,188.8 673.9,190.5 674.5,192.1 675.0,193.6 675.5,195.1 676.1,196.6 676.6,197.9 677.1,199.3 677.7,200.5 678.2,201.8 678.8,203.0 679.3,204.1 679.8,205.2 680.4,206.3 680.9,207.3 681.5,208.3 682.0,209.3 682.5,210.2 683.1,211.1 683.6,212.0 684.1,212.8 684.7,213.6 685.2,214.4 685.8,215.1 686.3,215.8 686.8,216.5 687.4,217.1 687.9,217.8 688.5,218.4 689.0,219.0 689.5,219.5 690.1,220.1 690.6,220.6 691.1,221.1 691.7,221.5 692.2,222.0 692.8,222.4 693.3,222.8 693.8,223.2 694.4,223.5 694.9,223.9 695.5,224.2 696.0,224.5 696.5,224.8 697.1,225.1 697.6,225.3 698.1,225.5 698.7,225.8 699.2,226.0 699.8,226.1 700.3,226.3 700.8,226.4 701.4,226.6 701.9,226.7 702.5,226.8 703.0,226.8 703.5,226.9 704.1,227.0 704.6,227.0 705.1,227.0 705.7,227.0 706.2,227.0 706.8,226.9 707.3,226.9 707.8,226.8 708.4,226.7 708.9,226.6 709.4,226.5 710.0,226.3 710.5,226.2 711.1,226.0 711.6,225.8 712.1,225.6 712.7,225.4 713.2,225.1 713.8,224.9 714.3,224.6 714.8,224.3 715.4,224.0 715.9,223.6 716.4,223.3 717.0,222.9 717.5,222.5 718.1,222.1 718.6,221.7 719.1,221.2 719.7,220.7 720.2,220.2 720.8,219.7 721.3,219.1 721.8,218.6 722.4,218.0 722.9,217.3 723.4,216.7 724.0,216.0 724.5,215.3 725.1,214.6 725.6,213.8 726.1,213.1 726.7,212.2 727.2,211.4 727.8,210.5 728.3,209.6 728.8,208.6 729.4,207.7 729.9,206.6 730.4,205.6 731.0,204.5 731.5,203.3 732.1,202.2 732.6,200.9 733.1,199.7 733.7,198.4 734.2,197.0 734.8,195.6 735.3,194.1 735.8,192.6 736.4,191.0 736.9,189.4 737.4,189.5 738.0,190.9 738.5,192.3 739.1,193.7 739.6,195.0 740.1,196.3 740.7,197.5 741.2,198.7 741.8,199.8 742.3,201.0 742.8,202.0 743.4,203.1 743.9,204.1 744.4,205.1 745.0,206.0 745.5,206.9 746.1,207.8 746.6,208.7 747.1,209.5 747.7,210.3 748.2,211.1 748.7,211.8 749.3,212.5 749.8,213.2 750.4,213.9 750.9,214.5 751.4,215.1 752.0,215.7 752.5,216.3 753.1,216.9 753.6,217.4 754.1,217.9 754.7,218.4 755.2,218.8 755.7,219.3 756.3,219.7 756.8,220.1 757.4,220.4 757.9,220.8 758.4,221.1 759.0,221.4 759.5,221.7 760.1,222.0 760.6,222.3 761.1,222.5 761.7,222.7 762.2,222.9 762.7,223.1 763.3,223.2 763.8,223.4 764.4,223.5 764.9,223.6 765.4,223.6 766.0,223.7 766.5,223.7 767.1,223.8 767.6,223.8 768.1,223.7 768.7,223.7 769.2,223.6 769.7,223.6 770.3,223.5 770.8,223.3 771.4,223.2 771.9,223.0 772.4,222.8 773.0,222.6 773.5,222.4 774.1,222.1 774.6,221.9 775.1,221.6 775.7,221.2 776.2,220.9 776.7,220.5 777.3,220.1 777.8,219.7 778.4,219.2 778.9,218.7 779.4,218.2 780.0,217.7 780.5,217.1 781.0,216.5 781.6,215.9 782.1,215.3 782.7,214.6 783.2,213.9 783.7,213.1 784.3,212.3 784.8,211.5 785.4,210.6 785.9,209.7 786.4,210.7 787.0,212.6 787.5,214.3 788.0,216.1 788.6,217.8 789.1,219.4 789.7,221.0 790.2,222.5 790.7,224.0 791.3,225.4 791.8,226.8 792.4,228.1 792.9,229.4 793.4,230.6 794.0,231.9 794.5,233.0 795.0,234.2 795.6,235.3 796.1,236.3 796.7,237.4 797.2,238.4 797.7,239.4 798.3,240.3 798.8,241.2 799.4,242.1 799.9,243.0 800.4,243.8 801.0,244.6 801.5,245.4 802.0,246.1 802.6,246.8 803.1,247.6 803.7,248.2 804.2,248.9 804.7,249.5 805.3,250.1 805.8,250.7 806.4,251.3 806.9,251.9 807.4,252.4 808.0,252.9 808.5,253.4 809.0,253.9 809.6,254.3 810.1,254.8 810.7,255.2 811.2,255.6 811.7,256.0 812.3,256.3 812.8,256.7 813.4,257.0 813.9,257.3 814.4,257.6 815.0,257.9 815.5,258.2 816.0,258.4 816.6,258.6 817.1,258.9 817.7,259.1 818.2,259.2 818.7,259.4 819.3,259.6 819.8,259.7 820.3,259.8 820.9,259.9 821.4,260.0 822.0,260.1 822.5,260.1 823.0,260.2 823.6,260.2 824.1,260.2 824.7,260.2 825.2,260.2 825.7,260.1 826.3,260.1 826.8,260.0 827.3,259.9 827.9,259.8 828.4,259.7 829.0,259.5 829.5,259.4 830.0,259.2 830.6,259.0 831.1,258.8 831.7,258.5 832.2,258.3 832.7,258.0 833.3,257.7 833.8,257.4 834.3,257.1 834.9,256.7 835.4,256.3 836.0,255.9 836.5,255.5 837.0,255.0 837.6,254.6 838.1,254.1 838.7,253.5 839.2,253.0 839.7,252.4 840.3,251.8 840.8,251.2 841.3,250.5 841.9,249.8 842.4,249.1 843.0,248.3 843.5,247.5 844.0,246.7 844.6,245.8 845.1,244.9 845.7,244.0 846.2,243.0 846.7,242.0 847.3,240.9 847.8,239.8 848.3,238.7 848.9,237.5 849.4,236.2 850.0,235.2 850.5,236.3 851.0,237.4 851.6,238.5 852.1,239.5 852.7,240.5 853.2,241.4 853.7,242.3 854.3,243.2 854.8,244.1 855.3,244.9 855.9,245.6 856.4,246.4 857.0,247.1 857.5,247.8 858.0,248.5 858.6,249.1 859.1,249.7 859.6,250.3 860.2,250.8 860.7,251.4 861.3,251.9 861.8,252.4 862.3,252.8 862.9,253.3 863.4,253.7 864.0,254.1 864.5,254.4 865.0,254.8 865.6,255.1 866.1,255.4 866.6,255.7 867.2,256.0 867.7,256.2 868.3,256.4 868.8,256.6 869.3,256.8 869.9,257.0 870.4,257.1 871.0,257.3 871.5,257.4 872.0,257.5 872.6,257.5 873.1,257.6 873.6,257.6 874.2,257.6 874.4,257.6" fill="none" stroke="#008000" stroke-width="1.9" stroke-linejoin="round" stroke-linecap="butt"/>
<polyline points="534.3,414.8 534.8,430.3 535.4,443.4 535.9,454.8 536.5,464.7 537.0,473.6 537.5,481.6 538.1,488.9 538.6,495.5 539.1,501.5 539.7,507.1 540.2,512.2 540.8,517.0 541.3,521.4 541.8,525.5 542.4,529.4 542.9,532.9 543.4,536.3 544.0,539.4 544.5,542.4 545.1,545.2 545.6,547.8 546.1,550.3 546.7,552.6 547.2,554.8 547.8,556.8 548.3,558.8 548.8,560.7 549.4,562.4 549.9,564.1 550.4,565.6 551.0,567.1 551.5,568.5 552.1,569.9 552.6,571.2 553.1,572.4 553.7,573.5 554.2,574.6 554.7,575.6 555.3,576.6 555.8,577.6 556.4,578.4 556.9,579.3 557.4,580.1 558.0,580.8 558.5,581.5 559.0,582.2 559.6,582.9 560.1,583.5 560.7,584.1 561.2,584.6 561.7,585.1 562.3,585.6 562.8,586.1 563.4,586.5 563.9,586.9 564.4,587.3 565.0,587.6 565.5,588.0 566.0,588.3 566.6,588.6 567.1,588.8 567.7,589.1 568.2,589.3 568.7,589.5 569.3,589.7 569.8,589.9 570.3,590.0 570.9,590.2 571.4,590.3 572.0,590.4 572.5,590.5 573.0,590.6 573.6,590.6 574.1,590.7 574.7,590.7 575.2,590.7 575.7,590.7 576.3,590.7 576.8,590.7 577.3,590.6 577.9,590.6 578.4,590.5 579.0,590.4 579.5,590.3 580.0,590.2 580.6,590.1 581.1,590.0 581.6,589.8 582.2,589.7 582.7,589.5 583.3,589.3 583.8,589.1 584.3,588.9 584.9,588.7 585.4,588.5 585.9,588.3 586.5,588.0 587.0,587.8 587.6,587.5 588.1,587.2 588.6,586.9 589.2,586.6 589.7,586.3 590.3,585.9 590.8,585.6 591.3,585.2 591.9,584.9 592.4,584.5 592.9,584.1 593.5,583.7 594.0,583.2 594.6,582.8 595.1,582.3 595.6,581.9 596.2,581.4 596.7,580.9 597.2,580.4 597.8,579.9 598.3,579.3 598.9,578.8 599.4,578.2 599.9,577.6 600.5,577.0 601.0,576.4 601.6,575.8 602.1,575.1 602.6,574.5 603.2,573.8 603.7,573.1 604.2,572.3 604.8,571.6 605.3,570.8 605.9,570.0 606.4,569.2 606.9,568.4 607.5,567.5 608.0,566.6 608.5,565.7 609.1,564.8 609.6,563.8 610.2,562.8 610.7,561.8 611.2,560.8 611.8,559.7 612.3,558.6 612.8,557.4 613.4,556.3 613.9,555.0 614.5,553.8 615.0,552.5 615.5,551.2 616.1,549.8 616.6,548.4 617.2,546.9 617.7,545.4 618.2,543.9 618.8,542.3 619.3,540.6 619.8,538.9 620.4,537.1 620.9,535.2 621.5,533.3 622.0,531.3 622.5,529.3 623.1,527.1 623.6,524.9 624.1,522.6 624.7,520.2 625.2,517.7 625.8,515.1 626.3,512.4 626.8,509.5 627.4,506.5 627.9,503.4 628.5,500.2 629.0,496.7 629.5,493.1 630.1,489.3 630.6,485.3 631.1,481.1 631.7,476.6 632.2,471.9 632.8,466.8 633.3,461.4 633.8,455.5 634.4,449.3 634.9,442.5 635.4,435.1 636.0,427.0 636.5,417.9 637.1,407.8 637.6,396.1 638.1,384.4 638.1,384.2 638.1,383.9 638.1,383.6 638.1,383.4 638.1,383.1 638.1,382.8 638.1,382.6 638.1,382.3 638.1,382.0 638.2,381.8 638.2,381.5 638.2,381.2 638.2,381.0 638.2,380.7 638.2,380.4 638.2,380.1 638.2,379.9 638.2,379.6 638.2,379.3 638.2,379.0 638.3,378.8 638.3,378.5 638.3,378.2 638.3,377.9 638.3,377.6 638.3,377.3 638.3,377.1 638.3,376.8 638.3,376.5 638.3,376.2 638.4,375.9 638.4,375.6 638.4,375.3 638.4,375.0 638.4,374.7 638.4,374.4 638.4,374.1 638.4,373.8 638.4,373.5 638.4,373.2 638.4,372.9 638.5,372.6 638.5,372.3 638.5,372.0 638.5,371.7 638.5,371.4 638.5,371.0 638.5,370.7 638.5,370.4 638.5,370.1 638.5,369.8 638.5,369.4 638.6,369.1 638.6,368.8 638.6,368.5 638.6,368.1 638.6,367.8 638.6,367.5 638.6,367.1 638.6,366.8 638.6,366.5 638.6,366.1 638.7,365.8 638.7,365.4 638.7,365.1 638.7,364.7 638.7,364.4 638.7,364.0 638.7,363.7 638.7,363.3 638.7,363.0 638.7,362.6 638.7,362.2 638.8,361.9 638.8,361.5 638.8,361.1 638.8,360.7 638.8,360.4 638.8,360.0 638.8,359.6 638.8,359.2 638.8,358.8 638.8,358.5 638.8,358.1 638.9,357.7 638.9,357.3 638.9,356.9 638.9,356.5 638.9,356.1 638.9,355.7 638.9,355.2 638.9,354.8 638.9,354.4 638.9,354.0 639.0,353.6 639.0,353.1 639.0,352.7 639.0,352.3 639.0,351.8 639.0,351.4 639.0,350.9 639.0,350.5 639.0,350.0 639.0,349.5 639.0,349.1 639.1,348.6 639.1,348.1 639.1,347.7 639.1,347.2 639.1,346.7 639.1,346.2 639.1,345.7 639.1,345.2 639.1,344.7 639.1,344.1 639.1,343.6 639.2,343.1 639.2,342.6 639.2,342.0 639.2,341.5 639.2,340.9 639.2,340.3 639.2,339.8 639.2,339.2 639.2,338.6 639.2,338.0 639.3,337.4 639.3,336.8 639.3,336.1 639.3,335.5 639.3,334.8 639.3,334.2 639.3,333.5 639.3,332.8 639.3,332.1 639.3,331.4 639.3,330.7 639.4,329.9 639.4,329.1 639.4,329.0" fill="none" stroke="#000000" stroke-width="1.9" stroke-linejoin="round" stroke-linecap="butt"/>
<polyline points="656.9,329.0 656.9,329.1 657.0,329.6 657.0,330.2 657.0,330.7 657.0,331.1 657.0,331.6 657.0,332.1 657.0,332.6 657.0,333.1 657.0,333.5 657.0,334.0 657.0,334.4 657.1,334.9 657.1,335.3 657.1,335.7 657.1,336.1 657.1,336.6 657.1,337.0 657.1,337.4 657.1,337.8 657.1,338.2 657.1,338.6 657.1,339.0 657.2,339.4 657.2,339.8 657.2,340.2 657.2,340.5 657.2,340.9 657.2,341.3 657.2,341.7 657.2,342.0 657.2,342.4 657.2,342.7 657.3,343.1 657.3,343.5 657.3,343.8 657.3,344.1 657.3,344.5 657.3,344.8 657.3,345.2 657.3,345.5 657.3,345.8 657.3,346.2 657.3,346.5 657.4,346.8 657.4,347.2 657.4,347.5 657.4,347.8 657.4,348.1 657.4,348.4 657.4,348.7 657.4,349.1 657.4,349.4 657.4,349.7 657.4,350.0 657.5,350.3 657.5,350.6 657.5,350.9 657.5,351.2 657.5,351.5 657.5,351.8 657.5,352.1 657.5,352.3 657.5,352.6 657.5,352.9 657.6,353.2 657.6,353.5 657.6,353.8 657.6,354.0 657.6,354.3 657.6,354.6 657.6,354.9 657.6,355.1 657.6,355.4 657.6,355.7 657.6,356.0 657.7,356.2 657.7,356.5 657.7,356.8 657.7,357.0 657.7,357.3 657.7,357.5 657.7,357.8 657.7,358.1 657.7,358.3 657.7,358.6 657.8,358.8 657.8,359.1 657.8,359.3 657.8,359.6 657.8,359.8 657.8,360.1 657.8,360.3 657.8,360.6 657.8,360.8 657.8,361.1 657.8,361.3 657.9,361.6 657.9,361.8 657.9,362.0 657.9,362.3 657.9,362.5 657.9,362.7 657.9,363.0 657.9,363.2 657.9,363.4 657.9,363.7 657.9,363.9 658.0,364.1 658.0,364.4 658.0,364.6 658.0,364.8 658.0,365.1 658.0,365.3 658.0,365.5 658.0,365.7 658.0,365.9 658.0,366.2 658.1,366.4 658.1,366.6 658.1,366.8 658.1,367.1 658.1,367.3 658.1,367.5 658.1,367.7 658.1,367.9 658.1,368.1 658.1,368.3 658.1,368.6 658.2,368.8 658.2,369.0 658.2,369.2 658.2,369.4 658.2,369.6 658.2,369.8 658.2,370.0 658.2,370.2 658.2,370.4 658.2,370.6 658.2,370.9 658.3,371.1 658.3,371.3 658.3,371.5 658.3,371.7 658.3,371.9 658.3,372.1 658.3,372.3 658.3,372.5 658.3,372.7 658.3,372.9 658.4,373.1 658.4,373.3 658.4,373.4 658.4,373.6 658.4,373.8 658.4,374.0 658.4,374.2 658.4,374.4 658.4,374.6 658.4,374.8 658.4,375.0 658.5,375.2 658.5,375.4 658.5,375.6 658.5,375.7 658.5,375.9 658.5,376.1 658.5,376.3 658.5,376.5 658.5,376.7 658.5,376.9 658.5,377.1 658.6,377.2 658.6,377.4 658.6,377.6 658.6,377.8 658.6,378.0 658.6,378.1 658.6,378.3 658.6,378.5 658.6,378.7 658.6,378.9 658.7,379.0 658.7,379.2 658.7,379.4 658.7,379.6 658.7,379.7 658.7,379.9 658.7,380.1 658.7,380.3 659.1,387.3 659.7,395.7 660.2,403.1 660.7,409.7 661.3,415.8 661.8,421.3 662.3,426.4 662.9,431.1 663.4,435.5 664.0,439.6 664.5,443.4 665.0,447.0 665.6,450.4 666.1,453.6 666.6,456.6 667.2,459.5 667.7,462.2 668.3,464.8 668.8,467.2 669.3,469.5 669.9,471.7 670.4,473.8 671.0,475.9 671.5,477.8 672.0,479.6 672.6,481.4 673.1,483.1 673.6,484.7 674.2,486.2 674.7,487.7 675.3,489.1 675.8,490.4 676.3,491.7 676.9,493.0 677.4,494.2 677.9,495.3 678.5,496.5 679.0,497.5 679.6,498.5 680.1,499.5 680.6,500.5 681.2,501.4 681.7,502.2 682.3,503.1 682.8,503.9 683.3,504.6 683.9,505.4 684.4,506.1 684.9,506.7 685.5,507.4 686.0,508.0 686.6,508.6 687.1,509.2 687.6,509.7 688.2,510.3 688.7,510.8 689.2,511.2 689.8,511.7 690.3,512.1 690.9,512.5 691.4,512.9 691.9,513.3 692.5,513.7 693.0,514.0 693.6,514.3 694.1,514.6 694.6,514.9 695.2,515.1 695.7,515.4 696.2,515.6 696.8,515.8 697.3,516.0 697.9,516.2 698.4,516.3 698.9,516.5 699.5,516.6 700.0,516.7 700.5,516.8 701.1,516.8 701.6,516.9 702.2,516.9 702.7,517.0 703.2,517.0 703.8,517.0 704.3,517.0 704.8,516.9 705.4,516.9 705.9,516.8 706.5,516.7 707.0,516.6 707.5,516.5 708.1,516.4 708.6,516.2 709.2,516.0 709.7,515.9 710.2,515.7 710.8,515.4 711.3,515.2 711.8,515.0 712.4,514.7 712.9,514.4 713.5,514.1 714.0,513.8 714.5,513.4 715.1,513.0 715.6,512.7 716.1,512.3 716.7,511.8 717.2,511.4 717.8,510.9 718.3,510.4 718.8,509.9 719.4,509.4 719.9,508.8 720.5,508.2 721.0,507.6 721.5,507.0 722.1,506.3 722.6,505.6 723.1,504.9 723.7,504.1 724.2,503.3 724.8,502.5 725.3,501.6 725.8,500.7 726.4,499.8 726.9,498.8 727.4,497.8 728.0,496.8 728.5,495.7 729.1,494.6 729.6,493.4 730.1,492.2 730.7,490.9 731.2,489.5 731.7,488.1 732.3,486.7 732.8,485.2 733.4,483.6 733.9,481.9 734.4,480.2 735.0,478.4 735.5,476.5 736.1,474.5 736.6,472.4 737.1,470.2 737.7,468.0 738.2,465.6 738.7,463.0 739.3,460.4 739.8,457.6 740.4,454.6 740.9,451.5 741.4,448.1 742.0,444.6 742.5,440.9 743.0,436.9 743.6,432.6 744.1,428.0 744.7,423.0 745.2,417.6 745.7,411.7 746.3,405.3 746.8,398.1 747.4,390.1 747.9,380.9 747.9,380.3 747.9,380.1 747.9,379.9 748.0,379.7 748.0,379.6 748.0,379.4 748.0,379.2 748.0,379.0 748.0,378.9 748.0,378.7 748.0,378.5 748.0,378.3 748.0,378.1 748.0,378.0 748.1,377.8 748.1,377.6 748.1,377.4 748.1,377.2 748.1,377.1 748.1,376.9 748.1,376.7 748.1,376.5 748.1,376.3 748.1,376.1 748.1,375.9 748.2,375.7 748.2,375.6 748.2,375.4 748.2,375.2 748.2,375.0 748.2,374.8 748.2,374.6 748.2,374.4 748.2,374.2 748.2,374.0 748.3,373.8 748.3,373.6 748.3,373.4 748.3,373.3 748.3,373.1 748.3,372.9 748.3,372.7 748.3,372.5 748.3,372.3 748.3,372.1 748.3,371.9 748.4,371.7 748.4,371.5 748.4,371.3 748.4,371.1 748.4,370.9 748.4,370.6 748.4,370.4 748.4,370.2 748.4,370.0 748.4,369.8 748.4,369.6 748.5,369.4 748.5,369.2 748.5,369.0 748.5,368.8 748.5,368.6 748.5,368.3 748.5,368.1 748.5,367.9 748.5,367.7 748.5,367.5 748.6,367.3 748.6,367.1 748.6,366.8 748.6,366.6 748.6,366.4 748.6,366.2 748.6,365.9 748.6,365.7 748.6,365.5 748.6,365.3 748.6,365.1 748.7,364.8 748.7,364.6 748.7,364.4 748.7,364.1 748.7,363.9 748.7,363.7 748.7,363.4 748.7,363.2 748.7,363.0 748.7,362.7 748.7,362.5 748.8,362.3 748.8,362.0 748.8,361.8 748.8,361.6 748.8,361.3 748.8,361.1 748.8,360.8 748.8,360.6 748.8,360.3 748.8,360.1 748.9,359.8 748.9,359.6 748.9,359.3 748.9,359.1 748.9,358.8 748.9,358.6 748.9,358.3 748.9,358.1 748.9,357.8 748.9,357.5 748.9,357.3 749.0,357.0 749.0,356.8 749.0,356.5 749.0,356.2 749.0,356.0 749.0,355.7 749.0,355.4 749.0,355.1 749.0,354.9 749.0,354.6 749.0,354.3 749.1,354.0 749.1,353.8 749.1,353.5 749.1,353.2 749.1,352.9 749.1,352.6 749.1,352.3 749.1,352.1 749.1,351.8 749.1,351.5 749.2,351.2 749.2,350.9 749.2,350.6 749.2,350.3 749.2,350.0 749.2,349.7 749.2,349.4 749.2,349.1 749.2,348.7 749.2,348.4 749.2,348.1 749.3,347.8 749.3,347.5 749.3,347.2 749.3,346.8 749.3,346.5 749.3,346.2 749.3,345.8 749.3,345.5 749.3,345.2 749.3,344.8 749.3,344.5 749.4,344.1 749.4,343.8 749.4,343.5 749.4,343.1 749.4,342.7 749.4,342.4 749.4,342.0 749.4,341.7 749.4,341.3 749.4,340.9 749.5,340.5 749.5,340.2 749.5,339.8 749.5,339.4 749.5,339.0 749.5,338.6 749.5,338.2 749.5,337.8 749.5,337.4 749.5,337.0 749.5,336.6 749.6,336.1 749.6,335.7 749.6,335.3 749.6,334.9 749.6,334.4 749.6,334.0 749.6,333.5 749.6,333.1 749.6,332.6 749.6,332.1 749.7,331.6 749.7,331.1 749.7,330.7" fill="none" stroke="#000000" stroke-width="1.9" stroke-linejoin="round" stroke-linecap="butt"/>
<polyline points="767.3,330.7 767.3,331.4 767.3,332.1 767.3,332.8 767.3,333.5 767.3,334.2 767.4,334.8 767.4,335.5 767.4,336.1 767.4,336.8 767.4,337.4 767.4,338.0 767.4,338.6 767.4,339.2 767.4,339.8 767.4,340.3 767.4,340.9 767.5,341.5 767.5,342.0 767.5,342.6 767.5,343.1 767.5,343.6 767.5,344.1 767.5,344.7 767.5,345.2 767.5,345.7 767.5,346.2 767.5,346.7 767.6,347.2 767.6,347.7 767.6,348.1 767.6,348.6 767.6,349.1 767.6,349.5 767.6,350.0 767.6,350.5 767.6,350.9 767.6,351.4 767.7,351.8 767.7,352.3 767.7,352.7 767.7,353.1 767.7,353.6 767.7,354.0 767.7,354.4 767.7,354.8 767.7,355.2 767.7,355.7 767.7,356.1 767.8,356.5 767.8,356.9 767.8,357.3 767.8,357.7 767.8,358.1 767.8,358.5 767.8,358.8 767.8,359.2 767.8,359.6 767.8,360.0 767.8,360.4 767.9,360.7 767.9,361.1 767.9,361.5 767.9,361.9 767.9,362.2 767.9,362.6 767.9,363.0 767.9,363.3 767.9,363.7 767.9,364.0 768.0,364.4 768.0,364.7 768.0,365.1 768.0,365.4 768.0,365.8 768.0,366.1 768.0,366.5 768.0,366.8 768.0,367.1 768.0,367.5 768.0,367.8 768.1,368.1 768.1,368.5 768.1,368.8 768.1,369.1 768.1,369.4 768.1,369.8 768.1,370.1 768.1,370.4 768.1,370.7 768.1,371.0 768.1,371.4 768.2,371.7 768.2,372.0 768.2,372.3 768.2,372.6 768.2,372.9 768.2,373.2 768.2,373.5 768.2,373.8 768.2,374.1 768.2,374.4 768.3,374.7 768.3,375.0 768.3,375.3 768.3,375.6 768.3,375.9 768.3,376.2 768.3,376.5 768.3,376.8 768.3,377.1 768.3,377.3 768.3,377.6 768.4,377.9 768.4,378.2 768.4,378.5 768.4,378.8 768.4,379.0 768.4,379.3 768.4,379.6 768.4,379.9 768.4,380.1 768.4,380.4 768.4,380.7 768.5,381.0 768.5,381.2 768.5,381.5 768.5,381.8 768.5,382.0 768.5,382.3 768.5,382.6 768.5,382.8 768.5,383.1 768.5,383.4 768.6,383.6 768.6,383.9 768.6,384.2 768.6,384.4 768.6,384.7 768.6,384.9 768.6,385.2 768.6,385.4 768.6,385.7 768.6,385.9 768.6,386.2 768.7,386.4 768.7,386.7 768.7,386.9 768.7,387.2 768.7,387.4 768.7,387.7 768.7,387.9 768.7,388.2 768.7,388.4 768.7,388.7 768.7,388.9 768.8,389.2 768.8,389.4 768.8,389.6 768.8,389.9 768.8,390.1 768.8,390.4 768.8,390.6 768.8,390.8 768.8,391.1 768.8,391.3 768.9,391.5 768.9,391.8 768.9,392.0 768.9,392.2 768.9,392.5 768.9,392.7 768.9,392.9 768.9,393.2 768.9,393.4 768.9,393.6 768.9,393.8 769.0,394.1 769.0,394.3 769.0,394.5 769.0,394.7 769.0,395.0 769.0,395.2 769.0,395.4 769.0,395.6 769.0,395.9 769.0,396.1 769.0,396.3 769.4,404.3 769.9,414.9 770.5,424.2 771.0,432.6 771.6,440.2 772.1,447.2 772.6,453.6 773.2,459.6 773.7,465.1 774.3,470.3 774.8,475.1 775.3,479.7 775.9,484.0 776.4,488.1 776.9,491.9 777.5,495.6 778.0,499.1 778.6,502.4 779.1,505.6 779.6,508.6 780.2,511.5 780.7,514.2 781.2,516.9 781.8,519.4 782.3,521.9 782.9,524.2 783.4,526.5 783.9,528.6 784.5,530.7 785.0,532.7 785.5,534.6 786.1,536.5 786.6,538.3 787.2,540.1 787.7,541.7 788.2,543.4 788.8,544.9 789.3,546.5 789.9,547.9 790.4,549.4 790.9,550.8 791.5,552.1 792.0,553.4 792.5,554.7 793.1,555.9 793.6,557.1 794.2,558.2 794.7,559.3 795.2,560.4 795.8,561.5 796.3,562.5 796.8,563.5 797.4,564.5 797.9,565.4 798.5,566.3 799.0,567.2 799.5,568.1 800.1,568.9 800.6,569.8 801.2,570.6 801.7,571.3 802.2,572.1 802.8,572.8 803.3,573.5 803.8,574.2 804.4,574.9 804.9,575.6 805.5,576.2 806.0,576.8 806.5,577.4 807.1,578.0 807.6,578.6 808.1,579.2 808.7,579.7 809.2,580.2 809.8,580.8 810.3,581.2 810.8,581.7 811.4,582.2 811.9,582.7 812.4,583.1 813.0,583.5 813.5,583.9 814.1,584.3 814.6,584.7 815.1,585.1 815.7,585.5 816.2,585.8 816.8,586.2 817.3,586.5 817.8,586.8 818.4,587.1 818.9,587.4 819.4,587.7 820.0,587.9 820.5,588.2 821.1,588.4 821.6,588.7 822.1,588.9 822.7,589.1 823.2,589.3 823.7,589.5 824.3,589.6 824.8,589.8 825.4,589.9 825.9,590.1 826.4,590.2 827.0,590.3 827.5,590.4 828.1,590.5 828.6,590.5 829.1,590.6 829.7,590.7 830.2,590.7 830.7,590.7 831.3,590.7 831.8,590.7 832.4,590.7 832.9,590.6 833.4,590.6 834.0,590.5 834.5,590.4 835.0,590.3 835.6,590.2 836.1,590.1 836.7,589.9 837.2,589.8 837.7,589.6 838.3,589.4 838.8,589.2 839.4,588.9 839.9,588.7 840.4,588.4 841.0,588.1 841.5,587.7 842.0,587.4 842.6,587.0 843.1,586.6 843.7,586.2 844.2,585.8 844.7,585.3 845.3,584.8 845.8,584.2 846.3,583.7 846.9,583.1 847.4,582.4 848.0,581.8 848.5,581.1 849.0,580.3 849.6,579.5 850.1,578.7 850.6,577.8 851.2,576.9 851.7,576.0 852.3,574.9 852.8,573.9 853.3,572.7 853.9,571.6 854.4,570.3 855.0,569.0 855.5,567.6 856.0,566.1 856.6,564.6 857.1,562.9 857.6,561.2 858.2,559.4 858.7,557.5 859.3,555.4 859.8,553.3 860.3,551.0 860.9,548.6 861.4,546.0 861.9,543.3 862.5,540.4 863.0,537.3 863.6,534.0 864.1,530.5 864.6,526.8 865.2,522.8 865.7,518.4 866.3,513.8 866.8,508.8 867.3,503.4 867.9,497.5 868.4,491.0 868.9,484.0 869.5,476.3 870.0,467.7 870.6,458.1 871.1,447.2 871.6,434.7 872.2,420.1 872.3,414.8" fill="none" stroke="#000000" stroke-width="1.9" stroke-linejoin="round" stroke-linecap="butt"/>
<polyline points="534.3,411.6 534.8,421.4 535.4,430.2 535.9,438.2 536.5,445.5 537.0,452.2 537.5,458.4 538.1,464.1 538.6,469.4 539.1,474.3 539.7,478.9 540.2,483.2 540.8,487.2 541.3,490.9 541.8,494.4 542.4,497.7 542.9,500.8 543.4,503.8 544.0,506.5 544.5,509.1 545.1,511.6 545.6,513.9 546.1,516.2 546.7,518.2 547.2,520.2 547.8,522.1 548.3,523.9 548.8,525.6 549.4,527.2 549.9,528.8 550.4,530.3 551.0,531.7 551.5,533.0 552.1,534.3 552.6,535.5 553.1,536.6 553.7,537.7 554.2,538.8 554.7,539.8 555.3,540.7 555.8,541.7 556.4,542.5 556.9,543.4 557.4,544.2 558.0,544.9 558.5,545.6 559.0,546.3 559.6,547.0 560.1,547.6 560.7,548.2 561.2,548.8 561.7,549.3 562.3,549.9 562.8,550.4 563.4,550.8 563.9,551.3 564.4,551.7 565.0,552.1 565.5,552.5 566.0,552.9 566.6,553.2 567.1,553.5 567.7,553.8 568.2,554.1 568.7,554.4 569.3,554.7 569.8,554.9 570.3,555.1 570.9,555.3 571.4,555.5 572.0,555.7 572.5,555.9 573.0,556.0 573.6,556.2 574.1,556.3 574.7,556.4 575.2,556.5 575.7,556.6 576.3,556.7 576.8,556.8 577.3,556.8 577.9,556.9 578.4,556.9 579.0,556.9 579.5,556.9 580.0,556.9 580.6,556.9 581.1,556.9 581.6,556.8 582.2,556.8 582.7,556.7 583.3,556.7 583.8,556.6 584.3,556.5 584.9,556.4 585.4,556.3 585.9,556.2 586.5,556.1 587.0,555.9 587.6,555.8 588.1,555.6 588.6,555.5 589.2,555.3 589.7,555.1 590.3,554.9 590.8,554.7 591.3,554.5 591.9,554.3 592.4,554.1 592.9,553.8 593.5,553.6 594.0,553.3 594.6,553.0 595.1,552.7 595.6,552.4 596.2,552.1 596.7,551.8 597.2,551.5 597.8,551.1 598.3,550.8 598.9,550.4 599.4,550.0 599.9,549.6 600.5,549.2 601.0,548.8 601.6,548.4 602.1,547.9 602.6,547.5 603.2,547.0 603.7,546.5 604.2,546.0 604.8,545.5 605.3,545.0 605.9,544.4 606.4,543.9 606.9,543.3 607.5,542.7 608.0,542.1 608.5,541.4 609.1,540.8 609.6,540.1 610.2,539.4 610.7,538.7 611.2,538.0 611.8,537.2 612.3,536.5 612.8,535.7 613.4,534.8 613.9,534.0 614.5,533.1 615.0,532.2 615.5,531.3 616.1,530.3 616.6,529.3 617.2,528.3 617.7,527.3 618.2,526.2 618.8,525.1 619.3,523.9 619.8,522.7 620.4,521.5 620.9,520.2 621.5,518.9 622.0,517.5 622.5,516.1 623.1,514.7 623.6,513.1 624.1,511.6 624.7,509.9 625.2,508.3 625.8,506.5 626.3,504.7 626.8,502.8 627.4,500.8 627.9,498.8 628.5,496.7 629.0,494.5 629.5,492.2 630.1,489.8 630.6,487.3 631.1,484.6 631.7,481.9 632.2,479.0 632.8,476.0 633.3,472.9 633.8,469.5 634.4,466.1 634.9,462.4 635.4,458.5 636.0,454.4 636.5,450.1 637.1,445.5 637.6,440.7 638.1,435.5 638.7,430.0 639.2,424.0 639.7,417.7 640.3,410.8 640.8,403.4 641.4,395.3 641.9,386.5 642.4,376.8 643.0,365.9 643.5,353.7 644.1,339.6 644.6,323.0 644.7,317.9" fill="none" stroke="#ff0000" stroke-width="1.9" stroke-linejoin="round" stroke-linecap="butt"/>
<polyline points="649.6,317.9 650.0,330.2 650.5,343.4 651.0,354.9 651.6,365.0 652.1,374.1 652.7,382.3 653.2,389.8 653.7,396.6 654.3,402.9 654.8,408.8 655.4,414.2 655.9,419.3 656.4,424.0 657.0,428.5 657.5,432.6 658.0,436.5 658.6,440.2 659.1,443.7 659.7,447.0 660.2,450.1 660.7,453.1 661.3,455.9 661.8,458.6 662.3,461.1 662.9,463.6 663.4,465.9 664.0,468.1 664.5,470.2 665.0,472.2 665.6,474.1 666.1,475.9 666.6,477.7 667.2,479.4 667.7,481.0 668.3,482.5 668.8,484.0 669.3,485.5 669.9,486.8 670.4,488.1 671.0,489.4 671.5,490.6 672.0,491.8 672.6,492.9 673.1,494.0 673.6,495.0 674.2,496.0 674.7,497.0 675.3,497.9 675.8,498.8 676.3,499.7 676.9,500.5 677.4,501.3 677.9,502.1 678.5,502.8 679.0,503.5 679.6,504.2 680.1,504.9 680.6,505.5 681.2,506.1 681.7,506.7 682.3,507.3 682.8,507.8 683.3,508.4 683.9,508.9 684.4,509.4 684.9,509.8 685.5,510.3 686.0,510.7 686.6,511.1 687.1,511.5 687.6,511.9 688.2,512.3 688.7,512.6 689.2,512.9 689.8,513.3 690.3,513.6 690.9,513.9 691.4,514.1 691.9,514.4 692.5,514.6 693.0,514.9 693.6,515.1 694.1,515.3 694.6,515.5 695.2,515.7 695.7,515.8 696.2,516.0 696.8,516.1 697.3,516.3 697.9,516.4 698.4,516.5 698.9,516.6 699.5,516.7 700.0,516.8 700.5,516.8 701.1,516.9 701.6,516.9 702.2,517.0 702.7,517.0 703.2,517.0 703.8,517.0 704.3,517.0 704.8,516.9 705.4,516.9 705.9,516.8 706.5,516.8 707.0,516.7 707.5,516.6 708.1,516.5 708.6,516.4 709.2,516.3 709.7,516.2 710.2,516.0 710.8,515.9 711.3,515.7 711.8,515.6 712.4,515.4 712.9,515.2 713.5,514.9 714.0,514.7 714.5,514.5 715.1,514.2 715.6,513.9 716.1,513.7 716.7,513.4 717.2,513.1 717.8,512.7 718.3,512.4 718.8,512.0 719.4,511.6 719.9,511.3 720.5,510.8 721.0,510.4 721.5,510.0 722.1,509.5 722.6,509.0 723.1,508.5 723.7,508.0 724.2,507.5 724.8,506.9 725.3,506.3 725.8,505.7 726.4,505.1 726.9,504.4 727.4,503.8 728.0,503.1 728.5,502.3 729.1,501.6 729.6,500.8 730.1,500.0 730.7,499.1 731.2,498.2 731.7,497.3 732.3,496.4 732.8,495.4 733.4,494.3 733.9,493.3 734.4,492.2 735.0,491.0 735.5,489.8 736.1,488.6 736.6,487.3 737.1,485.9 737.7,484.5 738.2,483.0 738.7,481.5 739.3,479.9 739.8,478.2 740.4,476.5 740.9,474.7 741.4,472.8 742.0,470.8 742.5,468.7 743.0,466.6 743.6,464.3 744.1,461.9 744.7,459.4 745.2,456.8 745.7,454.0 746.3,451.1 746.8,448.0 747.4,444.8 747.9,441.4 748.4,437.7 749.0,433.9 749.5,429.8 750.0,425.5 750.6,420.8 751.1,415.9 751.7,410.6 752.2,404.9 752.7,398.7 753.3,392.0 753.8,384.7 754.3,376.8 754.9,368.0 755.4,358.2 756.0,347.2 756.5,334.6 757.0,319.8 757.1,317.9" fill="none" stroke="#ff0000" stroke-width="1.9" stroke-linejoin="round" stroke-linecap="butt"/>
<polyline points="761.9,317.9 762.4,334.6 763.0,349.4 763.5,362.2 764.0,373.4 764.6,383.5 765.1,392.6 765.6,400.9 766.2,408.5 766.7,415.5 767.3,422.1 767.8,428.1 768.3,433.8 768.9,439.0 769.4,444.0 769.9,448.7 770.5,453.1 771.0,457.2 771.6,461.2 772.1,464.9 772.6,468.5 773.2,471.8 773.7,475.0 774.3,478.1 774.8,481.0 775.3,483.8 775.9,486.4 776.4,489.0 776.9,491.4 777.5,493.8 778.0,496.0 778.6,498.1 779.1,500.2 779.6,502.2 780.2,504.1 780.7,505.9 781.2,507.7 781.8,509.4 782.3,511.1 782.9,512.6 783.4,514.2 783.9,515.7 784.5,517.1 785.0,518.5 785.5,519.8 786.1,521.1 786.6,522.3 787.2,523.5 787.7,524.7 788.2,525.8 788.8,526.9 789.3,528.0 789.9,529.0 790.4,530.0 790.9,531.0 791.5,531.9 792.0,532.8 792.5,533.7 793.1,534.6 793.6,535.4 794.2,536.2 794.7,537.0 795.2,537.7 795.8,538.5 796.3,539.2 796.8,539.9 797.4,540.6 797.9,541.2 798.5,541.9 799.0,542.5 799.5,543.1 800.1,543.7 800.6,544.2 801.2,544.8 801.7,545.3 802.2,545.9 802.8,546.4 803.3,546.8 803.8,547.3 804.4,547.8 804.9,548.2 805.5,548.7 806.0,549.1 806.5,549.5 807.1,549.9 807.6,550.3 808.1,550.6 808.7,551.0 809.2,551.4 809.8,551.7 810.3,552.0 810.8,552.3 811.4,552.6 811.9,552.9 812.4,553.2 813.0,553.5 813.5,553.7 814.1,554.0 814.6,554.2 815.1,554.4 815.7,554.7 816.2,554.9 816.8,555.1 817.3,555.2 817.8,555.4 818.4,555.6 818.9,555.8 819.4,555.9 820.0,556.0 820.5,556.2 821.1,556.3 821.6,556.4 822.1,556.5 822.7,556.6 823.2,556.7 823.7,556.7 824.3,556.8 824.8,556.8 825.4,556.9 825.9,556.9 826.4,556.9 827.0,556.9 827.5,556.9 828.1,556.9 828.6,556.9 829.1,556.8 829.7,556.8 830.2,556.7 830.7,556.6 831.3,556.6 831.8,556.5 832.4,556.3 832.9,556.2 833.4,556.1 834.0,555.9 834.5,555.8 835.0,555.6 835.6,555.4 836.1,555.2 836.7,555.0 837.2,554.7 837.7,554.5 838.3,554.2 838.8,553.9 839.4,553.6 839.9,553.3 840.4,553.0 841.0,552.6 841.5,552.2 842.0,551.8 842.6,551.4 843.1,551.0 843.7,550.5 844.2,550.0 844.7,549.5 845.3,549.0 845.8,548.4 846.3,547.8 846.9,547.2 847.4,546.6 848.0,545.9 848.5,545.2 849.0,544.4 849.6,543.6 850.1,542.8 850.6,541.9 851.2,541.0 851.7,540.1 852.3,539.1 852.8,538.1 853.3,537.0 853.9,535.8 854.4,534.7 855.0,533.4 855.5,532.1 856.0,530.7 856.6,529.3 857.1,527.7 857.6,526.2 858.2,524.5 858.7,522.7 859.3,520.9 859.8,518.9 860.3,516.8 860.9,514.7 861.4,512.4 861.9,509.9 862.5,507.4 863.0,504.7 863.6,501.8 864.1,498.7 864.6,495.5 865.2,492.0 865.7,488.4 866.3,484.5 866.8,480.3 867.3,475.8 867.9,471.0 868.4,465.8 868.9,460.3 869.5,454.2 870.0,447.7 870.6,440.6 871.1,432.8 871.6,424.3 872.2,414.8 872.3,411.6" fill="none" stroke="#ff0000" stroke-width="1.9" stroke-linejoin="round" stroke-linecap="butt"/>
<polyline points="534.3,410.5 534.8,418.1 535.4,425.0 535.9,431.5 536.5,437.4 537.0,443.0 537.5,448.1 538.1,452.9 538.6,457.4 539.1,461.6 539.7,465.5 540.2,469.2 540.8,472.7 541.3,476.0 541.8,479.0 542.4,482.0 542.9,484.7 543.4,487.3 544.0,489.8 544.5,492.1 545.1,494.4 545.6,496.5 546.1,498.5 546.7,500.4 547.2,502.2 547.8,503.9 548.3,505.6 548.8,507.2 549.4,508.7 549.9,510.1 550.4,511.5 551.0,512.8 551.5,514.0 552.1,515.2 552.6,516.4 553.1,517.5 553.7,518.5 554.2,519.5 554.7,520.5 555.3,521.4 555.8,522.3 556.4,523.1 556.9,523.9 557.4,524.7 558.0,525.4 558.5,526.1 559.0,526.8 559.6,527.5 560.1,528.1 560.7,528.7 561.2,529.3 561.7,529.8 562.3,530.4 562.8,530.9 563.4,531.3 563.9,531.8 564.4,532.2 565.0,532.7 565.5,533.1 566.0,533.5 566.6,533.8 567.1,534.2 567.7,534.5 568.2,534.8 568.7,535.2 569.3,535.4 569.8,535.7 570.3,536.0 570.9,536.2 571.4,536.5 572.0,536.7 572.5,536.9 573.0,537.1 573.6,537.3 574.1,537.5 574.7,537.6 575.2,537.8 575.7,537.9 576.3,538.0 576.8,538.2 577.3,538.3 577.9,538.4 578.4,538.5 579.0,538.5 579.5,538.6 580.0,538.7 580.6,538.7 581.1,538.8 581.6,538.8 582.2,538.8 582.7,538.8 583.3,538.8 583.8,538.8 584.3,538.8 584.9,538.8 585.4,538.8 585.9,538.7 586.5,538.7 587.0,538.6 587.6,538.5 588.1,538.5 588.6,538.4 589.2,538.3 589.7,538.2 590.3,538.1 590.8,538.0 591.3,537.8 591.9,537.7 592.4,537.6 592.9,537.4 593.5,537.3 594.0,537.1 594.6,536.9 595.1,536.7 595.6,536.5 596.2,536.3 596.7,536.1 597.2,535.9 597.8,535.7 598.3,535.4 598.9,535.2 599.4,534.9 599.9,534.6 600.5,534.3 601.0,534.1 601.6,533.7 602.1,533.4 602.6,533.1 603.2,532.8 603.7,532.4 604.2,532.1 604.8,531.7 605.3,531.3 605.9,530.9 606.4,530.5 606.9,530.1 607.5,529.6 608.0,529.2 608.5,528.7 609.1,528.2 609.6,527.7 610.2,527.2 610.7,526.7 611.2,526.2 611.8,525.6 612.3,525.0 612.8,524.4 613.4,523.8 613.9,523.2 614.5,522.5 615.0,521.8 615.5,521.1 616.1,520.4 616.6,519.7 617.2,518.9 617.7,518.1 618.2,517.3 618.8,516.4 619.3,515.6 619.8,514.7 620.4,513.7 620.9,512.8 621.5,511.8 622.0,510.8 622.5,509.7 623.1,508.6 623.6,507.4 624.1,506.3 624.7,505.0 625.2,503.8 625.8,502.5 626.3,501.1 626.8,499.7 627.4,498.2 627.9,496.7 628.5,495.1 629.0,493.5 629.5,491.7 630.1,490.0 630.6,488.1 631.1,486.2 631.7,484.1 632.2,482.0 632.8,479.8 633.3,477.6 633.8,475.2 634.4,472.6 634.9,470.0 635.4,467.2 636.0,464.4 636.5,461.3 637.1,458.1 637.6,454.7 638.1,451.2 638.7,447.4 639.2,443.5 639.7,439.3 640.3,434.8 640.8,430.1 641.4,425.1 641.9,419.7 642.4,414.0 643.0,407.9 643.5,401.3 644.1,394.2 644.6,386.5 645.1,378.1 645.7,369.0 646.2,359.0 646.7,347.9 647.3,348.8 647.8,359.0 648.4,368.2 648.9,376.6 649.4,384.3 650.0,391.3 650.5,397.9 651.0,404.0 651.6,409.6 652.1,414.9 652.7,419.8 653.2,424.4 653.7,428.8 654.3,432.9 654.8,436.7 655.4,440.3 655.9,443.8 656.4,447.0 657.0,450.1 657.5,453.0 658.0,455.8 658.6,458.4 659.1,460.9 659.7,463.3 660.2,465.5 660.7,467.7 661.3,469.8 661.8,471.7 662.3,473.6 662.9,475.4 663.4,477.2 664.0,478.8 664.5,480.4 665.0,481.9 665.6,483.4 666.1,484.8 666.6,486.1 667.2,487.4 667.7,488.7 668.3,489.8 668.8,491.0 669.3,492.1 669.9,493.2 670.4,494.2 671.0,495.2 671.5,496.1 672.0,497.0 672.6,497.9 673.1,498.7 673.6,499.5 674.2,500.3 674.7,501.1 675.3,501.8 675.8,502.5 676.3,503.2 676.9,503.9 677.4,504.5 677.9,505.1 678.5,505.7 679.0,506.2 679.6,506.8 680.1,507.3 680.6,507.8 681.2,508.3 681.7,508.8 682.3,509.2 682.8,509.7 683.3,510.1 683.9,510.5 684.4,510.9 684.9,511.2 685.5,511.6 686.0,512.0 686.6,512.3 687.1,512.6 687.6,512.9 688.2,513.2 688.7,513.5 689.2,513.7 689.8,514.0 690.3,514.2 690.9,514.5 691.4,514.7 691.9,514.9 692.5,515.1 693.0,515.3 693.6,515.5 694.1,515.6 694.6,515.8 695.2,515.9 695.7,516.1 696.2,516.2 696.8,516.3 697.3,516.4 697.9,516.5 698.4,516.6 698.9,516.7 699.5,516.7 700.0,516.8 700.5,516.9 701.1,516.9 701.6,516.9 702.2,517.0 702.7,517.0 703.2,517.0 703.8,517.0 704.3,517.0 704.8,516.9 705.4,516.9 705.9,516.9 706.5,516.8 707.0,516.8 707.5,516.7 708.1,516.6 708.6,516.5 709.2,516.4 709.7,516.3 710.2,516.2 710.8,516.1 711.3,516.0 711.8,515.8 712.4,515.7 712.9,515.5 713.5,515.3 714.0,515.2 714.5,515.0 715.1,514.8 715.6,514.5 716.1,514.3 716.7,514.1 717.2,513.8 717.8,513.6 718.3,513.3 718.8,513.0 719.4,512.7 719.9,512.4 720.5,512.1 721.0,511.7 721.5,511.4 722.1,511.0 722.6,510.6 723.1,510.2 723.7,509.8 724.2,509.4 724.8,508.9 725.3,508.5 725.8,508.0 726.4,507.5 726.9,507.0 727.4,506.4 728.0,505.9 728.5,505.3 729.1,504.7 729.6,504.1 730.1,503.4 730.7,502.7 731.2,502.0 731.7,501.3 732.3,500.6 732.8,499.8 733.4,499.0 733.9,498.2 734.4,497.3 735.0,496.4 735.5,495.5 736.1,494.5 736.6,493.5 737.1,492.4 737.7,491.3 738.2,490.2 738.7,489.0 739.3,487.8 739.8,486.5 740.4,485.2 740.9,483.8 741.4,482.4 742.0,480.9 742.5,479.3 743.0,477.7 743.6,476.0 744.1,474.2 744.7,472.4 745.2,470.4 745.7,468.4 746.3,466.2 746.8,464.0 747.4,461.7 747.9,459.2 748.4,456.6 749.0,453.9 749.5,451.0 750.0,448.0 750.6,444.8 751.1,441.4 751.7,437.9 752.2,434.1 752.7,430.1 753.3,425.9 753.8,421.3 754.3,416.5 754.9,411.3 755.4,405.8 756.0,399.9 756.5,393.5 757.0,386.6 757.6,379.1 758.1,370.9 758.6,362.0 759.2,352.1 759.7,344.1 760.3,355.6 760.8,365.9 761.3,375.3 761.9,383.9 762.4,391.8 763.0,399.1 763.5,405.8 764.0,412.1 764.6,418.0 765.1,423.4 765.6,428.6 766.2,433.4 766.7,437.9 767.3,442.2 767.8,446.2 768.3,450.0 768.9,453.6 769.4,457.1 769.9,460.3 770.5,463.4 771.0,466.3 771.6,469.1 772.1,471.8 772.6,474.4 773.2,476.8 773.7,479.1 774.3,481.4 774.8,483.5 775.3,485.5 775.9,487.5 776.4,489.4 776.9,491.2 777.5,492.9 778.0,494.6 778.6,496.2 779.1,497.7 779.6,499.2 780.2,500.6 780.7,502.0 781.2,503.4 781.8,504.6 782.3,505.9 782.9,507.1 783.4,508.2 783.9,509.3 784.5,510.4 785.0,511.5 785.5,512.5 786.1,513.4 786.6,514.4 787.2,515.3 787.7,516.2 788.2,517.0 788.8,517.8 789.3,518.6 789.9,519.4 790.4,520.2 790.9,520.9 791.5,521.6 792.0,522.3 792.5,523.0 793.1,523.6 793.6,524.2 794.2,524.8 794.7,525.4 795.2,526.0 795.8,526.5 796.3,527.1 796.8,527.6 797.4,528.1 797.9,528.6 798.5,529.0 799.0,529.5 799.5,529.9 800.1,530.4 800.6,530.8 801.2,531.2 801.7,531.6 802.2,531.9 802.8,532.3 803.3,532.7 803.8,533.0 804.4,533.3 804.9,533.6 805.5,534.0 806.0,534.3 806.5,534.5 807.1,534.8 807.6,535.1 808.1,535.3 808.7,535.6 809.2,535.8 809.8,536.0 810.3,536.3 810.8,536.5 811.4,536.7 811.9,536.9 812.4,537.0 813.0,537.2 813.5,537.4 814.1,537.5 814.6,537.7 815.1,537.8 815.7,537.9 816.2,538.1 816.8,538.2 817.3,538.3 817.8,538.4 818.4,538.4 818.9,538.5 819.4,538.6 820.0,538.6 820.5,538.7 821.1,538.7 821.6,538.8 822.1,538.8 822.7,538.8 823.2,538.8 823.7,538.8 824.3,538.8 824.8,538.8 825.4,538.8 825.9,538.7 826.4,538.7 827.0,538.6 827.5,538.6 828.1,538.5 828.6,538.4 829.1,538.3 829.7,538.2 830.2,538.1 830.7,538.0 831.3,537.8 831.8,537.7 832.4,537.5 832.9,537.3 833.4,537.2 834.0,537.0 834.5,536.8 835.0,536.5 835.6,536.3 836.1,536.1 836.7,535.8 837.2,535.5 837.7,535.2 838.3,534.9 838.8,534.6 839.4,534.3 839.9,534.0 840.4,533.6 841.0,533.2 841.5,532.8 842.0,532.4 842.6,531.9 843.1,531.5 843.7,531.0 844.2,530.5 844.7,530.0 845.3,529.4 845.8,528.9 846.3,528.3 846.9,527.7 847.4,527.0 848.0,526.4 848.5,525.7 849.0,524.9 849.6,524.2 850.1,523.4 850.6,522.5 851.2,521.7 851.7,520.8 852.3,519.8 852.8,518.8 853.3,517.8 853.9,516.7 854.4,515.6 855.0,514.4 855.5,513.2 856.0,511.9 856.6,510.5 857.1,509.1 857.6,507.6 858.2,506.1 858.7,504.5 859.3,502.8 859.8,501.0 860.3,499.1 860.9,497.1 861.4,495.0 861.9,492.9 862.5,490.6 863.0,488.1 863.6,485.6 864.1,482.9 864.6,480.0 865.2,477.0 865.7,473.7 866.3,470.3 866.8,466.7 867.3,462.9 867.9,458.7 868.4,454.4 868.9,449.7 869.5,444.6 870.0,439.2 870.6,433.4 871.1,427.1 871.6,420.3 872.2,413.0 872.3,410.5" fill="none" stroke="#0000ff" stroke-width="1.9" stroke-linejoin="round" stroke-linecap="butt"/>
<polyline points="534.3,409.5 534.8,415.1 535.4,420.3 535.9,425.2 536.5,429.7 537.0,434.0 537.5,438.0 538.1,441.8 538.6,445.3 539.1,448.7 539.7,451.8 540.2,454.8 540.8,457.7 541.3,460.4 541.8,462.9 542.4,465.3 542.9,467.6 543.4,469.8 544.0,471.9 544.5,473.9 545.1,475.8 545.6,477.6 546.1,479.3 546.7,481.0 547.2,482.5 547.8,484.0 548.3,485.5 548.8,486.9 549.4,488.2 549.9,489.5 550.4,490.7 551.0,491.8 551.5,493.0 552.1,494.0 552.6,495.1 553.1,496.1 553.7,497.0 554.2,497.9 554.7,498.8 555.3,499.7 555.8,500.5 556.4,501.3 556.9,502.0 557.4,502.7 558.0,503.5 558.5,504.1 559.0,504.8 559.6,505.4 560.1,506.0 560.7,506.6 561.2,507.2 561.7,507.7 562.3,508.2 562.8,508.7 563.4,509.2 563.9,509.7 564.4,510.2 565.0,510.6 565.5,511.0 566.0,511.4 566.6,511.8 567.1,512.2 567.7,512.5 568.2,512.9 568.7,513.2 569.3,513.6 569.8,513.9 570.3,514.2 570.9,514.5 571.4,514.7 572.0,515.0 572.5,515.3 573.0,515.5 573.6,515.7 574.1,516.0 574.7,516.2 575.2,516.4 575.7,516.6 576.3,516.8 576.8,517.0 577.3,517.1 577.9,517.3 578.4,517.5 579.0,517.6 579.5,517.7 580.0,517.9 580.6,518.0 581.1,518.1 581.6,518.2 582.2,518.3 582.7,518.4 583.3,518.5 583.8,518.6 584.3,518.6 584.9,518.7 585.4,518.8 585.9,518.8 586.5,518.9 587.0,518.9 587.6,518.9 588.1,519.0 588.6,519.0 589.2,519.0 589.7,519.0 590.3,519.0 590.8,519.0 591.3,519.0 591.9,518.9 592.4,518.9 592.9,518.9 593.5,518.8 594.0,518.8 594.6,518.7 595.1,518.6 595.6,518.6 596.2,518.5 596.7,518.4 597.2,518.3 597.8,518.2 598.3,518.1 598.9,518.0 599.4,517.9 599.9,517.8 600.5,517.6 601.0,517.5 601.6,517.3 602.1,517.2 602.6,517.0 603.2,516.8 603.7,516.6 604.2,516.4 604.8,516.2 605.3,516.0 605.9,515.8 606.4,515.6 606.9,515.3 607.5,515.1 608.0,514.8 608.5,514.6 609.1,514.3 609.6,514.0 610.2,513.7 610.7,513.4 611.2,513.1 611.8,512.7 612.3,512.4 612.8,512.0 613.4,511.7 613.9,511.3 614.5,510.9 615.0,510.5 615.5,510.0 616.1,509.6 616.6,509.1 617.2,508.6 617.7,508.1 618.2,507.6 618.8,507.1 619.3,506.6 619.8,506.0 620.4,505.4 620.9,504.8 621.5,504.2 622.0,503.5 622.5,502.8 623.1,502.1 623.6,501.4 624.1,500.6 624.7,499.9 625.2,499.0 625.8,498.2 626.3,497.3 626.8,496.4 627.4,495.5 627.9,494.5 628.5,493.5 629.0,492.4 629.5,491.3 630.1,490.2 630.6,489.0 631.1,487.7 631.7,486.4 632.2,485.1 632.8,483.7 633.3,482.2 633.8,480.6 634.4,479.0 634.9,477.4 635.4,475.6 636.0,473.8 636.5,471.9 637.1,469.8 637.6,467.7 638.1,465.5 638.7,463.2 639.2,460.7 639.7,458.2 640.3,455.4 640.8,452.6 641.4,449.6 641.9,446.4 642.4,443.0 643.0,439.4 643.5,435.6 644.1,431.6 644.6,427.3 645.1,422.7 645.7,417.8 646.2,412.6 646.7,407.0 647.3,407.7 647.8,413.2 648.4,418.3 648.9,423.1 649.4,427.6 650.0,431.8 650.5,435.8 651.0,439.5 651.6,443.0 652.1,446.3 652.7,449.5 653.2,452.4 653.7,455.2 654.3,457.9 654.8,460.4 655.4,462.8 655.9,465.1 656.4,467.3 657.0,469.4 657.5,471.4 658.0,473.2 658.6,475.0 659.1,476.8 659.7,478.4 660.2,480.0 660.7,481.5 661.3,482.9 661.8,484.3 662.3,485.6 662.9,486.9 663.4,488.1 664.0,489.3 664.5,490.4 665.0,491.5 665.6,492.5 666.1,493.5 666.6,494.5 667.2,495.4 667.7,496.3 668.3,497.1 668.8,498.0 669.3,498.8 669.9,499.5 670.4,500.3 671.0,501.0 671.5,501.7 672.0,502.3 672.6,503.0 673.1,503.6 673.6,504.2 674.2,504.7 674.7,505.3 675.3,505.8 675.8,506.3 676.3,506.8 676.9,507.3 677.4,507.8 677.9,508.2 678.5,508.6 679.0,509.1 679.6,509.5 680.1,509.8 680.6,510.2 681.2,510.6 681.7,510.9 682.3,511.2 682.8,511.6 683.3,511.9 683.9,512.2 684.4,512.5 684.9,512.7 685.5,513.0 686.0,513.3 686.6,513.5 687.1,513.7 687.6,514.0 688.2,514.2 688.7,514.4 689.2,514.6 689.8,514.8 690.3,514.9 690.9,515.1 691.4,515.3 691.9,515.4 692.5,515.6 693.0,515.7 693.6,515.9 694.1,516.0 694.6,516.1 695.2,516.2 695.7,516.3 696.2,516.4 696.8,516.5 697.3,516.6 697.9,516.6 698.4,516.7 698.9,516.8 699.5,516.8 700.0,516.9 700.5,516.9 701.1,516.9 701.6,516.9 702.2,517.0 702.7,517.0 703.2,517.0 703.8,517.0 704.3,517.0 704.8,517.0 705.4,516.9 705.9,516.9 706.5,516.9 707.0,516.8 707.5,516.8 708.1,516.7 708.6,516.7 709.2,516.6 709.7,516.5 710.2,516.4 710.8,516.3 711.3,516.2 711.8,516.1 712.4,516.0 712.9,515.9 713.5,515.8 714.0,515.6 714.5,515.5 715.1,515.3 715.6,515.2 716.1,515.0 716.7,514.8 717.2,514.6 717.8,514.4 718.3,514.2 718.8,514.0 719.4,513.8 719.9,513.6 720.5,513.3 721.0,513.1 721.5,512.8 722.1,512.5 722.6,512.3 723.1,512.0 723.7,511.7 724.2,511.3 724.8,511.0 725.3,510.7 725.8,510.3 726.4,510.0 726.9,509.6 727.4,509.2 728.0,508.8 728.5,508.3 729.1,507.9 729.6,507.4 730.1,507.0 730.7,506.5 731.2,506.0 731.7,505.5 732.3,504.9 732.8,504.3 733.4,503.8 733.9,503.1 734.4,502.5 735.0,501.9 735.5,501.2 736.1,500.5 736.6,499.8 737.1,499.0 737.7,498.2 738.2,497.4 738.7,496.6 739.3,495.7 739.8,494.8 740.4,493.8 740.9,492.8 741.4,491.8 742.0,490.8 742.5,489.6 743.0,488.5 743.6,487.3 744.1,486.0 744.7,484.7 745.2,483.4 745.7,481.9 746.3,480.5 746.8,478.9 747.4,477.3 747.9,475.6 748.4,473.8 749.0,472.0 749.5,470.0 750.0,468.0 750.6,465.8 751.1,463.6 751.7,461.2 752.2,458.7 752.7,456.1 753.3,453.3 753.8,450.4 754.3,447.3 754.9,444.1 755.4,440.6 756.0,437.0 756.5,433.1 757.0,429.0 757.6,424.6 758.1,419.9 758.6,414.8 759.2,409.5 759.7,405.2 760.3,410.9 760.8,416.2 761.3,421.2 761.9,425.9 762.4,430.2 763.0,434.3 763.5,438.2 764.0,441.9 764.6,445.3 765.1,448.6 765.6,451.6 766.2,454.5 766.7,457.3 767.3,459.9 767.8,462.4 768.3,464.8 768.9,467.0 769.4,469.2 769.9,471.2 770.5,473.2 771.0,475.0 771.6,476.8 772.1,478.5 772.6,480.1 773.2,481.7 773.7,483.2 774.3,484.6 774.8,486.0 775.3,487.3 775.9,488.6 776.4,489.8 776.9,490.9 777.5,492.1 778.0,493.1 778.6,494.2 779.1,495.2 779.6,496.1 780.2,497.0 780.7,497.9 781.2,498.8 781.8,499.6 782.3,500.4 782.9,501.2 783.4,501.9 783.9,502.6 784.5,503.3 785.0,504.0 785.5,504.6 786.1,505.2 786.6,505.8 787.2,506.4 787.7,506.9 788.2,507.5 788.8,508.0 789.3,508.5 789.9,509.0 790.4,509.4 790.9,509.9 791.5,510.3 792.0,510.7 792.5,511.1 793.1,511.5 793.6,511.9 794.2,512.3 794.7,512.6 795.2,513.0 795.8,513.3 796.3,513.6 796.8,513.9 797.4,514.2 797.9,514.5 798.5,514.8 799.0,515.0 799.5,515.3 800.1,515.5 800.6,515.7 801.2,516.0 801.7,516.2 802.2,516.4 802.8,516.6 803.3,516.8 803.8,516.9 804.4,517.1 804.9,517.3 805.5,517.4 806.0,517.6 806.5,517.7 807.1,517.8 807.6,518.0 808.1,518.1 808.7,518.2 809.2,518.3 809.8,518.4 810.3,518.5 810.8,518.6 811.4,518.6 811.9,518.7 812.4,518.8 813.0,518.8 813.5,518.8 814.1,518.9 814.6,518.9 815.1,518.9 815.7,519.0 816.2,519.0 816.8,519.0 817.3,519.0 817.8,519.0 818.4,519.0 818.9,518.9 819.4,518.9 820.0,518.9 820.5,518.8 821.1,518.8 821.6,518.7 822.1,518.7 822.7,518.6 823.2,518.5 823.7,518.4 824.3,518.3 824.8,518.2 825.4,518.1 825.9,518.0 826.4,517.9 827.0,517.8 827.5,517.6 828.1,517.5 828.6,517.3 829.1,517.2 829.7,517.0 830.2,516.8 830.7,516.7 831.3,516.5 831.8,516.3 832.4,516.0 832.9,515.8 833.4,515.6 834.0,515.3 834.5,515.1 835.0,514.8 835.6,514.6 836.1,514.3 836.7,514.0 837.2,513.7 837.7,513.3 838.3,513.0 838.8,512.7 839.4,512.3 839.9,511.9 840.4,511.5 841.0,511.1 841.5,510.7 842.0,510.3 842.6,509.8 843.1,509.4 843.7,508.9 844.2,508.4 844.7,507.9 845.3,507.3 845.8,506.8 846.3,506.2 846.9,505.6 847.4,505.0 848.0,504.3 848.5,503.7 849.0,503.0 849.6,502.3 850.1,501.5 850.6,500.7 851.2,499.9 851.7,499.1 852.3,498.2 852.8,497.3 853.3,496.4 853.9,495.4 854.4,494.4 855.0,493.3 855.5,492.2 856.0,491.0 856.6,489.8 857.1,488.6 857.6,487.3 858.2,485.9 858.7,484.5 859.3,483.0 859.8,481.5 860.3,479.8 860.9,478.1 861.4,476.4 861.9,474.5 862.5,472.6 863.0,470.5 863.6,468.3 864.1,466.1 864.6,463.7 865.2,461.2 865.7,458.6 866.3,455.8 866.8,452.8 867.3,449.7 867.9,446.4 868.4,442.9 868.9,439.2 869.5,435.3 870.0,431.1 870.6,426.6 871.1,421.9 871.6,416.8 872.2,411.3 872.3,409.5" fill="none" stroke="#ff00ff" stroke-width="1.9" stroke-linejoin="round" stroke-linecap="butt"/>
<polyline points="534.3,409.0 534.8,413.6 535.4,417.9 535.9,422.0 536.5,425.8 537.0,429.4 537.5,432.8 538.1,436.0 538.6,439.0 539.1,441.9 539.7,444.6 540.2,447.2 540.8,449.7 541.3,452.0 541.8,454.2 542.4,456.4 542.9,458.4 543.4,460.3 544.0,462.1 544.5,463.9 545.1,465.6 545.6,467.2 546.1,468.7 546.7,470.2 547.2,471.6 547.8,473.0 548.3,474.3 548.8,475.5 549.4,476.7 549.9,477.9 550.4,479.0 551.0,480.1 551.5,481.1 552.1,482.1 552.6,483.1 553.1,484.0 553.7,484.9 554.2,485.7 554.7,486.6 555.3,487.4 555.8,488.1 556.4,488.9 556.9,489.6 557.4,490.3 558.0,490.9 558.5,491.6 559.0,492.2 559.6,492.8 560.1,493.4 560.7,494.0 561.2,494.5 561.7,495.1 562.3,495.6 562.8,496.1 563.4,496.6 563.9,497.0 564.4,497.5 565.0,497.9 565.5,498.4 566.0,498.8 566.6,499.2 567.1,499.6 567.7,499.9 568.2,500.3 568.7,500.6 569.3,501.0 569.8,501.3 570.3,501.6 570.9,501.9 571.4,502.2 572.0,502.5 572.5,502.8 573.0,503.1 573.6,503.3 574.1,503.6 574.7,503.8 575.2,504.1 575.7,504.3 576.3,504.5 576.8,504.8 577.3,505.0 577.9,505.2 578.4,505.4 579.0,505.5 579.5,505.7 580.0,505.9 580.6,506.1 581.1,506.2 581.6,506.4 582.2,506.5 582.7,506.7 583.3,506.8 583.8,506.9 584.3,507.0 584.9,507.2 585.4,507.3 585.9,507.4 586.5,507.5 587.0,507.6 587.6,507.6 588.1,507.7 588.6,507.8 589.2,507.9 589.7,507.9 590.3,508.0 590.8,508.0 591.3,508.1 591.9,508.1 592.4,508.2 592.9,508.2 593.5,508.2 594.0,508.2 594.6,508.3 595.1,508.3 595.6,508.3 596.2,508.3 596.7,508.3 597.2,508.3 597.8,508.2 598.3,508.2 598.9,508.2 599.4,508.1 599.9,508.1 600.5,508.1 601.0,508.0 601.6,507.9 602.1,507.9 602.6,507.8 603.2,507.7 603.7,507.6 604.2,507.5 604.8,507.4 605.3,507.3 605.9,507.2 606.4,507.1 606.9,507.0 607.5,506.8 608.0,506.7 608.5,506.6 609.1,506.4 609.6,506.2 610.2,506.1 610.7,505.9 611.2,505.7 611.8,505.5 612.3,505.3 612.8,505.0 613.4,504.8 613.9,504.6 614.5,504.3 615.0,504.1 615.5,503.8 616.1,503.5 616.6,503.2 617.2,502.9 617.7,502.6 618.2,502.2 618.8,501.9 619.3,501.5 619.8,501.2 620.4,500.8 620.9,500.4 621.5,499.9 622.0,499.5 622.5,499.0 623.1,498.6 623.6,498.1 624.1,497.5 624.7,497.0 625.2,496.4 625.8,495.9 626.3,495.3 626.8,494.6 627.4,494.0 627.9,493.3 628.5,492.6 629.0,491.8 629.5,491.1 630.1,490.3 630.6,489.4 631.1,488.5 631.7,487.6 632.2,486.7 632.8,485.7 633.3,484.6 633.8,483.5 634.4,482.4 634.9,481.2 635.4,480.0 636.0,478.7 636.5,477.3 637.1,475.9 637.6,474.4 638.1,472.8 638.7,471.1 639.2,469.4 639.7,467.6 640.3,465.6 640.8,463.6 641.4,461.5 641.9,459.2 642.4,456.8 643.0,454.3 643.5,451.6 644.1,448.8 644.6,445.8 645.1,442.6 645.7,439.2 646.2,435.6 646.7,431.8 647.3,432.4 647.8,436.4 648.4,440.2 648.9,443.8 649.4,447.1 650.0,450.3 650.5,453.3 651.0,456.1 651.6,458.8 652.1,461.3 652.7,463.7 653.2,466.0 653.7,468.2 654.3,470.2 654.8,472.2 655.4,474.1 655.9,475.8 656.4,477.5 657.0,479.2 657.5,480.7 658.0,482.2 658.6,483.6 659.1,484.9 659.7,486.2 660.2,487.5 660.7,488.6 661.3,489.8 661.8,490.9 662.3,491.9 662.9,492.9 663.4,493.9 664.0,494.8 664.5,495.7 665.0,496.6 665.6,497.4 666.1,498.2 666.6,498.9 667.2,499.7 667.7,500.4 668.3,501.1 668.8,501.7 669.3,502.3 669.9,503.0 670.4,503.5 671.0,504.1 671.5,504.7 672.0,505.2 672.6,505.7 673.1,506.2 673.6,506.7 674.2,507.1 674.7,507.6 675.3,508.0 675.8,508.4 676.3,508.8 676.9,509.2 677.4,509.6 677.9,509.9 678.5,510.3 679.0,510.6 679.6,510.9 680.1,511.2 680.6,511.5 681.2,511.8 681.7,512.1 682.3,512.4 682.8,512.6 683.3,512.9 683.9,513.1 684.4,513.3 684.9,513.6 685.5,513.8 686.0,514.0 686.6,514.2 687.1,514.4 687.6,514.5 688.2,514.7 688.7,514.9 689.2,515.0 689.8,515.2 690.3,515.3 690.9,515.5 691.4,515.6 691.9,515.7 692.5,515.9 693.0,516.0 693.6,516.1 694.1,516.2 694.6,516.3 695.2,516.3 695.7,516.4 696.2,516.5 696.8,516.6 697.3,516.6 697.9,516.7 698.4,516.8 698.9,516.8 699.5,516.8 700.0,516.9 700.5,516.9 701.1,516.9 701.6,517.0 702.2,517.0 702.7,517.0 703.2,517.0 703.8,517.0 704.3,517.0 704.8,517.0 705.4,516.9 705.9,516.9 706.5,516.9 707.0,516.9 707.5,516.8 708.1,516.8 708.6,516.7 709.2,516.7 709.7,516.6 710.2,516.5 710.8,516.5 711.3,516.4 711.8,516.3 712.4,516.2 712.9,516.1 713.5,516.0 714.0,515.9 714.5,515.8 715.1,515.6 715.6,515.5 716.1,515.4 716.7,515.2 717.2,515.1 717.8,514.9 718.3,514.8 718.8,514.6 719.4,514.4 719.9,514.2 720.5,514.0 721.0,513.8 721.5,513.6 722.1,513.4 722.6,513.2 723.1,512.9 723.7,512.7 724.2,512.4 724.8,512.2 725.3,511.9 725.8,511.6 726.4,511.3 726.9,511.0 727.4,510.7 728.0,510.4 728.5,510.0 729.1,509.7 729.6,509.3 730.1,508.9 730.7,508.5 731.2,508.1 731.7,507.7 732.3,507.3 732.8,506.8 733.4,506.3 733.9,505.9 734.4,505.4 735.0,504.8 735.5,504.3 736.1,503.7 736.6,503.1 737.1,502.5 737.7,501.9 738.2,501.3 738.7,500.6 739.3,499.9 739.8,499.2 740.4,498.4 740.9,497.6 741.4,496.8 742.0,496.0 742.5,495.1 743.0,494.2 743.6,493.2 744.1,492.2 744.7,491.2 745.2,490.1 745.7,489.0 746.3,487.8 746.8,486.6 747.4,485.3 747.9,484.0 748.4,482.6 749.0,481.2 749.5,479.7 750.0,478.1 750.6,476.4 751.1,474.6 751.7,472.8 752.2,470.9 752.7,468.9 753.3,466.7 753.8,464.5 754.3,462.1 754.9,459.6 755.4,457.0 756.0,454.2 756.5,451.3 757.0,448.2 757.6,444.9 758.1,441.4 758.6,437.6 759.2,433.7 759.7,430.5 760.3,434.4 760.8,438.1 761.3,441.6 761.9,444.8 762.4,447.9 763.0,450.7 763.5,453.5 764.0,456.0 764.6,458.5 765.1,460.8 765.6,462.9 766.2,465.0 766.7,467.0 767.3,468.8 767.8,470.6 768.3,472.3 768.9,473.9 769.4,475.4 769.9,476.9 770.5,478.2 771.0,479.6 771.6,480.8 772.1,482.0 772.6,483.2 773.2,484.3 773.7,485.3 774.3,486.4 774.8,487.3 775.3,488.3 775.9,489.1 776.4,490.0 776.9,490.8 777.5,491.6 778.0,492.3 778.6,493.1 779.1,493.8 779.6,494.4 780.2,495.1 780.7,495.7 781.2,496.3 781.8,496.8 782.3,497.4 782.9,497.9 783.4,498.4 783.9,498.9 784.5,499.3 785.0,499.8 785.5,500.2 786.1,500.6 786.6,501.0 787.2,501.4 787.7,501.8 788.2,502.1 788.8,502.5 789.3,502.8 789.9,503.1 790.4,503.4 790.9,503.7 791.5,504.0 792.0,504.2 792.5,504.5 793.1,504.7 793.6,505.0 794.2,505.2 794.7,505.4 795.2,505.6 795.8,505.8 796.3,506.0 796.8,506.2 797.4,506.3 797.9,506.5 798.5,506.7 799.0,506.8 799.5,506.9 800.1,507.1 800.6,507.2 801.2,507.3 801.7,507.4 802.2,507.5 802.8,507.6 803.3,507.7 803.8,507.8 804.4,507.9 804.9,507.9 805.5,508.0 806.0,508.0 806.5,508.1 807.1,508.1 807.6,508.2 808.1,508.2 808.7,508.2 809.2,508.2 809.8,508.3 810.3,508.3 810.8,508.3 811.4,508.3 811.9,508.3 812.4,508.3 813.0,508.2 813.5,508.2 814.1,508.2 814.6,508.1 815.1,508.1 815.7,508.1 816.2,508.0 816.8,508.0 817.3,507.9 817.8,507.8 818.4,507.7 818.9,507.7 819.4,507.6 820.0,507.5 820.5,507.4 821.1,507.3 821.6,507.2 822.1,507.1 822.7,507.0 823.2,506.8 823.7,506.7 824.3,506.6 824.8,506.4 825.4,506.3 825.9,506.1 826.4,505.9 827.0,505.8 827.5,505.6 828.1,505.4 828.6,505.2 829.1,505.0 829.7,504.8 830.2,504.6 830.7,504.4 831.3,504.2 831.8,503.9 832.4,503.7 832.9,503.4 833.4,503.2 834.0,502.9 834.5,502.6 835.0,502.3 835.6,502.0 836.1,501.7 836.7,501.4 837.2,501.1 837.7,500.8 838.3,500.4 838.8,500.0 839.4,499.7 839.9,499.3 840.4,498.9 841.0,498.5 841.5,498.1 842.0,497.6 842.6,497.2 843.1,496.7 843.7,496.2 844.2,495.7 844.7,495.2 845.3,494.7 845.8,494.2 846.3,493.6 846.9,493.0 847.4,492.4 848.0,491.8 848.5,491.2 849.0,490.5 849.6,489.8 850.1,489.1 850.6,488.4 851.2,487.6 851.7,486.8 852.3,486.0 852.8,485.1 853.3,484.3 853.9,483.4 854.4,482.4 855.0,481.4 855.5,480.4 856.0,479.4 856.6,478.3 857.1,477.1 857.6,475.9 858.2,474.7 858.7,473.4 859.3,472.1 859.8,470.7 860.3,469.2 860.9,467.7 861.4,466.1 861.9,464.4 862.5,462.7 863.0,460.9 863.6,459.0 864.1,457.0 864.6,454.9 865.2,452.7 865.7,450.4 866.3,448.0 866.8,445.5 867.3,442.8 867.9,440.0 868.4,437.0 868.9,433.8 869.5,430.5 870.0,427.0 870.6,423.2 871.1,419.3 871.6,415.0 872.2,410.5 872.3,409.0" fill="none" stroke="#008000" stroke-width="1.9" stroke-linejoin="round" stroke-linecap="butt"/>
<line x1="66.40" y1="173.60" x2="447.00" y2="173.60" stroke="#000" stroke-width="2.1"/>
<line x1="72.06" y1="173.60" x2="72.06" y2="178.80" stroke="#000" stroke-width="1.4"/>
<line x1="100.23" y1="173.60" x2="100.23" y2="176.80" stroke="#000" stroke-width="1.4"/>
<line x1="128.40" y1="173.60" x2="128.40" y2="178.80" stroke="#000" stroke-width="1.4"/>
<line x1="156.57" y1="173.60" x2="156.57" y2="176.80" stroke="#000" stroke-width="1.4"/>
<line x1="184.74" y1="173.60" x2="184.74" y2="178.80" stroke="#000" stroke-width="1.4"/>
<line x1="212.91" y1="173.60" x2="212.91" y2="176.80" stroke="#000" stroke-width="1.4"/>
<line x1="241.08" y1="173.60" x2="241.08" y2="178.80" stroke="#000" stroke-width="1.4"/>
<line x1="269.25" y1="173.60" x2="269.25" y2="176.80" stroke="#000" stroke-width="1.4"/>
<line x1="297.42" y1="173.60" x2="297.42" y2="178.80" stroke="#000" stroke-width="1.4"/>
<line x1="325.59" y1="173.60" x2="325.59" y2="176.80" stroke="#000" stroke-width="1.4"/>
<line x1="353.76" y1="173.60" x2="353.76" y2="178.80" stroke="#000" stroke-width="1.4"/>
<line x1="381.93" y1="173.60" x2="381.93" y2="176.80" stroke="#000" stroke-width="1.4"/>
<line x1="410.10" y1="173.60" x2="410.10" y2="178.80" stroke="#000" stroke-width="1.4"/>
<line x1="438.27" y1="173.60" x2="438.27" y2="176.80" stroke="#000" stroke-width="1.4"/>
<text x="72.06" y="191.60" font-size="12" font-family="'Liberation Sans', sans-serif" text-anchor="middle" >0</text>
<text x="128.40" y="191.60" font-size="12" font-family="'Liberation Sans', sans-serif" text-anchor="middle" >60</text>
<text x="184.74" y="191.60" font-size="12" font-family="'Liberation Sans', sans-serif" text-anchor="middle" >120</text>
<text x="241.08" y="191.60" font-size="12" font-family="'Liberation Sans', sans-serif" text-anchor="middle" >180</text>
<text x="297.42" y="191.60" font-size="12" font-family="'Liberation Sans', sans-serif" text-anchor="middle" >240</text>
<text x="353.76" y="191.60" font-size="12" font-family="'Liberation Sans', sans-serif" text-anchor="middle" >300</text>
<text x="410.10" y="191.60" font-size="12" font-family="'Liberation Sans', sans-serif" text-anchor="middle" >360</text>
<line x1="72.40" y1="21.88" x2="72.40" y2="299.20" stroke="#000" stroke-width="2"/>
<line x1="66.40" y1="298.70" x2="72.40" y2="298.70" stroke="#000" stroke-width="1.2"/>
<text x="62.90" y="302.02" font-size="12" font-family="'Liberation Sans', sans-serif" text-anchor="end" >-5</text>
<line x1="69.40" y1="286.14" x2="72.40" y2="286.14" stroke="#000" stroke-width="1.2"/>
<line x1="66.40" y1="273.58" x2="72.40" y2="273.58" stroke="#000" stroke-width="1.2"/>
<text x="62.90" y="276.90" font-size="12" font-family="'Liberation Sans', sans-serif" text-anchor="end" >-4</text>
<line x1="69.40" y1="261.02" x2="72.40" y2="261.02" stroke="#000" stroke-width="1.2"/>
<line x1="66.40" y1="248.46" x2="72.40" y2="248.46" stroke="#000" stroke-width="1.2"/>
<text x="62.90" y="251.78" font-size="12" font-family="'Liberation Sans', sans-serif" text-anchor="end" >-3</text>
<line x1="69.40" y1="235.90" x2="72.40" y2="235.90" stroke="#000" stroke-width="1.2"/>
<line x1="66.40" y1="223.34" x2="72.40" y2="223.34" stroke="#000" stroke-width="1.2"/>
<text x="62.90" y="226.66" font-size="12" font-family="'Liberation Sans', sans-serif" text-anchor="end" >-2</text>
<line x1="69.40" y1="210.78" x2="72.40" y2="210.78" stroke="#000" stroke-width="1.2"/>
<line x1="66.40" y1="198.22" x2="72.40" y2="198.22" stroke="#000" stroke-width="1.2"/>
<text x="62.90" y="201.54" font-size="12" font-family="'Liberation Sans', sans-serif" text-anchor="end" >-1</text>
<line x1="69.40" y1="185.66" x2="72.40" y2="185.66" stroke="#000" stroke-width="1.2"/>
<line x1="66.40" y1="173.10" x2="72.40" y2="173.10" stroke="#000" stroke-width="1.2"/>
<text x="62.90" y="176.42" font-size="12" font-family="'Liberation Sans', sans-serif" text-anchor="end" >0</text>
<line x1="69.40" y1="160.54" x2="72.40" y2="160.54" stroke="#000" stroke-width="1.2"/>
<line x1="66.40" y1="147.98" x2="72.40" y2="147.98" stroke="#000" stroke-width="1.2"/>
<text x="62.90" y="151.30" font-size="12" font-family="'Liberation Sans', sans-serif" text-anchor="end" >1</text>
<line x1="69.40" y1="135.42" x2="72.40" y2="135.42" stroke="#000" stroke-width="1.2"/>
<line x1="66.40" y1="122.86" x2="72.40" y2="122.86" stroke="#000" stroke-width="1.2"/>
<text x="62.90" y="126.18" font-size="12" font-family="'Liberation Sans', sans-serif" text-anchor="end" >2</text>
<line x1="69.40" y1="110.30" x2="72.40" y2="110.30" stroke="#000" stroke-width="1.2"/>
<line x1="66.40" y1="97.74" x2="72.40" y2="97.74" stroke="#000" stroke-width="1.2"/>
<text x="62.90" y="101.06" font-size="12" font-family="'Liberation Sans', sans-serif" text-anchor="end" >3</text>
<line x1="69.40" y1="85.18" x2="72.40" y2="85.18" stroke="#000" stroke-width="1.2"/>
<line x1="66.40" y1="72.62" x2="72.40" y2="72.62" stroke="#000" stroke-width="1.2"/>
<text x="62.90" y="75.94" font-size="12" font-family="'Liberation Sans', sans-serif" text-anchor="end" >4</text>
<line x1="69.40" y1="60.06" x2="72.40" y2="60.06" stroke="#000" stroke-width="1.2"/>
<line x1="66.40" y1="47.50" x2="72.40" y2="47.50" stroke="#000" stroke-width="1.2"/>
<text x="62.90" y="50.82" font-size="12" font-family="'Liberation Sans', sans-serif" text-anchor="end" >5</text>
<line x1="69.40" y1="34.94" x2="72.40" y2="34.94" stroke="#000" stroke-width="1.2"/>
<line x1="66.40" y1="22.38" x2="72.40" y2="22.38" stroke="#000" stroke-width="1.2"/>
<text x="62.90" y="25.70" font-size="12" font-family="'Liberation Sans', sans-serif" text-anchor="end" >6</text>
<line x1="67.10" y1="492.30" x2="448.00" y2="492.30" stroke="#000" stroke-width="2.1"/>
<line x1="73.03" y1="492.30" x2="73.03" y2="497.50" stroke="#000" stroke-width="1.4"/>
<line x1="101.20" y1="492.30" x2="101.20" y2="495.50" stroke="#000" stroke-width="1.4"/>
<line x1="129.37" y1="492.30" x2="129.37" y2="497.50" stroke="#000" stroke-width="1.4"/>
<line x1="157.54" y1="492.30" x2="157.54" y2="495.50" stroke="#000" stroke-width="1.4"/>
<line x1="185.71" y1="492.30" x2="185.71" y2="497.50" stroke="#000" stroke-width="1.4"/>
<line x1="213.88" y1="492.30" x2="213.88" y2="495.50" stroke="#000" stroke-width="1.4"/>
<line x1="242.05" y1="492.30" x2="242.05" y2="497.50" stroke="#000" stroke-width="1.4"/>
<line x1="270.22" y1="492.30" x2="270.22" y2="495.50" stroke="#000" stroke-width="1.4"/>
<line x1="298.39" y1="492.30" x2="298.39" y2="497.50" stroke="#000" stroke-width="1.4"/>
<line x1="326.56" y1="492.30" x2="326.56" y2="495.50" stroke="#000" stroke-width="1.4"/>
<line x1="354.73" y1="492.30" x2="354.73" y2="497.50" stroke="#000" stroke-width="1.4"/>
<line x1="382.90" y1="492.30" x2="382.90" y2="495.50" stroke="#000" stroke-width="1.4"/>
<line x1="411.07" y1="492.30" x2="411.07" y2="497.50" stroke="#000" stroke-width="1.4"/>
<line x1="439.24" y1="492.30" x2="439.24" y2="495.50" stroke="#000" stroke-width="1.4"/>
<text x="73.03" y="511.60" font-size="12" font-family="'Liberation Sans', sans-serif" text-anchor="middle" >0</text>
<text x="129.37" y="511.60" font-size="12" font-family="'Liberation Sans', sans-serif" text-anchor="middle" >60</text>
<text x="185.71" y="511.60" font-size="12" font-family="'Liberation Sans', sans-serif" text-anchor="middle" >120</text>
<text x="242.05" y="511.60" font-size="12" font-family="'Liberation Sans', sans-serif" text-anchor="middle" >180</text>
<text x="298.39" y="511.60" font-size="12" font-family="'Liberation Sans', sans-serif" text-anchor="middle" >240</text>
<text x="354.73" y="511.60" font-size="12" font-family="'Liberation Sans', sans-serif" text-anchor="middle" >300</text>
<text x="411.07" y="511.60" font-size="12" font-family="'Liberation Sans', sans-serif" text-anchor="middle" >360</text>
<line x1="73.10" y1="330.30" x2="73.10" y2="607.30" stroke="#000" stroke-width="2"/>
<line x1="67.10" y1="606.80" x2="73.10" y2="606.80" stroke="#000" stroke-width="1.2"/>
<text x="63.60" y="610.12" font-size="12" font-family="'Liberation Sans', sans-serif" text-anchor="end" >-5</text>
<line x1="70.10" y1="595.30" x2="73.10" y2="595.30" stroke="#000" stroke-width="1.2"/>
<line x1="67.10" y1="583.80" x2="73.10" y2="583.80" stroke="#000" stroke-width="1.2"/>
<text x="63.60" y="587.12" font-size="12" font-family="'Liberation Sans', sans-serif" text-anchor="end" >-4</text>
<line x1="70.10" y1="572.30" x2="73.10" y2="572.30" stroke="#000" stroke-width="1.2"/>
<line x1="67.10" y1="560.80" x2="73.10" y2="560.80" stroke="#000" stroke-width="1.2"/>
<text x="63.60" y="564.12" font-size="12" font-family="'Liberation Sans', sans-serif" text-anchor="end" >-3</text>
<line x1="70.10" y1="549.30" x2="73.10" y2="549.30" stroke="#000" stroke-width="1.2"/>
<line x1="67.10" y1="537.80" x2="73.10" y2="537.80" stroke="#000" stroke-width="1.2"/>
<text x="63.60" y="541.12" font-size="12" font-family="'Liberation Sans', sans-serif" text-anchor="end" >-2</text>
<line x1="70.10" y1="526.30" x2="73.10" y2="526.30" stroke="#000" stroke-width="1.2"/>
<line x1="67.10" y1="514.80" x2="73.10" y2="514.80" stroke="#000" stroke-width="1.2"/>
<text x="63.60" y="518.12" font-size="12" font-family="'Liberation Sans', sans-serif" text-anchor="end" >-1</text>
<line x1="70.10" y1="503.30" x2="73.10" y2="503.30" stroke="#000" stroke-width="1.2"/>
<line x1="67.10" y1="491.80" x2="73.10" y2="491.80" stroke="#000" stroke-width="1.2"/>
<text x="63.60" y="495.12" font-size="12" font-family="'Liberation Sans', sans-serif" text-anchor="end" >0</text>
<line x1="70.10" y1="480.30" x2="73.10" y2="480.30" stroke="#000" stroke-width="1.2"/>
<line x1="67.10" y1="468.80" x2="73.10" y2="468.80" stroke="#000" stroke-width="1.2"/>
<text x="63.60" y="472.12" font-size="12" font-family="'Liberation Sans', sans-serif" text-anchor="end" >1</text>
<line x1="70.10" y1="457.30" x2="73.10" y2="457.30" stroke="#000" stroke-width="1.2"/>
<line x1="67.10" y1="445.80" x2="73.10" y2="445.80" stroke="#000" stroke-width="1.2"/>
<text x="63.60" y="449.12" font-size="12" font-family="'Liberation Sans', sans-serif" text-anchor="end" >2</text>
<line x1="70.10" y1="434.30" x2="73.10" y2="434.30" stroke="#000" stroke-width="1.2"/>
<line x1="67.10" y1="422.80" x2="73.10" y2="422.80" stroke="#000" stroke-width="1.2"/>
<text x="63.60" y="426.12" font-size="12" font-family="'Liberation Sans', sans-serif" text-anchor="end" >3</text>
<line x1="70.10" y1="411.30" x2="73.10" y2="411.30" stroke="#000" stroke-width="1.2"/>
<line x1="67.10" y1="399.80" x2="73.10" y2="399.80" stroke="#000" stroke-width="1.2"/>
<text x="63.60" y="403.12" font-size="12" font-family="'Liberation Sans', sans-serif" text-anchor="end" >4</text>
<line x1="70.10" y1="388.30" x2="73.10" y2="388.30" stroke="#000" stroke-width="1.2"/>
<line x1="67.10" y1="376.80" x2="73.10" y2="376.80" stroke="#000" stroke-width="1.2"/>
<text x="63.60" y="380.12" font-size="12" font-family="'Liberation Sans', sans-serif" text-anchor="end" >5</text>
<line x1="70.10" y1="365.30" x2="73.10" y2="365.30" stroke="#000" stroke-width="1.2"/>
<line x1="67.10" y1="353.80" x2="73.10" y2="353.80" stroke="#000" stroke-width="1.2"/>
<text x="63.60" y="357.12" font-size="12" font-family="'Liberation Sans', sans-serif" text-anchor="end" >6</text>
<line x1="70.10" y1="342.30" x2="73.10" y2="342.30" stroke="#000" stroke-width="1.2"/>
<line x1="67.10" y1="330.80" x2="73.10" y2="330.80" stroke="#000" stroke-width="1.2"/>
<text x="63.60" y="334.12" font-size="12" font-family="'Liberation Sans', sans-serif" text-anchor="end" >7</text>
<line x1="531.10" y1="181.50" x2="911.70" y2="181.50" stroke="#000" stroke-width="2.1"/>
<line x1="536.10" y1="181.50" x2="536.10" y2="186.70" stroke="#000" stroke-width="1.4"/>
<line x1="564.29" y1="181.50" x2="564.29" y2="184.70" stroke="#000" stroke-width="1.4"/>
<line x1="592.48" y1="181.50" x2="592.48" y2="186.70" stroke="#000" stroke-width="1.4"/>
<line x1="620.66" y1="181.50" x2="620.66" y2="184.70" stroke="#000" stroke-width="1.4"/>
<line x1="648.85" y1="181.50" x2="648.85" y2="186.70" stroke="#000" stroke-width="1.4"/>
<line x1="677.04" y1="181.50" x2="677.04" y2="184.70" stroke="#000" stroke-width="1.4"/>
<line x1="705.23" y1="181.50" x2="705.23" y2="186.70" stroke="#000" stroke-width="1.4"/>
<line x1="733.42" y1="181.50" x2="733.42" y2="184.70" stroke="#000" stroke-width="1.4"/>
<line x1="761.60" y1="181.50" x2="761.60" y2="186.70" stroke="#000" stroke-width="1.4"/>
<line x1="789.79" y1="181.50" x2="789.79" y2="184.70" stroke="#000" stroke-width="1.4"/>
<line x1="817.98" y1="181.50" x2="817.98" y2="186.70" stroke="#000" stroke-width="1.4"/>
<line x1="846.17" y1="181.50" x2="846.17" y2="184.70" stroke="#000" stroke-width="1.4"/>
<line x1="874.36" y1="181.50" x2="874.36" y2="186.70" stroke="#000" stroke-width="1.4"/>
<line x1="902.54" y1="181.50" x2="902.54" y2="184.70" stroke="#000" stroke-width="1.4"/>
<text x="536.10" y="199.50" font-size="12" font-family="'Liberation Sans', sans-serif" text-anchor="middle" >0</text>
<text x="592.48" y="199.50" font-size="12" font-family="'Liberation Sans', sans-serif" text-anchor="middle" >60</text>
<text x="648.85" y="199.50" font-size="12" font-family="'Liberation Sans', sans-serif" text-anchor="middle" >120</text>
<text x="705.23" y="199.50" font-size="12" font-family="'Liberation Sans', sans-serif" text-anchor="middle" >180</text>
<text x="761.60" y="199.50" font-size="12" font-family="'Liberation Sans', sans-serif" text-anchor="middle" >240</text>
<text x="817.98" y="199.50" font-size="12" font-family="'Liberation Sans', sans-serif" text-anchor="middle" >300</text>
<text x="874.36" y="199.50" font-size="12" font-family="'Liberation Sans', sans-serif" text-anchor="middle" >360</text>
<line x1="537.10" y1="11.87" x2="537.10" y2="288.81" stroke="#000" stroke-width="2"/>
<line x1="534.10" y1="288.31" x2="537.10" y2="288.31" stroke="#000" stroke-width="1.2"/>
<line x1="531.10" y1="272.98" x2="537.10" y2="272.98" stroke="#000" stroke-width="1.2"/>
<text x="527.60" y="276.30" font-size="12" font-family="'Liberation Sans', sans-serif" text-anchor="end" >-6</text>
<line x1="534.10" y1="257.65" x2="537.10" y2="257.65" stroke="#000" stroke-width="1.2"/>
<line x1="531.10" y1="242.32" x2="537.10" y2="242.32" stroke="#000" stroke-width="1.2"/>
<text x="527.60" y="245.64" font-size="12" font-family="'Liberation Sans', sans-serif" text-anchor="end" >-4</text>
<line x1="534.10" y1="226.99" x2="537.10" y2="226.99" stroke="#000" stroke-width="1.2"/>
<line x1="531.10" y1="211.66" x2="537.10" y2="211.66" stroke="#000" stroke-width="1.2"/>
<text x="527.60" y="214.98" font-size="12" font-family="'Liberation Sans', sans-serif" text-anchor="end" >-2</text>
<line x1="534.10" y1="196.33" x2="537.10" y2="196.33" stroke="#000" stroke-width="1.2"/>
<line x1="531.10" y1="181.00" x2="537.10" y2="181.00" stroke="#000" stroke-width="1.2"/>
<text x="527.60" y="184.32" font-size="12" font-family="'Liberation Sans', sans-serif" text-anchor="end" >0</text>
<line x1="534.10" y1="165.67" x2="537.10" y2="165.67" stroke="#000" stroke-width="1.2"/>
<line x1="531.10" y1="150.34" x2="537.10" y2="150.34" stroke="#000" stroke-width="1.2"/>
<text x="527.60" y="153.66" font-size="12" font-family="'Liberation Sans', sans-serif" text-anchor="end" >2</text>
<line x1="534.10" y1="135.01" x2="537.10" y2="135.01" stroke="#000" stroke-width="1.2"/>
<line x1="531.10" y1="119.68" x2="537.10" y2="119.68" stroke="#000" stroke-width="1.2"/>
<text x="527.60" y="123.00" font-size="12" font-family="'Liberation Sans', sans-serif" text-anchor="end" >4</text>
<line x1="534.10" y1="104.35" x2="537.10" y2="104.35" stroke="#000" stroke-width="1.2"/>
<line x1="531.10" y1="89.02" x2="537.10" y2="89.02" stroke="#000" stroke-width="1.2"/>
<text x="527.60" y="92.34" font-size="12" font-family="'Liberation Sans', sans-serif" text-anchor="end" >6</text>
<line x1="534.10" y1="73.69" x2="537.10" y2="73.69" stroke="#000" stroke-width="1.2"/>
<line x1="531.10" y1="58.36" x2="537.10" y2="58.36" stroke="#000" stroke-width="1.2"/>
<text x="527.60" y="61.68" font-size="12" font-family="'Liberation Sans', sans-serif" text-anchor="end" >8</text>
<line x1="534.10" y1="43.03" x2="537.10" y2="43.03" stroke="#000" stroke-width="1.2"/>
<line x1="531.10" y1="27.70" x2="537.10" y2="27.70" stroke="#000" stroke-width="1.2"/>
<text x="527.60" y="31.02" font-size="12" font-family="'Liberation Sans', sans-serif" text-anchor="end" >10</text>
<line x1="534.10" y1="12.37" x2="537.10" y2="12.37" stroke="#000" stroke-width="1.2"/>
<line x1="528.90" y1="484.50" x2="909.00" y2="484.50" stroke="#000" stroke-width="2.1"/>
<line x1="534.30" y1="484.50" x2="534.30" y2="489.70" stroke="#000" stroke-width="1.4"/>
<line x1="562.47" y1="484.50" x2="562.47" y2="487.70" stroke="#000" stroke-width="1.4"/>
<line x1="590.64" y1="484.50" x2="590.64" y2="489.70" stroke="#000" stroke-width="1.4"/>
<line x1="618.81" y1="484.50" x2="618.81" y2="487.70" stroke="#000" stroke-width="1.4"/>
<line x1="646.98" y1="484.50" x2="646.98" y2="489.70" stroke="#000" stroke-width="1.4"/>
<line x1="675.15" y1="484.50" x2="675.15" y2="487.70" stroke="#000" stroke-width="1.4"/>
<line x1="703.32" y1="484.50" x2="703.32" y2="489.70" stroke="#000" stroke-width="1.4"/>
<line x1="731.49" y1="484.50" x2="731.49" y2="487.70" stroke="#000" stroke-width="1.4"/>
<line x1="759.66" y1="484.50" x2="759.66" y2="489.70" stroke="#000" stroke-width="1.4"/>
<line x1="787.83" y1="484.50" x2="787.83" y2="487.70" stroke="#000" stroke-width="1.4"/>
<line x1="816.00" y1="484.50" x2="816.00" y2="489.70" stroke="#000" stroke-width="1.4"/>
<line x1="844.17" y1="484.50" x2="844.17" y2="487.70" stroke="#000" stroke-width="1.4"/>
<line x1="872.34" y1="484.50" x2="872.34" y2="489.70" stroke="#000" stroke-width="1.4"/>
<line x1="900.51" y1="484.50" x2="900.51" y2="487.70" stroke="#000" stroke-width="1.4"/>
<text x="534.30" y="503.90" font-size="12" font-family="'Liberation Sans', sans-serif" text-anchor="middle" >0</text>
<text x="590.64" y="503.90" font-size="12" font-family="'Liberation Sans', sans-serif" text-anchor="middle" >60</text>
<text x="646.98" y="503.90" font-size="12" font-family="'Liberation Sans', sans-serif" text-anchor="middle" >120</text>
<text x="703.32" y="503.90" font-size="12" font-family="'Liberation Sans', sans-serif" text-anchor="middle" >180</text>
<text x="759.66" y="503.90" font-size="12" font-family="'Liberation Sans', sans-serif" text-anchor="middle" >240</text>
<text x="816.00" y="503.90" font-size="12" font-family="'Liberation Sans', sans-serif" text-anchor="middle" >300</text>
<text x="872.34" y="503.90" font-size="12" font-family="'Liberation Sans', sans-serif" text-anchor="middle" >360</text>
<line x1="534.90" y1="317.45" x2="534.90" y2="595.20" stroke="#000" stroke-width="2"/>
<line x1="528.90" y1="594.70" x2="534.90" y2="594.70" stroke="#000" stroke-width="1.2"/>
<text x="525.40" y="598.02" font-size="12" font-family="'Liberation Sans', sans-serif" text-anchor="end" >-10</text>
<line x1="531.90" y1="583.63" x2="534.90" y2="583.63" stroke="#000" stroke-width="1.2"/>
<line x1="528.90" y1="572.56" x2="534.90" y2="572.56" stroke="#000" stroke-width="1.2"/>
<text x="525.40" y="575.88" font-size="12" font-family="'Liberation Sans', sans-serif" text-anchor="end" >-8</text>
<line x1="531.90" y1="561.49" x2="534.90" y2="561.49" stroke="#000" stroke-width="1.2"/>
<line x1="528.90" y1="550.42" x2="534.90" y2="550.42" stroke="#000" stroke-width="1.2"/>
<text x="525.40" y="553.74" font-size="12" font-family="'Liberation Sans', sans-serif" text-anchor="end" >-6</text>
<line x1="531.90" y1="539.35" x2="534.90" y2="539.35" stroke="#000" stroke-width="1.2"/>
<line x1="528.90" y1="528.28" x2="534.90" y2="528.28" stroke="#000" stroke-width="1.2"/>
<text x="525.40" y="531.60" font-size="12" font-family="'Liberation Sans', sans-serif" text-anchor="end" >-4</text>
<line x1="531.90" y1="517.21" x2="534.90" y2="517.21" stroke="#000" stroke-width="1.2"/>
<line x1="528.90" y1="506.14" x2="534.90" y2="506.14" stroke="#000" stroke-width="1.2"/>
<text x="525.40" y="509.46" font-size="12" font-family="'Liberation Sans', sans-serif" text-anchor="end" >-2</text>
<line x1="531.90" y1="495.07" x2="534.90" y2="495.07" stroke="#000" stroke-width="1.2"/>
<line x1="528.90" y1="484.00" x2="534.90" y2="484.00" stroke="#000" stroke-width="1.2"/>
<text x="525.40" y="487.32" font-size="12" font-family="'Liberation Sans', sans-serif" text-anchor="end" >0</text>
<line x1="531.90" y1="472.93" x2="534.90" y2="472.93" stroke="#000" stroke-width="1.2"/>
<line x1="528.90" y1="461.86" x2="534.90" y2="461.86" stroke="#000" stroke-width="1.2"/>
<text x="525.40" y="465.18" font-size="12" font-family="'Liberation Sans', sans-serif" text-anchor="end" >2</text>
<line x1="531.90" y1="450.79" x2="534.90" y2="450.79" stroke="#000" stroke-width="1.2"/>
<line x1="528.90" y1="439.72" x2="534.90" y2="439.72" stroke="#000" stroke-width="1.2"/>
<text x="525.40" y="443.04" font-size="12" font-family="'Liberation Sans', sans-serif" text-anchor="end" >4</text>
<line x1="531.90" y1="428.65" x2="534.90" y2="428.65" stroke="#000" stroke-width="1.2"/>
<line x1="528.90" y1="417.58" x2="534.90" y2="417.58" stroke="#000" stroke-width="1.2"/>
<text x="525.40" y="420.90" font-size="12" font-family="'Liberation Sans', sans-serif" text-anchor="end" >6</text>
<line x1="531.90" y1="406.51" x2="534.90" y2="406.51" stroke="#000" stroke-width="1.2"/>
<line x1="528.90" y1="395.44" x2="534.90" y2="395.44" stroke="#000" stroke-width="1.2"/>
<text x="525.40" y="398.76" font-size="12" font-family="'Liberation Sans', sans-serif" text-anchor="end" >8</text>
<line x1="531.90" y1="384.37" x2="534.90" y2="384.37" stroke="#000" stroke-width="1.2"/>
<line x1="528.90" y1="373.30" x2="534.90" y2="373.30" stroke="#000" stroke-width="1.2"/>
<text x="525.40" y="376.62" font-size="12" font-family="'Liberation Sans', sans-serif" text-anchor="end" >10</text>
<line x1="531.90" y1="362.23" x2="534.90" y2="362.23" stroke="#000" stroke-width="1.2"/>
<line x1="528.90" y1="351.16" x2="534.90" y2="351.16" stroke="#000" stroke-width="1.2"/>
<text x="525.40" y="354.48" font-size="12" font-family="'Liberation Sans', sans-serif" text-anchor="end" >12</text>
<line x1="531.90" y1="340.09" x2="534.90" y2="340.09" stroke="#000" stroke-width="1.2"/>
<line x1="528.90" y1="329.02" x2="534.90" y2="329.02" stroke="#000" stroke-width="1.2"/>
<text x="525.40" y="332.34" font-size="12" font-family="'Liberation Sans', sans-serif" text-anchor="end" >14</text>
<line x1="531.90" y1="317.95" x2="534.90" y2="317.95" stroke="#000" stroke-width="1.2"/>
<text x="7.84" y="31.70" font-size="35.5" font-family="'Liberation Serif', serif" text-anchor="start" >A</text>
<text x="2.42" y="344.60" font-size="35.5" font-family="'Liberation Serif', serif" text-anchor="start" >B</text>
<text x="475.55" y="37.00" font-size="36.2" font-family="'Liberation Serif', serif" text-anchor="start" >C</text>
<text x="477.11" y="344.60" font-size="36" font-family="'Liberation Serif', serif" text-anchor="start" >D</text>
<text transform="translate(1.60,168.70) scale(1.1,1)" x="0" y="0" font-size="29.0" font-family="'Liberation Serif', serif">Δ</text>
<text x="21.94" y="168.70" font-size="31.3" font-family="'Liberation Serif', serif" text-anchor="start" >z</text>
<text transform="translate(2.40,478.70) scale(1.1,1)" x="0" y="0" font-size="29.0" font-family="'Liberation Serif', serif">Δ</text>
<text x="22.74" y="478.70" font-size="31.3" font-family="'Liberation Serif', serif" text-anchor="start" >z</text>
<text transform="translate(469.70,173.80) scale(1.1,1)" x="0" y="0" font-size="29.0" font-family="'Liberation Serif', serif">Δ</text>
<text x="490.04" y="173.80" font-size="31.3" font-family="'Liberation Serif', serif" text-anchor="start" >z</text>
<text transform="translate(468.30,476.20) scale(1.1,1)" x="0" y="0" font-size="29.0" font-family="'Liberation Serif', serif">Δ</text>
<text x="488.64" y="476.20" font-size="31.3" font-family="'Liberation Serif', serif" text-anchor="start" >z</text>
<text transform="translate(-0.34,199.30) scale(1.06,1)" x="0" y="0" font-size="23.1" font-family="'Liberation Serif', serif">[nm]</text>
<text transform="translate(0.06,510.00) scale(1.06,1)" x="0" y="0" font-size="23.1" font-family="'Liberation Serif', serif">[nm]</text>
<text transform="translate(467.66,204.20) scale(1.06,1)" x="0" y="0" font-size="23.1" font-family="'Liberation Serif', serif">[nm]</text>
<text transform="translate(466.76,507.20) scale(1.06,1)" x="0" y="0" font-size="23.1" font-family="'Liberation Serif', serif">[nm]</text>
<text x="426.16" y="210.30" font-size="33.5" font-family="'Liberation Serif', serif" text-anchor="start" >ω</text>
<text x="428.76" y="529.00" font-size="33.5" font-family="'Liberation Serif', serif" text-anchor="start" >ω</text>
<text x="886.26" y="222.50" font-size="33.5" font-family="'Liberation Serif', serif" text-anchor="start" >ω</text>
<text x="880.66" y="525.50" font-size="33.5" font-family="'Liberation Serif', serif" text-anchor="start" >ω</text>
<text x="416.38" y="232.80" font-size="20.3" font-family="'Liberation Serif', serif" text-anchor="start" >[deg]</text>
<text x="419.28" y="552.90" font-size="20.3" font-family="'Liberation Serif', serif" text-anchor="start" >[deg]</text>
<text x="879.28" y="244.10" font-size="20.3" font-family="'Liberation Serif', serif" text-anchor="start" >[deg]</text>
<text x="871.28" y="545.50" font-size="20.3" font-family="'Liberation Serif', serif" text-anchor="start" >[deg]</text>
<text x="89.07" y="23.20" font-size="15" font-family="'Liberation Serif', serif" text-anchor="start" >d<tspan font-size="8.6" dy="5.5">NW</tspan><tspan dy="-5.5">(ω=0</tspan><tspan font-size="8" dy="-6">o</tspan><tspan dy="6">) = 50nm</tspan></text>
<text x="86.44" y="46.90" font-size="15" font-family="'Liberation Serif', serif" text-anchor="start" >Δz<tspan font-size="8" dy="5">+</tspan><tspan dy="-5"> =Δz</tspan><tspan font-size="8" dy="5">–</tspan><tspan dy="-5">= -5 nm</tspan></text>
<text x="82.88" y="330.20" font-size="15" font-family="'Liberation Serif', serif" text-anchor="start" >d<tspan font-size="8.6" dy="5.5">NW</tspan><tspan dy="-5.5">(ω=0</tspan><tspan font-size="8" dy="-6">o</tspan><tspan dy="6">) = 50 nm</tspan></text>
<text x="83.24" y="352.20" font-size="15" font-family="'Liberation Serif', serif" text-anchor="start" >Δz<tspan font-size="8" dy="5">+</tspan><tspan dy="-5"> = -5 nm</tspan></text>
<text x="81.24" y="372.80" font-size="15" font-family="'Liberation Serif', serif" text-anchor="start" >Δz<tspan font-size="8" dy="5">–</tspan><tspan dy="-5"> = -3 nm</tspan></text>
<text x="543.48" y="11.00" font-size="15" font-family="'Liberation Serif', serif" text-anchor="start" >d<tspan font-size="8.6" dy="5.5">NW</tspan><tspan dy="-5.5">(ω=0</tspan><tspan font-size="8" dy="-6">o</tspan><tspan dy="6">) = r<tspan font-size="8" dy="5">–</tspan><tspan dy="-5"> + r</tspan><tspan font-size="8" dy="5">+</tspan><tspan dy="-5"> =50 nm</tspan></tspan></text>
<text x="550.30" y="32.60" font-size="15" font-family="'Liberation Serif', serif" text-anchor="start" >r<tspan font-size="8" dy="5">–</tspan><tspan dy="-5"> = 24 nm</tspan></text>
<text x="549.30" y="50.50" font-size="15" font-family="'Liberation Serif', serif" text-anchor="start" >r<tspan font-size="8" dy="5">+</tspan><tspan dy="-5"> = 26 nm</tspan></text>
<text x="544.94" y="72.60" font-size="15" font-family="'Liberation Serif', serif" text-anchor="start" >Δz<tspan font-size="8" dy="5">+</tspan><tspan dy="-5"> = -5 nm</tspan></text>
<text x="543.44" y="93.50" font-size="15" font-family="'Liberation Serif', serif" text-anchor="start" >Δz<tspan font-size="8" dy="5">–</tspan><tspan dy="-5"> = -3 nm</tspan></text>
<text x="542.27" y="316.50" font-size="15" font-family="'Liberation Serif', serif" text-anchor="start" >d<tspan font-size="8.6" dy="5.5">NW</tspan><tspan dy="-5.5">(ω=0</tspan><tspan font-size="8" dy="-6">o</tspan><tspan dy="6">) = r<tspan font-size="8" dy="5">–</tspan><tspan dy="-5"> + r</tspan><tspan font-size="8" dy="5">+</tspan><tspan dy="-5"> = 50 nm</tspan></tspan></text>
<text x="551.30" y="341.90" font-size="15" font-family="'Liberation Serif', serif" text-anchor="start" >r<tspan font-size="8" dy="5">+</tspan><tspan dy="-5"> = 2 r</tspan><tspan font-size="8" dy="5">–</tspan><tspan dy="-5"></tspan></text>
<text x="543.24" y="365.40" font-size="15" font-family="'Liberation Serif', serif" text-anchor="start" >Δz<tspan font-size="8" dy="5">+</tspan><tspan dy="-5"> = -5 nm</tspan></text>
<text x="541.84" y="385.90" font-size="15" font-family="'Liberation Serif', serif" text-anchor="start" >Δz<tspan font-size="8" dy="5">–</tspan><tspan dy="-5"> = -3 nm</tspan></text>
<text x="627.46" y="586.00" font-size="15" font-family="'Liberation Sans', sans-serif" text-anchor="start" >Triangular cross section</text>
<line x1="341.7" y1="294.00" x2="375.8" y2="294.00" stroke="#000000" stroke-width="1.9"/>
<text x="379.59" y="299.60" font-size="15" font-family="'Liberation Serif', serif" text-anchor="start" >R<tspan font-size="9" dy="5">I</tspan><tspan dy="-5">=30nm</tspan></text>
<line x1="341.7" y1="316.70" x2="375.8" y2="316.70" stroke="#ff0000" stroke-width="1.9"/>
<text x="379.59" y="322.30" font-size="15" font-family="'Liberation Serif', serif" text-anchor="start" >R<tspan font-size="9" dy="5">I</tspan><tspan dy="-5">=35nm</tspan></text>
<line x1="341.7" y1="339.40" x2="375.8" y2="339.40" stroke="#0000ff" stroke-width="1.9"/>
<text x="379.59" y="345.00" font-size="15" font-family="'Liberation Serif', serif" text-anchor="start" >R<tspan font-size="9" dy="5">I</tspan><tspan dy="-5">=40nm</tspan></text>
<line x1="341.7" y1="362.10" x2="375.8" y2="362.10" stroke="#ff00ff" stroke-width="1.9"/>
<text x="379.59" y="367.70" font-size="15" font-family="'Liberation Serif', serif" text-anchor="start" >R<tspan font-size="9" dy="5">I</tspan><tspan dy="-5">=50nm</tspan></text>
<line x1="341.7" y1="384.80" x2="375.8" y2="384.80" stroke="#008000" stroke-width="1.9"/>
<text x="379.59" y="390.40" font-size="15" font-family="'Liberation Serif', serif" text-anchor="start" >R<tspan font-size="9" dy="5">I</tspan><tspan dy="-5">=60nm</tspan></text>
<text x="82.01" y="617.90" font-size="19" font-family="'Liberation Serif', serif" text-anchor="start" >A<tspan font-size="11.7" dy="4.6">I</tspan></text>
<text x="121.28" y="617.90" font-size="19" font-family="'Liberation Serif', serif" text-anchor="start" >B<tspan font-size="11.7" dy="4.6">II</tspan></text>
<text x="178.61" y="617.90" font-size="19" font-family="'Liberation Serif', serif" text-anchor="start" >A<tspan font-size="11.7" dy="4.6">III</tspan></text>
<text x="234.78" y="617.90" font-size="19" font-family="'Liberation Serif', serif" text-anchor="start" >B<tspan font-size="11.7" dy="4.6">I</tspan></text>
<text x="292.31" y="617.90" font-size="19" font-family="'Liberation Serif', serif" text-anchor="start" >A<tspan font-size="11.7" dy="4.6">II</tspan></text>
<text x="350.28" y="617.90" font-size="19" font-family="'Liberation Serif', serif" text-anchor="start" >B<tspan font-size="11.7" dy="4.6">III</tspan></text>
<text x="388.61" y="617.90" font-size="19" font-family="'Liberation Serif', serif" text-anchor="start" >A<tspan font-size="11.7" dy="4.6">I</tspan></text>
<rect x="438.8" y="106.8" width="1.2" height="1.2" fill="#666"/>
<rect x="845.8" y="46.2" width="1.2" height="1.2" fill="#e8a0b0"/>
<rect x="894.1" y="56.7" width="1.2" height="1.2" fill="#999"/>
<rect x="894.1" y="124.1" width="1.2" height="1.2" fill="#888"/>
</svg></body></html>
